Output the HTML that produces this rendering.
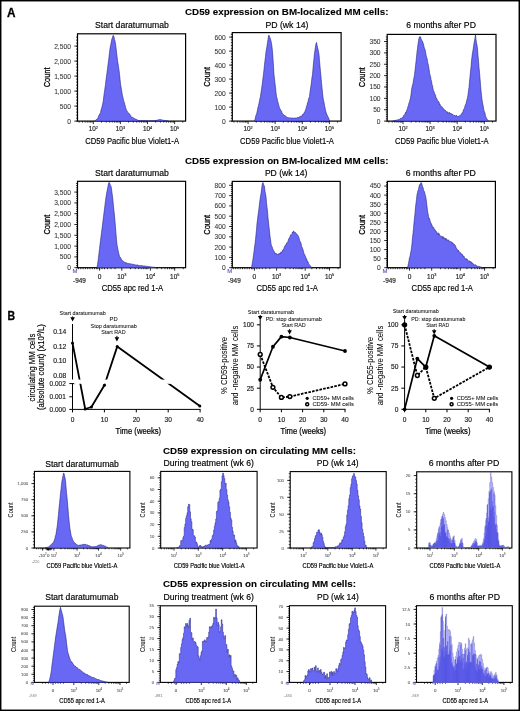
<!DOCTYPE html>
<html><head><meta charset="utf-8"><style>
html,body{margin:0;padding:0;background:#fff;}
svg{display:block;will-change:transform;font-family:"Liberation Sans",sans-serif;}
</style></head><body>
<svg width="520" height="711" viewBox="0 0 520 711">
<rect width="520" height="711" fill="#fff"/>
<rect x="0.7" y="0.7" width="518.6" height="709.6" fill="none" stroke="#000" stroke-width="1.5"/>
<text x="6.90" y="16.60" font-size="12" font-weight="bold" textLength="8.5" lengthAdjust="spacingAndGlyphs" stroke="#000" stroke-width="0.3">A</text>
<text x="7.50" y="320.40" font-size="12" font-weight="bold" textLength="7.6" lengthAdjust="spacingAndGlyphs" stroke="#000" stroke-width="0.3">B</text>
<text x="185.00" y="15.00" font-size="9.8" font-weight="bold" textLength="203.4" lengthAdjust="spacingAndGlyphs" stroke="#000" stroke-width="0.1">CD59 expression on BM-localized MM cells:</text>
<text x="185.00" y="163.70" font-size="9.8" font-weight="bold" textLength="203.4" lengthAdjust="spacingAndGlyphs" stroke="#000" stroke-width="0.1">CD55 expression on BM-localized MM cells:</text>
<rect x="77.50" y="33.80" width="108.10" height="87.30" fill="none" stroke="#000" stroke-width="1.2"/>
<rect x="232.30" y="32.60" width="108.80" height="88.50" fill="none" stroke="#000" stroke-width="1.2"/>
<rect x="387.20" y="34.40" width="108.80" height="86.70" fill="none" stroke="#000" stroke-width="1.2"/>
<text x="95.00" y="27.70" font-size="8.6" textLength="73.8" lengthAdjust="spacingAndGlyphs" stroke="#000" stroke-width="0.16">Start daratumumab</text>
<text x="265.40" y="27.70" font-size="8.6" textLength="43.1" lengthAdjust="spacingAndGlyphs" stroke="#000" stroke-width="0.16">PD (wk 14)</text>
<text x="406.20" y="27.70" font-size="8.6" textLength="69.7" lengthAdjust="spacingAndGlyphs" stroke="#000" stroke-width="0.16">6 months after PD</text>
<line x1="74.30" y1="121.10" x2="77.50" y2="121.10" stroke="#000" stroke-width="0.8"/>
<text x="70.90" y="123.51" font-size="6.7" text-anchor="end" fill="#333" stroke="#333" stroke-width="0.06">0</text>
<line x1="74.30" y1="106.10" x2="77.50" y2="106.10" stroke="#000" stroke-width="0.8"/>
<text x="70.90" y="108.51" font-size="6.7" text-anchor="end" fill="#333" stroke="#333" stroke-width="0.06">500</text>
<line x1="74.30" y1="91.10" x2="77.50" y2="91.10" stroke="#000" stroke-width="0.8"/>
<text x="70.90" y="93.51" font-size="6.7" text-anchor="end" fill="#333" stroke="#333" stroke-width="0.06">1,000</text>
<line x1="74.30" y1="76.10" x2="77.50" y2="76.10" stroke="#000" stroke-width="0.8"/>
<text x="70.90" y="78.51" font-size="6.7" text-anchor="end" fill="#333" stroke="#333" stroke-width="0.06">1,500</text>
<line x1="74.30" y1="61.10" x2="77.50" y2="61.10" stroke="#000" stroke-width="0.8"/>
<text x="70.90" y="63.51" font-size="6.7" text-anchor="end" fill="#333" stroke="#333" stroke-width="0.06">2,000</text>
<line x1="74.30" y1="46.10" x2="77.50" y2="46.10" stroke="#000" stroke-width="0.8"/>
<text x="70.90" y="48.51" font-size="6.7" text-anchor="end" fill="#333" stroke="#333" stroke-width="0.06">2,500</text>
<line x1="76.10" y1="121.10" x2="77.50" y2="121.10" stroke="#000" stroke-width="0.8"/>
<line x1="76.10" y1="118.10" x2="77.50" y2="118.10" stroke="#000" stroke-width="0.8"/>
<line x1="76.10" y1="115.10" x2="77.50" y2="115.10" stroke="#000" stroke-width="0.8"/>
<line x1="76.10" y1="112.10" x2="77.50" y2="112.10" stroke="#000" stroke-width="0.8"/>
<line x1="76.10" y1="109.10" x2="77.50" y2="109.10" stroke="#000" stroke-width="0.8"/>
<line x1="76.10" y1="106.10" x2="77.50" y2="106.10" stroke="#000" stroke-width="0.8"/>
<line x1="76.10" y1="103.10" x2="77.50" y2="103.10" stroke="#000" stroke-width="0.8"/>
<line x1="76.10" y1="100.10" x2="77.50" y2="100.10" stroke="#000" stroke-width="0.8"/>
<line x1="76.10" y1="97.10" x2="77.50" y2="97.10" stroke="#000" stroke-width="0.8"/>
<line x1="76.10" y1="94.10" x2="77.50" y2="94.10" stroke="#000" stroke-width="0.8"/>
<line x1="76.10" y1="91.10" x2="77.50" y2="91.10" stroke="#000" stroke-width="0.8"/>
<line x1="76.10" y1="88.10" x2="77.50" y2="88.10" stroke="#000" stroke-width="0.8"/>
<line x1="76.10" y1="85.10" x2="77.50" y2="85.10" stroke="#000" stroke-width="0.8"/>
<line x1="76.10" y1="82.10" x2="77.50" y2="82.10" stroke="#000" stroke-width="0.8"/>
<line x1="76.10" y1="79.10" x2="77.50" y2="79.10" stroke="#000" stroke-width="0.8"/>
<line x1="76.10" y1="76.10" x2="77.50" y2="76.10" stroke="#000" stroke-width="0.8"/>
<line x1="76.10" y1="73.10" x2="77.50" y2="73.10" stroke="#000" stroke-width="0.8"/>
<line x1="76.10" y1="70.10" x2="77.50" y2="70.10" stroke="#000" stroke-width="0.8"/>
<line x1="76.10" y1="67.10" x2="77.50" y2="67.10" stroke="#000" stroke-width="0.8"/>
<line x1="76.10" y1="64.10" x2="77.50" y2="64.10" stroke="#000" stroke-width="0.8"/>
<line x1="76.10" y1="61.10" x2="77.50" y2="61.10" stroke="#000" stroke-width="0.8"/>
<line x1="76.10" y1="58.10" x2="77.50" y2="58.10" stroke="#000" stroke-width="0.8"/>
<line x1="76.10" y1="55.10" x2="77.50" y2="55.10" stroke="#000" stroke-width="0.8"/>
<line x1="76.10" y1="52.10" x2="77.50" y2="52.10" stroke="#000" stroke-width="0.8"/>
<line x1="76.10" y1="49.10" x2="77.50" y2="49.10" stroke="#000" stroke-width="0.8"/>
<line x1="76.10" y1="46.10" x2="77.50" y2="46.10" stroke="#000" stroke-width="0.8"/>
<line x1="76.10" y1="43.10" x2="77.50" y2="43.10" stroke="#000" stroke-width="0.8"/>
<line x1="76.10" y1="40.10" x2="77.50" y2="40.10" stroke="#000" stroke-width="0.8"/>
<line x1="76.10" y1="37.10" x2="77.50" y2="37.10" stroke="#000" stroke-width="0.8"/>
<line x1="229.10" y1="121.10" x2="232.30" y2="121.10" stroke="#000" stroke-width="0.8"/>
<text x="225.70" y="123.51" font-size="6.7" text-anchor="end" fill="#333" stroke="#333" stroke-width="0.06">0</text>
<line x1="229.10" y1="107.10" x2="232.30" y2="107.10" stroke="#000" stroke-width="0.8"/>
<text x="225.70" y="109.51" font-size="6.7" text-anchor="end" fill="#333" stroke="#333" stroke-width="0.06">100</text>
<line x1="229.10" y1="93.10" x2="232.30" y2="93.10" stroke="#000" stroke-width="0.8"/>
<text x="225.70" y="95.51" font-size="6.7" text-anchor="end" fill="#333" stroke="#333" stroke-width="0.06">200</text>
<line x1="229.10" y1="79.10" x2="232.30" y2="79.10" stroke="#000" stroke-width="0.8"/>
<text x="225.70" y="81.51" font-size="6.7" text-anchor="end" fill="#333" stroke="#333" stroke-width="0.06">300</text>
<line x1="229.10" y1="65.10" x2="232.30" y2="65.10" stroke="#000" stroke-width="0.8"/>
<text x="225.70" y="67.51" font-size="6.7" text-anchor="end" fill="#333" stroke="#333" stroke-width="0.06">400</text>
<line x1="229.10" y1="51.10" x2="232.30" y2="51.10" stroke="#000" stroke-width="0.8"/>
<text x="225.70" y="53.51" font-size="6.7" text-anchor="end" fill="#333" stroke="#333" stroke-width="0.06">500</text>
<line x1="229.10" y1="37.10" x2="232.30" y2="37.10" stroke="#000" stroke-width="0.8"/>
<text x="225.70" y="39.51" font-size="6.7" text-anchor="end" fill="#333" stroke="#333" stroke-width="0.06">600</text>
<line x1="230.90" y1="121.10" x2="232.30" y2="121.10" stroke="#000" stroke-width="0.8"/>
<line x1="230.90" y1="118.30" x2="232.30" y2="118.30" stroke="#000" stroke-width="0.8"/>
<line x1="230.90" y1="115.50" x2="232.30" y2="115.50" stroke="#000" stroke-width="0.8"/>
<line x1="230.90" y1="112.70" x2="232.30" y2="112.70" stroke="#000" stroke-width="0.8"/>
<line x1="230.90" y1="109.90" x2="232.30" y2="109.90" stroke="#000" stroke-width="0.8"/>
<line x1="230.90" y1="107.10" x2="232.30" y2="107.10" stroke="#000" stroke-width="0.8"/>
<line x1="230.90" y1="104.30" x2="232.30" y2="104.30" stroke="#000" stroke-width="0.8"/>
<line x1="230.90" y1="101.50" x2="232.30" y2="101.50" stroke="#000" stroke-width="0.8"/>
<line x1="230.90" y1="98.70" x2="232.30" y2="98.70" stroke="#000" stroke-width="0.8"/>
<line x1="230.90" y1="95.90" x2="232.30" y2="95.90" stroke="#000" stroke-width="0.8"/>
<line x1="230.90" y1="93.10" x2="232.30" y2="93.10" stroke="#000" stroke-width="0.8"/>
<line x1="230.90" y1="90.30" x2="232.30" y2="90.30" stroke="#000" stroke-width="0.8"/>
<line x1="230.90" y1="87.50" x2="232.30" y2="87.50" stroke="#000" stroke-width="0.8"/>
<line x1="230.90" y1="84.70" x2="232.30" y2="84.70" stroke="#000" stroke-width="0.8"/>
<line x1="230.90" y1="81.90" x2="232.30" y2="81.90" stroke="#000" stroke-width="0.8"/>
<line x1="230.90" y1="79.10" x2="232.30" y2="79.10" stroke="#000" stroke-width="0.8"/>
<line x1="230.90" y1="76.30" x2="232.30" y2="76.30" stroke="#000" stroke-width="0.8"/>
<line x1="230.90" y1="73.50" x2="232.30" y2="73.50" stroke="#000" stroke-width="0.8"/>
<line x1="230.90" y1="70.70" x2="232.30" y2="70.70" stroke="#000" stroke-width="0.8"/>
<line x1="230.90" y1="67.90" x2="232.30" y2="67.90" stroke="#000" stroke-width="0.8"/>
<line x1="230.90" y1="65.10" x2="232.30" y2="65.10" stroke="#000" stroke-width="0.8"/>
<line x1="230.90" y1="62.30" x2="232.30" y2="62.30" stroke="#000" stroke-width="0.8"/>
<line x1="230.90" y1="59.50" x2="232.30" y2="59.50" stroke="#000" stroke-width="0.8"/>
<line x1="230.90" y1="56.70" x2="232.30" y2="56.70" stroke="#000" stroke-width="0.8"/>
<line x1="230.90" y1="53.90" x2="232.30" y2="53.90" stroke="#000" stroke-width="0.8"/>
<line x1="230.90" y1="51.10" x2="232.30" y2="51.10" stroke="#000" stroke-width="0.8"/>
<line x1="230.90" y1="48.30" x2="232.30" y2="48.30" stroke="#000" stroke-width="0.8"/>
<line x1="230.90" y1="45.50" x2="232.30" y2="45.50" stroke="#000" stroke-width="0.8"/>
<line x1="230.90" y1="42.70" x2="232.30" y2="42.70" stroke="#000" stroke-width="0.8"/>
<line x1="230.90" y1="39.90" x2="232.30" y2="39.90" stroke="#000" stroke-width="0.8"/>
<line x1="230.90" y1="37.10" x2="232.30" y2="37.10" stroke="#000" stroke-width="0.8"/>
<line x1="230.90" y1="34.30" x2="232.30" y2="34.30" stroke="#000" stroke-width="0.8"/>
<line x1="384.00" y1="121.10" x2="387.20" y2="121.10" stroke="#000" stroke-width="0.8"/>
<text x="380.60" y="123.51" font-size="6.7" text-anchor="end" fill="#333" stroke="#333" stroke-width="0.06">0</text>
<line x1="384.00" y1="109.73" x2="387.20" y2="109.73" stroke="#000" stroke-width="0.8"/>
<text x="380.60" y="112.14" font-size="6.7" text-anchor="end" fill="#333" stroke="#333" stroke-width="0.06">50</text>
<line x1="384.00" y1="98.36" x2="387.20" y2="98.36" stroke="#000" stroke-width="0.8"/>
<text x="380.60" y="100.77" font-size="6.7" text-anchor="end" fill="#333" stroke="#333" stroke-width="0.06">100</text>
<line x1="384.00" y1="86.99" x2="387.20" y2="86.99" stroke="#000" stroke-width="0.8"/>
<text x="380.60" y="89.40" font-size="6.7" text-anchor="end" fill="#333" stroke="#333" stroke-width="0.06">150</text>
<line x1="384.00" y1="75.62" x2="387.20" y2="75.62" stroke="#000" stroke-width="0.8"/>
<text x="380.60" y="78.03" font-size="6.7" text-anchor="end" fill="#333" stroke="#333" stroke-width="0.06">200</text>
<line x1="384.00" y1="64.25" x2="387.20" y2="64.25" stroke="#000" stroke-width="0.8"/>
<text x="380.60" y="66.66" font-size="6.7" text-anchor="end" fill="#333" stroke="#333" stroke-width="0.06">250</text>
<line x1="384.00" y1="52.88" x2="387.20" y2="52.88" stroke="#000" stroke-width="0.8"/>
<text x="380.60" y="55.29" font-size="6.7" text-anchor="end" fill="#333" stroke="#333" stroke-width="0.06">300</text>
<line x1="384.00" y1="41.51" x2="387.20" y2="41.51" stroke="#000" stroke-width="0.8"/>
<text x="380.60" y="43.92" font-size="6.7" text-anchor="end" fill="#333" stroke="#333" stroke-width="0.06">350</text>
<line x1="385.80" y1="121.10" x2="387.20" y2="121.10" stroke="#000" stroke-width="0.8"/>
<line x1="385.80" y1="118.83" x2="387.20" y2="118.83" stroke="#000" stroke-width="0.8"/>
<line x1="385.80" y1="116.55" x2="387.20" y2="116.55" stroke="#000" stroke-width="0.8"/>
<line x1="385.80" y1="114.28" x2="387.20" y2="114.28" stroke="#000" stroke-width="0.8"/>
<line x1="385.80" y1="112.00" x2="387.20" y2="112.00" stroke="#000" stroke-width="0.8"/>
<line x1="385.80" y1="109.73" x2="387.20" y2="109.73" stroke="#000" stroke-width="0.8"/>
<line x1="385.80" y1="107.46" x2="387.20" y2="107.46" stroke="#000" stroke-width="0.8"/>
<line x1="385.80" y1="105.18" x2="387.20" y2="105.18" stroke="#000" stroke-width="0.8"/>
<line x1="385.80" y1="102.91" x2="387.20" y2="102.91" stroke="#000" stroke-width="0.8"/>
<line x1="385.80" y1="100.63" x2="387.20" y2="100.63" stroke="#000" stroke-width="0.8"/>
<line x1="385.80" y1="98.36" x2="387.20" y2="98.36" stroke="#000" stroke-width="0.8"/>
<line x1="385.80" y1="96.09" x2="387.20" y2="96.09" stroke="#000" stroke-width="0.8"/>
<line x1="385.80" y1="93.81" x2="387.20" y2="93.81" stroke="#000" stroke-width="0.8"/>
<line x1="385.80" y1="91.54" x2="387.20" y2="91.54" stroke="#000" stroke-width="0.8"/>
<line x1="385.80" y1="89.26" x2="387.20" y2="89.26" stroke="#000" stroke-width="0.8"/>
<line x1="385.80" y1="86.99" x2="387.20" y2="86.99" stroke="#000" stroke-width="0.8"/>
<line x1="385.80" y1="84.72" x2="387.20" y2="84.72" stroke="#000" stroke-width="0.8"/>
<line x1="385.80" y1="82.44" x2="387.20" y2="82.44" stroke="#000" stroke-width="0.8"/>
<line x1="385.80" y1="80.17" x2="387.20" y2="80.17" stroke="#000" stroke-width="0.8"/>
<line x1="385.80" y1="77.89" x2="387.20" y2="77.89" stroke="#000" stroke-width="0.8"/>
<line x1="385.80" y1="75.62" x2="387.20" y2="75.62" stroke="#000" stroke-width="0.8"/>
<line x1="385.80" y1="73.35" x2="387.20" y2="73.35" stroke="#000" stroke-width="0.8"/>
<line x1="385.80" y1="71.07" x2="387.20" y2="71.07" stroke="#000" stroke-width="0.8"/>
<line x1="385.80" y1="68.80" x2="387.20" y2="68.80" stroke="#000" stroke-width="0.8"/>
<line x1="385.80" y1="66.52" x2="387.20" y2="66.52" stroke="#000" stroke-width="0.8"/>
<line x1="385.80" y1="64.25" x2="387.20" y2="64.25" stroke="#000" stroke-width="0.8"/>
<line x1="385.80" y1="61.98" x2="387.20" y2="61.98" stroke="#000" stroke-width="0.8"/>
<line x1="385.80" y1="59.70" x2="387.20" y2="59.70" stroke="#000" stroke-width="0.8"/>
<line x1="385.80" y1="57.43" x2="387.20" y2="57.43" stroke="#000" stroke-width="0.8"/>
<line x1="385.80" y1="55.15" x2="387.20" y2="55.15" stroke="#000" stroke-width="0.8"/>
<line x1="385.80" y1="52.88" x2="387.20" y2="52.88" stroke="#000" stroke-width="0.8"/>
<line x1="385.80" y1="50.61" x2="387.20" y2="50.61" stroke="#000" stroke-width="0.8"/>
<line x1="385.80" y1="48.33" x2="387.20" y2="48.33" stroke="#000" stroke-width="0.8"/>
<line x1="385.80" y1="46.06" x2="387.20" y2="46.06" stroke="#000" stroke-width="0.8"/>
<line x1="385.80" y1="43.78" x2="387.20" y2="43.78" stroke="#000" stroke-width="0.8"/>
<line x1="385.80" y1="41.51" x2="387.20" y2="41.51" stroke="#000" stroke-width="0.8"/>
<line x1="385.80" y1="39.24" x2="387.20" y2="39.24" stroke="#000" stroke-width="0.8"/>
<line x1="385.80" y1="36.96" x2="387.20" y2="36.96" stroke="#000" stroke-width="0.8"/>
<text x="50.00" y="77.40" font-size="9.8" text-anchor="middle" textLength="19.8" lengthAdjust="spacingAndGlyphs" transform="rotate(-90 50.00 77.40)" stroke="#000" stroke-width="0.3">Count</text>
<text x="209.90" y="76.90" font-size="9.8" text-anchor="middle" textLength="19.8" lengthAdjust="spacingAndGlyphs" transform="rotate(-90 209.90 76.90)" stroke="#000" stroke-width="0.3">Count</text>
<text x="364.90" y="77.30" font-size="9.8" text-anchor="middle" textLength="19.8" lengthAdjust="spacingAndGlyphs" transform="rotate(-90 364.90 77.30)" stroke="#000" stroke-width="0.3">Count</text>
<line x1="93.30" y1="121.10" x2="93.30" y2="124.10" stroke="#000" stroke-width="0.8"/>
<line x1="120.40" y1="121.10" x2="120.40" y2="124.10" stroke="#000" stroke-width="0.8"/>
<line x1="147.50" y1="121.10" x2="147.50" y2="124.10" stroke="#000" stroke-width="0.8"/>
<line x1="174.60" y1="121.10" x2="174.60" y2="124.10" stroke="#000" stroke-width="0.8"/>
<line x1="79.13" y1="121.10" x2="79.13" y2="122.60" stroke="#000" stroke-width="0.8"/>
<line x1="82.52" y1="121.10" x2="82.52" y2="122.60" stroke="#000" stroke-width="0.8"/>
<line x1="85.14" y1="121.10" x2="85.14" y2="122.60" stroke="#000" stroke-width="0.8"/>
<line x1="87.29" y1="121.10" x2="87.29" y2="122.60" stroke="#000" stroke-width="0.8"/>
<line x1="89.10" y1="121.10" x2="89.10" y2="122.60" stroke="#000" stroke-width="0.8"/>
<line x1="90.67" y1="121.10" x2="90.67" y2="122.60" stroke="#000" stroke-width="0.8"/>
<line x1="92.06" y1="121.10" x2="92.06" y2="122.60" stroke="#000" stroke-width="0.8"/>
<line x1="101.46" y1="121.10" x2="101.46" y2="122.60" stroke="#000" stroke-width="0.8"/>
<line x1="106.23" y1="121.10" x2="106.23" y2="122.60" stroke="#000" stroke-width="0.8"/>
<line x1="109.62" y1="121.10" x2="109.62" y2="122.60" stroke="#000" stroke-width="0.8"/>
<line x1="112.24" y1="121.10" x2="112.24" y2="122.60" stroke="#000" stroke-width="0.8"/>
<line x1="114.39" y1="121.10" x2="114.39" y2="122.60" stroke="#000" stroke-width="0.8"/>
<line x1="116.20" y1="121.10" x2="116.20" y2="122.60" stroke="#000" stroke-width="0.8"/>
<line x1="117.77" y1="121.10" x2="117.77" y2="122.60" stroke="#000" stroke-width="0.8"/>
<line x1="119.16" y1="121.10" x2="119.16" y2="122.60" stroke="#000" stroke-width="0.8"/>
<line x1="128.56" y1="121.10" x2="128.56" y2="122.60" stroke="#000" stroke-width="0.8"/>
<line x1="133.33" y1="121.10" x2="133.33" y2="122.60" stroke="#000" stroke-width="0.8"/>
<line x1="136.72" y1="121.10" x2="136.72" y2="122.60" stroke="#000" stroke-width="0.8"/>
<line x1="139.34" y1="121.10" x2="139.34" y2="122.60" stroke="#000" stroke-width="0.8"/>
<line x1="141.49" y1="121.10" x2="141.49" y2="122.60" stroke="#000" stroke-width="0.8"/>
<line x1="143.30" y1="121.10" x2="143.30" y2="122.60" stroke="#000" stroke-width="0.8"/>
<line x1="144.87" y1="121.10" x2="144.87" y2="122.60" stroke="#000" stroke-width="0.8"/>
<line x1="146.26" y1="121.10" x2="146.26" y2="122.60" stroke="#000" stroke-width="0.8"/>
<line x1="155.66" y1="121.10" x2="155.66" y2="122.60" stroke="#000" stroke-width="0.8"/>
<line x1="160.43" y1="121.10" x2="160.43" y2="122.60" stroke="#000" stroke-width="0.8"/>
<line x1="163.82" y1="121.10" x2="163.82" y2="122.60" stroke="#000" stroke-width="0.8"/>
<line x1="166.44" y1="121.10" x2="166.44" y2="122.60" stroke="#000" stroke-width="0.8"/>
<line x1="168.59" y1="121.10" x2="168.59" y2="122.60" stroke="#000" stroke-width="0.8"/>
<line x1="170.40" y1="121.10" x2="170.40" y2="122.60" stroke="#000" stroke-width="0.8"/>
<line x1="171.97" y1="121.10" x2="171.97" y2="122.60" stroke="#000" stroke-width="0.8"/>
<line x1="173.36" y1="121.10" x2="173.36" y2="122.60" stroke="#000" stroke-width="0.8"/>
<line x1="182.76" y1="121.10" x2="182.76" y2="122.60" stroke="#000" stroke-width="0.8"/>
<text x="93.30" y="131.40" font-size="6.4" text-anchor="middle" fill="#222" stroke="#222" stroke-width="0.16">10<tspan font-size="3.8" dy="-2.69">2</tspan></text>
<text x="120.40" y="131.40" font-size="6.4" text-anchor="middle" fill="#222" stroke="#222" stroke-width="0.16">10<tspan font-size="3.8" dy="-2.69">3</tspan></text>
<text x="147.50" y="131.40" font-size="6.4" text-anchor="middle" fill="#222" stroke="#222" stroke-width="0.16">10<tspan font-size="3.8" dy="-2.69">4</tspan></text>
<text x="174.60" y="131.40" font-size="6.4" text-anchor="middle" fill="#222" stroke="#222" stroke-width="0.16">10<tspan font-size="3.8" dy="-2.69">5</tspan></text>
<text x="85.30" y="143.80" font-size="8.8" textLength="93.7" lengthAdjust="spacingAndGlyphs" stroke="#000" stroke-width="0.16">CD59 Pacific blue Violet1-A</text>
<line x1="248.10" y1="121.10" x2="248.10" y2="124.10" stroke="#000" stroke-width="0.8"/>
<line x1="275.20" y1="121.10" x2="275.20" y2="124.10" stroke="#000" stroke-width="0.8"/>
<line x1="302.30" y1="121.10" x2="302.30" y2="124.10" stroke="#000" stroke-width="0.8"/>
<line x1="329.40" y1="121.10" x2="329.40" y2="124.10" stroke="#000" stroke-width="0.8"/>
<line x1="233.93" y1="121.10" x2="233.93" y2="122.60" stroke="#000" stroke-width="0.8"/>
<line x1="237.32" y1="121.10" x2="237.32" y2="122.60" stroke="#000" stroke-width="0.8"/>
<line x1="239.94" y1="121.10" x2="239.94" y2="122.60" stroke="#000" stroke-width="0.8"/>
<line x1="242.09" y1="121.10" x2="242.09" y2="122.60" stroke="#000" stroke-width="0.8"/>
<line x1="243.90" y1="121.10" x2="243.90" y2="122.60" stroke="#000" stroke-width="0.8"/>
<line x1="245.47" y1="121.10" x2="245.47" y2="122.60" stroke="#000" stroke-width="0.8"/>
<line x1="246.86" y1="121.10" x2="246.86" y2="122.60" stroke="#000" stroke-width="0.8"/>
<line x1="256.26" y1="121.10" x2="256.26" y2="122.60" stroke="#000" stroke-width="0.8"/>
<line x1="261.03" y1="121.10" x2="261.03" y2="122.60" stroke="#000" stroke-width="0.8"/>
<line x1="264.42" y1="121.10" x2="264.42" y2="122.60" stroke="#000" stroke-width="0.8"/>
<line x1="267.04" y1="121.10" x2="267.04" y2="122.60" stroke="#000" stroke-width="0.8"/>
<line x1="269.19" y1="121.10" x2="269.19" y2="122.60" stroke="#000" stroke-width="0.8"/>
<line x1="271.00" y1="121.10" x2="271.00" y2="122.60" stroke="#000" stroke-width="0.8"/>
<line x1="272.57" y1="121.10" x2="272.57" y2="122.60" stroke="#000" stroke-width="0.8"/>
<line x1="273.96" y1="121.10" x2="273.96" y2="122.60" stroke="#000" stroke-width="0.8"/>
<line x1="283.36" y1="121.10" x2="283.36" y2="122.60" stroke="#000" stroke-width="0.8"/>
<line x1="288.13" y1="121.10" x2="288.13" y2="122.60" stroke="#000" stroke-width="0.8"/>
<line x1="291.52" y1="121.10" x2="291.52" y2="122.60" stroke="#000" stroke-width="0.8"/>
<line x1="294.14" y1="121.10" x2="294.14" y2="122.60" stroke="#000" stroke-width="0.8"/>
<line x1="296.29" y1="121.10" x2="296.29" y2="122.60" stroke="#000" stroke-width="0.8"/>
<line x1="298.10" y1="121.10" x2="298.10" y2="122.60" stroke="#000" stroke-width="0.8"/>
<line x1="299.67" y1="121.10" x2="299.67" y2="122.60" stroke="#000" stroke-width="0.8"/>
<line x1="301.06" y1="121.10" x2="301.06" y2="122.60" stroke="#000" stroke-width="0.8"/>
<line x1="310.46" y1="121.10" x2="310.46" y2="122.60" stroke="#000" stroke-width="0.8"/>
<line x1="315.23" y1="121.10" x2="315.23" y2="122.60" stroke="#000" stroke-width="0.8"/>
<line x1="318.62" y1="121.10" x2="318.62" y2="122.60" stroke="#000" stroke-width="0.8"/>
<line x1="321.24" y1="121.10" x2="321.24" y2="122.60" stroke="#000" stroke-width="0.8"/>
<line x1="323.39" y1="121.10" x2="323.39" y2="122.60" stroke="#000" stroke-width="0.8"/>
<line x1="325.20" y1="121.10" x2="325.20" y2="122.60" stroke="#000" stroke-width="0.8"/>
<line x1="326.77" y1="121.10" x2="326.77" y2="122.60" stroke="#000" stroke-width="0.8"/>
<line x1="328.16" y1="121.10" x2="328.16" y2="122.60" stroke="#000" stroke-width="0.8"/>
<line x1="337.56" y1="121.10" x2="337.56" y2="122.60" stroke="#000" stroke-width="0.8"/>
<text x="248.10" y="131.40" font-size="6.4" text-anchor="middle" fill="#222" stroke="#222" stroke-width="0.16">10<tspan font-size="3.8" dy="-2.69">2</tspan></text>
<text x="275.20" y="131.40" font-size="6.4" text-anchor="middle" fill="#222" stroke="#222" stroke-width="0.16">10<tspan font-size="3.8" dy="-2.69">3</tspan></text>
<text x="302.30" y="131.40" font-size="6.4" text-anchor="middle" fill="#222" stroke="#222" stroke-width="0.16">10<tspan font-size="3.8" dy="-2.69">4</tspan></text>
<text x="329.40" y="131.40" font-size="6.4" text-anchor="middle" fill="#222" stroke="#222" stroke-width="0.16">10<tspan font-size="3.8" dy="-2.69">5</tspan></text>
<text x="240.10" y="143.80" font-size="8.8" textLength="93.7" lengthAdjust="spacingAndGlyphs" stroke="#000" stroke-width="0.16">CD59 Pacific blue Violet1-A</text>
<line x1="403.00" y1="121.10" x2="403.00" y2="124.10" stroke="#000" stroke-width="0.8"/>
<line x1="430.10" y1="121.10" x2="430.10" y2="124.10" stroke="#000" stroke-width="0.8"/>
<line x1="457.20" y1="121.10" x2="457.20" y2="124.10" stroke="#000" stroke-width="0.8"/>
<line x1="484.30" y1="121.10" x2="484.30" y2="124.10" stroke="#000" stroke-width="0.8"/>
<line x1="388.83" y1="121.10" x2="388.83" y2="122.60" stroke="#000" stroke-width="0.8"/>
<line x1="392.22" y1="121.10" x2="392.22" y2="122.60" stroke="#000" stroke-width="0.8"/>
<line x1="394.84" y1="121.10" x2="394.84" y2="122.60" stroke="#000" stroke-width="0.8"/>
<line x1="396.99" y1="121.10" x2="396.99" y2="122.60" stroke="#000" stroke-width="0.8"/>
<line x1="398.80" y1="121.10" x2="398.80" y2="122.60" stroke="#000" stroke-width="0.8"/>
<line x1="400.37" y1="121.10" x2="400.37" y2="122.60" stroke="#000" stroke-width="0.8"/>
<line x1="401.76" y1="121.10" x2="401.76" y2="122.60" stroke="#000" stroke-width="0.8"/>
<line x1="411.16" y1="121.10" x2="411.16" y2="122.60" stroke="#000" stroke-width="0.8"/>
<line x1="415.93" y1="121.10" x2="415.93" y2="122.60" stroke="#000" stroke-width="0.8"/>
<line x1="419.32" y1="121.10" x2="419.32" y2="122.60" stroke="#000" stroke-width="0.8"/>
<line x1="421.94" y1="121.10" x2="421.94" y2="122.60" stroke="#000" stroke-width="0.8"/>
<line x1="424.09" y1="121.10" x2="424.09" y2="122.60" stroke="#000" stroke-width="0.8"/>
<line x1="425.90" y1="121.10" x2="425.90" y2="122.60" stroke="#000" stroke-width="0.8"/>
<line x1="427.47" y1="121.10" x2="427.47" y2="122.60" stroke="#000" stroke-width="0.8"/>
<line x1="428.86" y1="121.10" x2="428.86" y2="122.60" stroke="#000" stroke-width="0.8"/>
<line x1="438.26" y1="121.10" x2="438.26" y2="122.60" stroke="#000" stroke-width="0.8"/>
<line x1="443.03" y1="121.10" x2="443.03" y2="122.60" stroke="#000" stroke-width="0.8"/>
<line x1="446.42" y1="121.10" x2="446.42" y2="122.60" stroke="#000" stroke-width="0.8"/>
<line x1="449.04" y1="121.10" x2="449.04" y2="122.60" stroke="#000" stroke-width="0.8"/>
<line x1="451.19" y1="121.10" x2="451.19" y2="122.60" stroke="#000" stroke-width="0.8"/>
<line x1="453.00" y1="121.10" x2="453.00" y2="122.60" stroke="#000" stroke-width="0.8"/>
<line x1="454.57" y1="121.10" x2="454.57" y2="122.60" stroke="#000" stroke-width="0.8"/>
<line x1="455.96" y1="121.10" x2="455.96" y2="122.60" stroke="#000" stroke-width="0.8"/>
<line x1="465.36" y1="121.10" x2="465.36" y2="122.60" stroke="#000" stroke-width="0.8"/>
<line x1="470.13" y1="121.10" x2="470.13" y2="122.60" stroke="#000" stroke-width="0.8"/>
<line x1="473.52" y1="121.10" x2="473.52" y2="122.60" stroke="#000" stroke-width="0.8"/>
<line x1="476.14" y1="121.10" x2="476.14" y2="122.60" stroke="#000" stroke-width="0.8"/>
<line x1="478.29" y1="121.10" x2="478.29" y2="122.60" stroke="#000" stroke-width="0.8"/>
<line x1="480.10" y1="121.10" x2="480.10" y2="122.60" stroke="#000" stroke-width="0.8"/>
<line x1="481.67" y1="121.10" x2="481.67" y2="122.60" stroke="#000" stroke-width="0.8"/>
<line x1="483.06" y1="121.10" x2="483.06" y2="122.60" stroke="#000" stroke-width="0.8"/>
<line x1="492.46" y1="121.10" x2="492.46" y2="122.60" stroke="#000" stroke-width="0.8"/>
<text x="403.00" y="131.40" font-size="6.4" text-anchor="middle" fill="#222" stroke="#222" stroke-width="0.16">10<tspan font-size="3.8" dy="-2.69">2</tspan></text>
<text x="430.10" y="131.40" font-size="6.4" text-anchor="middle" fill="#222" stroke="#222" stroke-width="0.16">10<tspan font-size="3.8" dy="-2.69">3</tspan></text>
<text x="457.20" y="131.40" font-size="6.4" text-anchor="middle" fill="#222" stroke="#222" stroke-width="0.16">10<tspan font-size="3.8" dy="-2.69">4</tspan></text>
<text x="484.30" y="131.40" font-size="6.4" text-anchor="middle" fill="#222" stroke="#222" stroke-width="0.16">10<tspan font-size="3.8" dy="-2.69">5</tspan></text>
<text x="395.00" y="143.80" font-size="8.8" textLength="93.7" lengthAdjust="spacingAndGlyphs" stroke="#000" stroke-width="0.16">CD59 Pacific blue Violet1-A</text>
<rect x="77.50" y="181.30" width="108.10" height="86.40" fill="none" stroke="#000" stroke-width="1.2"/>
<rect x="232.30" y="181.40" width="107.90" height="86.30" fill="none" stroke="#000" stroke-width="1.2"/>
<rect x="387.40" y="181.40" width="108.00" height="86.30" fill="none" stroke="#000" stroke-width="1.2"/>
<text x="95.00" y="176.20" font-size="8.6" textLength="73.8" lengthAdjust="spacingAndGlyphs" stroke="#000" stroke-width="0.16">Start daratumumab</text>
<text x="264.90" y="176.20" font-size="8.6" textLength="42.5" lengthAdjust="spacingAndGlyphs" stroke="#000" stroke-width="0.16">PD (wk 14)</text>
<text x="405.70" y="176.20" font-size="8.6" textLength="70.2" lengthAdjust="spacingAndGlyphs" stroke="#000" stroke-width="0.16">6 months after PD</text>
<line x1="74.30" y1="267.70" x2="77.50" y2="267.70" stroke="#000" stroke-width="0.8"/>
<text x="70.90" y="270.11" font-size="6.7" text-anchor="end" fill="#333" stroke="#333" stroke-width="0.06">0</text>
<line x1="74.30" y1="256.90" x2="77.50" y2="256.90" stroke="#000" stroke-width="0.8"/>
<text x="70.90" y="259.31" font-size="6.7" text-anchor="end" fill="#333" stroke="#333" stroke-width="0.06">500</text>
<line x1="74.30" y1="246.10" x2="77.50" y2="246.10" stroke="#000" stroke-width="0.8"/>
<text x="70.90" y="248.51" font-size="6.7" text-anchor="end" fill="#333" stroke="#333" stroke-width="0.06">1,000</text>
<line x1="74.30" y1="235.30" x2="77.50" y2="235.30" stroke="#000" stroke-width="0.8"/>
<text x="70.90" y="237.71" font-size="6.7" text-anchor="end" fill="#333" stroke="#333" stroke-width="0.06">1,500</text>
<line x1="74.30" y1="224.50" x2="77.50" y2="224.50" stroke="#000" stroke-width="0.8"/>
<text x="70.90" y="226.91" font-size="6.7" text-anchor="end" fill="#333" stroke="#333" stroke-width="0.06">2,000</text>
<line x1="74.30" y1="213.70" x2="77.50" y2="213.70" stroke="#000" stroke-width="0.8"/>
<text x="70.90" y="216.11" font-size="6.7" text-anchor="end" fill="#333" stroke="#333" stroke-width="0.06">2,500</text>
<line x1="74.30" y1="202.90" x2="77.50" y2="202.90" stroke="#000" stroke-width="0.8"/>
<text x="70.90" y="205.31" font-size="6.7" text-anchor="end" fill="#333" stroke="#333" stroke-width="0.06">3,000</text>
<line x1="74.30" y1="192.10" x2="77.50" y2="192.10" stroke="#000" stroke-width="0.8"/>
<text x="70.90" y="194.51" font-size="6.7" text-anchor="end" fill="#333" stroke="#333" stroke-width="0.06">3,500</text>
<line x1="76.10" y1="267.70" x2="77.50" y2="267.70" stroke="#000" stroke-width="0.8"/>
<line x1="76.10" y1="265.54" x2="77.50" y2="265.54" stroke="#000" stroke-width="0.8"/>
<line x1="76.10" y1="263.38" x2="77.50" y2="263.38" stroke="#000" stroke-width="0.8"/>
<line x1="76.10" y1="261.22" x2="77.50" y2="261.22" stroke="#000" stroke-width="0.8"/>
<line x1="76.10" y1="259.06" x2="77.50" y2="259.06" stroke="#000" stroke-width="0.8"/>
<line x1="76.10" y1="256.90" x2="77.50" y2="256.90" stroke="#000" stroke-width="0.8"/>
<line x1="76.10" y1="254.74" x2="77.50" y2="254.74" stroke="#000" stroke-width="0.8"/>
<line x1="76.10" y1="252.58" x2="77.50" y2="252.58" stroke="#000" stroke-width="0.8"/>
<line x1="76.10" y1="250.42" x2="77.50" y2="250.42" stroke="#000" stroke-width="0.8"/>
<line x1="76.10" y1="248.26" x2="77.50" y2="248.26" stroke="#000" stroke-width="0.8"/>
<line x1="76.10" y1="246.10" x2="77.50" y2="246.10" stroke="#000" stroke-width="0.8"/>
<line x1="76.10" y1="243.94" x2="77.50" y2="243.94" stroke="#000" stroke-width="0.8"/>
<line x1="76.10" y1="241.78" x2="77.50" y2="241.78" stroke="#000" stroke-width="0.8"/>
<line x1="76.10" y1="239.62" x2="77.50" y2="239.62" stroke="#000" stroke-width="0.8"/>
<line x1="76.10" y1="237.46" x2="77.50" y2="237.46" stroke="#000" stroke-width="0.8"/>
<line x1="76.10" y1="235.30" x2="77.50" y2="235.30" stroke="#000" stroke-width="0.8"/>
<line x1="76.10" y1="233.14" x2="77.50" y2="233.14" stroke="#000" stroke-width="0.8"/>
<line x1="76.10" y1="230.98" x2="77.50" y2="230.98" stroke="#000" stroke-width="0.8"/>
<line x1="76.10" y1="228.82" x2="77.50" y2="228.82" stroke="#000" stroke-width="0.8"/>
<line x1="76.10" y1="226.66" x2="77.50" y2="226.66" stroke="#000" stroke-width="0.8"/>
<line x1="76.10" y1="224.50" x2="77.50" y2="224.50" stroke="#000" stroke-width="0.8"/>
<line x1="76.10" y1="222.34" x2="77.50" y2="222.34" stroke="#000" stroke-width="0.8"/>
<line x1="76.10" y1="220.18" x2="77.50" y2="220.18" stroke="#000" stroke-width="0.8"/>
<line x1="76.10" y1="218.02" x2="77.50" y2="218.02" stroke="#000" stroke-width="0.8"/>
<line x1="76.10" y1="215.86" x2="77.50" y2="215.86" stroke="#000" stroke-width="0.8"/>
<line x1="76.10" y1="213.70" x2="77.50" y2="213.70" stroke="#000" stroke-width="0.8"/>
<line x1="76.10" y1="211.54" x2="77.50" y2="211.54" stroke="#000" stroke-width="0.8"/>
<line x1="76.10" y1="209.38" x2="77.50" y2="209.38" stroke="#000" stroke-width="0.8"/>
<line x1="76.10" y1="207.22" x2="77.50" y2="207.22" stroke="#000" stroke-width="0.8"/>
<line x1="76.10" y1="205.06" x2="77.50" y2="205.06" stroke="#000" stroke-width="0.8"/>
<line x1="76.10" y1="202.90" x2="77.50" y2="202.90" stroke="#000" stroke-width="0.8"/>
<line x1="76.10" y1="200.74" x2="77.50" y2="200.74" stroke="#000" stroke-width="0.8"/>
<line x1="76.10" y1="198.58" x2="77.50" y2="198.58" stroke="#000" stroke-width="0.8"/>
<line x1="76.10" y1="196.42" x2="77.50" y2="196.42" stroke="#000" stroke-width="0.8"/>
<line x1="76.10" y1="194.26" x2="77.50" y2="194.26" stroke="#000" stroke-width="0.8"/>
<line x1="76.10" y1="192.10" x2="77.50" y2="192.10" stroke="#000" stroke-width="0.8"/>
<line x1="76.10" y1="189.94" x2="77.50" y2="189.94" stroke="#000" stroke-width="0.8"/>
<line x1="76.10" y1="187.78" x2="77.50" y2="187.78" stroke="#000" stroke-width="0.8"/>
<line x1="76.10" y1="185.62" x2="77.50" y2="185.62" stroke="#000" stroke-width="0.8"/>
<line x1="76.10" y1="183.46" x2="77.50" y2="183.46" stroke="#000" stroke-width="0.8"/>
<line x1="229.10" y1="267.70" x2="232.30" y2="267.70" stroke="#000" stroke-width="0.8"/>
<text x="225.70" y="270.11" font-size="6.7" text-anchor="end" fill="#333" stroke="#333" stroke-width="0.06">0</text>
<line x1="229.10" y1="257.40" x2="232.30" y2="257.40" stroke="#000" stroke-width="0.8"/>
<text x="225.70" y="259.81" font-size="6.7" text-anchor="end" fill="#333" stroke="#333" stroke-width="0.06">100</text>
<line x1="229.10" y1="247.10" x2="232.30" y2="247.10" stroke="#000" stroke-width="0.8"/>
<text x="225.70" y="249.51" font-size="6.7" text-anchor="end" fill="#333" stroke="#333" stroke-width="0.06">200</text>
<line x1="229.10" y1="236.80" x2="232.30" y2="236.80" stroke="#000" stroke-width="0.8"/>
<text x="225.70" y="239.21" font-size="6.7" text-anchor="end" fill="#333" stroke="#333" stroke-width="0.06">300</text>
<line x1="229.10" y1="226.50" x2="232.30" y2="226.50" stroke="#000" stroke-width="0.8"/>
<text x="225.70" y="228.91" font-size="6.7" text-anchor="end" fill="#333" stroke="#333" stroke-width="0.06">400</text>
<line x1="229.10" y1="216.20" x2="232.30" y2="216.20" stroke="#000" stroke-width="0.8"/>
<text x="225.70" y="218.61" font-size="6.7" text-anchor="end" fill="#333" stroke="#333" stroke-width="0.06">500</text>
<line x1="229.10" y1="205.90" x2="232.30" y2="205.90" stroke="#000" stroke-width="0.8"/>
<text x="225.70" y="208.31" font-size="6.7" text-anchor="end" fill="#333" stroke="#333" stroke-width="0.06">600</text>
<line x1="229.10" y1="195.60" x2="232.30" y2="195.60" stroke="#000" stroke-width="0.8"/>
<text x="225.70" y="198.01" font-size="6.7" text-anchor="end" fill="#333" stroke="#333" stroke-width="0.06">700</text>
<line x1="229.10" y1="185.30" x2="232.30" y2="185.30" stroke="#000" stroke-width="0.8"/>
<text x="225.70" y="187.71" font-size="6.7" text-anchor="end" fill="#333" stroke="#333" stroke-width="0.06">800</text>
<line x1="230.90" y1="267.70" x2="232.30" y2="267.70" stroke="#000" stroke-width="0.8"/>
<line x1="230.90" y1="265.64" x2="232.30" y2="265.64" stroke="#000" stroke-width="0.8"/>
<line x1="230.90" y1="263.58" x2="232.30" y2="263.58" stroke="#000" stroke-width="0.8"/>
<line x1="230.90" y1="261.52" x2="232.30" y2="261.52" stroke="#000" stroke-width="0.8"/>
<line x1="230.90" y1="259.46" x2="232.30" y2="259.46" stroke="#000" stroke-width="0.8"/>
<line x1="230.90" y1="257.40" x2="232.30" y2="257.40" stroke="#000" stroke-width="0.8"/>
<line x1="230.90" y1="255.34" x2="232.30" y2="255.34" stroke="#000" stroke-width="0.8"/>
<line x1="230.90" y1="253.28" x2="232.30" y2="253.28" stroke="#000" stroke-width="0.8"/>
<line x1="230.90" y1="251.22" x2="232.30" y2="251.22" stroke="#000" stroke-width="0.8"/>
<line x1="230.90" y1="249.16" x2="232.30" y2="249.16" stroke="#000" stroke-width="0.8"/>
<line x1="230.90" y1="247.10" x2="232.30" y2="247.10" stroke="#000" stroke-width="0.8"/>
<line x1="230.90" y1="245.04" x2="232.30" y2="245.04" stroke="#000" stroke-width="0.8"/>
<line x1="230.90" y1="242.98" x2="232.30" y2="242.98" stroke="#000" stroke-width="0.8"/>
<line x1="230.90" y1="240.92" x2="232.30" y2="240.92" stroke="#000" stroke-width="0.8"/>
<line x1="230.90" y1="238.86" x2="232.30" y2="238.86" stroke="#000" stroke-width="0.8"/>
<line x1="230.90" y1="236.80" x2="232.30" y2="236.80" stroke="#000" stroke-width="0.8"/>
<line x1="230.90" y1="234.74" x2="232.30" y2="234.74" stroke="#000" stroke-width="0.8"/>
<line x1="230.90" y1="232.68" x2="232.30" y2="232.68" stroke="#000" stroke-width="0.8"/>
<line x1="230.90" y1="230.62" x2="232.30" y2="230.62" stroke="#000" stroke-width="0.8"/>
<line x1="230.90" y1="228.56" x2="232.30" y2="228.56" stroke="#000" stroke-width="0.8"/>
<line x1="230.90" y1="226.50" x2="232.30" y2="226.50" stroke="#000" stroke-width="0.8"/>
<line x1="230.90" y1="224.44" x2="232.30" y2="224.44" stroke="#000" stroke-width="0.8"/>
<line x1="230.90" y1="222.38" x2="232.30" y2="222.38" stroke="#000" stroke-width="0.8"/>
<line x1="230.90" y1="220.32" x2="232.30" y2="220.32" stroke="#000" stroke-width="0.8"/>
<line x1="230.90" y1="218.26" x2="232.30" y2="218.26" stroke="#000" stroke-width="0.8"/>
<line x1="230.90" y1="216.20" x2="232.30" y2="216.20" stroke="#000" stroke-width="0.8"/>
<line x1="230.90" y1="214.14" x2="232.30" y2="214.14" stroke="#000" stroke-width="0.8"/>
<line x1="230.90" y1="212.08" x2="232.30" y2="212.08" stroke="#000" stroke-width="0.8"/>
<line x1="230.90" y1="210.02" x2="232.30" y2="210.02" stroke="#000" stroke-width="0.8"/>
<line x1="230.90" y1="207.96" x2="232.30" y2="207.96" stroke="#000" stroke-width="0.8"/>
<line x1="230.90" y1="205.90" x2="232.30" y2="205.90" stroke="#000" stroke-width="0.8"/>
<line x1="230.90" y1="203.84" x2="232.30" y2="203.84" stroke="#000" stroke-width="0.8"/>
<line x1="230.90" y1="201.78" x2="232.30" y2="201.78" stroke="#000" stroke-width="0.8"/>
<line x1="230.90" y1="199.72" x2="232.30" y2="199.72" stroke="#000" stroke-width="0.8"/>
<line x1="230.90" y1="197.66" x2="232.30" y2="197.66" stroke="#000" stroke-width="0.8"/>
<line x1="230.90" y1="195.60" x2="232.30" y2="195.60" stroke="#000" stroke-width="0.8"/>
<line x1="230.90" y1="193.54" x2="232.30" y2="193.54" stroke="#000" stroke-width="0.8"/>
<line x1="230.90" y1="191.48" x2="232.30" y2="191.48" stroke="#000" stroke-width="0.8"/>
<line x1="230.90" y1="189.42" x2="232.30" y2="189.42" stroke="#000" stroke-width="0.8"/>
<line x1="230.90" y1="187.36" x2="232.30" y2="187.36" stroke="#000" stroke-width="0.8"/>
<line x1="230.90" y1="185.30" x2="232.30" y2="185.30" stroke="#000" stroke-width="0.8"/>
<line x1="230.90" y1="183.24" x2="232.30" y2="183.24" stroke="#000" stroke-width="0.8"/>
<line x1="384.20" y1="267.70" x2="387.40" y2="267.70" stroke="#000" stroke-width="0.8"/>
<text x="380.80" y="270.11" font-size="6.7" text-anchor="end" fill="#333" stroke="#333" stroke-width="0.06">0</text>
<line x1="384.20" y1="258.63" x2="387.40" y2="258.63" stroke="#000" stroke-width="0.8"/>
<text x="380.80" y="261.04" font-size="6.7" text-anchor="end" fill="#333" stroke="#333" stroke-width="0.06">50</text>
<line x1="384.20" y1="249.56" x2="387.40" y2="249.56" stroke="#000" stroke-width="0.8"/>
<text x="380.80" y="251.97" font-size="6.7" text-anchor="end" fill="#333" stroke="#333" stroke-width="0.06">100</text>
<line x1="384.20" y1="240.49" x2="387.40" y2="240.49" stroke="#000" stroke-width="0.8"/>
<text x="380.80" y="242.90" font-size="6.7" text-anchor="end" fill="#333" stroke="#333" stroke-width="0.06">150</text>
<line x1="384.20" y1="231.42" x2="387.40" y2="231.42" stroke="#000" stroke-width="0.8"/>
<text x="380.80" y="233.83" font-size="6.7" text-anchor="end" fill="#333" stroke="#333" stroke-width="0.06">200</text>
<line x1="384.20" y1="222.35" x2="387.40" y2="222.35" stroke="#000" stroke-width="0.8"/>
<text x="380.80" y="224.76" font-size="6.7" text-anchor="end" fill="#333" stroke="#333" stroke-width="0.06">250</text>
<line x1="384.20" y1="213.28" x2="387.40" y2="213.28" stroke="#000" stroke-width="0.8"/>
<text x="380.80" y="215.69" font-size="6.7" text-anchor="end" fill="#333" stroke="#333" stroke-width="0.06">300</text>
<line x1="384.20" y1="204.21" x2="387.40" y2="204.21" stroke="#000" stroke-width="0.8"/>
<text x="380.80" y="206.62" font-size="6.7" text-anchor="end" fill="#333" stroke="#333" stroke-width="0.06">350</text>
<line x1="384.20" y1="195.14" x2="387.40" y2="195.14" stroke="#000" stroke-width="0.8"/>
<text x="380.80" y="197.55" font-size="6.7" text-anchor="end" fill="#333" stroke="#333" stroke-width="0.06">400</text>
<line x1="384.20" y1="186.07" x2="387.40" y2="186.07" stroke="#000" stroke-width="0.8"/>
<text x="380.80" y="188.48" font-size="6.7" text-anchor="end" fill="#333" stroke="#333" stroke-width="0.06">450</text>
<line x1="386.00" y1="267.70" x2="387.40" y2="267.70" stroke="#000" stroke-width="0.8"/>
<line x1="386.00" y1="265.89" x2="387.40" y2="265.89" stroke="#000" stroke-width="0.8"/>
<line x1="386.00" y1="264.07" x2="387.40" y2="264.07" stroke="#000" stroke-width="0.8"/>
<line x1="386.00" y1="262.26" x2="387.40" y2="262.26" stroke="#000" stroke-width="0.8"/>
<line x1="386.00" y1="260.44" x2="387.40" y2="260.44" stroke="#000" stroke-width="0.8"/>
<line x1="386.00" y1="258.63" x2="387.40" y2="258.63" stroke="#000" stroke-width="0.8"/>
<line x1="386.00" y1="256.82" x2="387.40" y2="256.82" stroke="#000" stroke-width="0.8"/>
<line x1="386.00" y1="255.00" x2="387.40" y2="255.00" stroke="#000" stroke-width="0.8"/>
<line x1="386.00" y1="253.19" x2="387.40" y2="253.19" stroke="#000" stroke-width="0.8"/>
<line x1="386.00" y1="251.37" x2="387.40" y2="251.37" stroke="#000" stroke-width="0.8"/>
<line x1="386.00" y1="249.56" x2="387.40" y2="249.56" stroke="#000" stroke-width="0.8"/>
<line x1="386.00" y1="247.75" x2="387.40" y2="247.75" stroke="#000" stroke-width="0.8"/>
<line x1="386.00" y1="245.93" x2="387.40" y2="245.93" stroke="#000" stroke-width="0.8"/>
<line x1="386.00" y1="244.12" x2="387.40" y2="244.12" stroke="#000" stroke-width="0.8"/>
<line x1="386.00" y1="242.30" x2="387.40" y2="242.30" stroke="#000" stroke-width="0.8"/>
<line x1="386.00" y1="240.49" x2="387.40" y2="240.49" stroke="#000" stroke-width="0.8"/>
<line x1="386.00" y1="238.68" x2="387.40" y2="238.68" stroke="#000" stroke-width="0.8"/>
<line x1="386.00" y1="236.86" x2="387.40" y2="236.86" stroke="#000" stroke-width="0.8"/>
<line x1="386.00" y1="235.05" x2="387.40" y2="235.05" stroke="#000" stroke-width="0.8"/>
<line x1="386.00" y1="233.23" x2="387.40" y2="233.23" stroke="#000" stroke-width="0.8"/>
<line x1="386.00" y1="231.42" x2="387.40" y2="231.42" stroke="#000" stroke-width="0.8"/>
<line x1="386.00" y1="229.61" x2="387.40" y2="229.61" stroke="#000" stroke-width="0.8"/>
<line x1="386.00" y1="227.79" x2="387.40" y2="227.79" stroke="#000" stroke-width="0.8"/>
<line x1="386.00" y1="225.98" x2="387.40" y2="225.98" stroke="#000" stroke-width="0.8"/>
<line x1="386.00" y1="224.16" x2="387.40" y2="224.16" stroke="#000" stroke-width="0.8"/>
<line x1="386.00" y1="222.35" x2="387.40" y2="222.35" stroke="#000" stroke-width="0.8"/>
<line x1="386.00" y1="220.54" x2="387.40" y2="220.54" stroke="#000" stroke-width="0.8"/>
<line x1="386.00" y1="218.72" x2="387.40" y2="218.72" stroke="#000" stroke-width="0.8"/>
<line x1="386.00" y1="216.91" x2="387.40" y2="216.91" stroke="#000" stroke-width="0.8"/>
<line x1="386.00" y1="215.09" x2="387.40" y2="215.09" stroke="#000" stroke-width="0.8"/>
<line x1="386.00" y1="213.28" x2="387.40" y2="213.28" stroke="#000" stroke-width="0.8"/>
<line x1="386.00" y1="211.47" x2="387.40" y2="211.47" stroke="#000" stroke-width="0.8"/>
<line x1="386.00" y1="209.65" x2="387.40" y2="209.65" stroke="#000" stroke-width="0.8"/>
<line x1="386.00" y1="207.84" x2="387.40" y2="207.84" stroke="#000" stroke-width="0.8"/>
<line x1="386.00" y1="206.02" x2="387.40" y2="206.02" stroke="#000" stroke-width="0.8"/>
<line x1="386.00" y1="204.21" x2="387.40" y2="204.21" stroke="#000" stroke-width="0.8"/>
<line x1="386.00" y1="202.40" x2="387.40" y2="202.40" stroke="#000" stroke-width="0.8"/>
<line x1="386.00" y1="200.58" x2="387.40" y2="200.58" stroke="#000" stroke-width="0.8"/>
<line x1="386.00" y1="198.77" x2="387.40" y2="198.77" stroke="#000" stroke-width="0.8"/>
<line x1="386.00" y1="196.95" x2="387.40" y2="196.95" stroke="#000" stroke-width="0.8"/>
<line x1="386.00" y1="195.14" x2="387.40" y2="195.14" stroke="#000" stroke-width="0.8"/>
<line x1="386.00" y1="193.33" x2="387.40" y2="193.33" stroke="#000" stroke-width="0.8"/>
<line x1="386.00" y1="191.51" x2="387.40" y2="191.51" stroke="#000" stroke-width="0.8"/>
<line x1="386.00" y1="189.70" x2="387.40" y2="189.70" stroke="#000" stroke-width="0.8"/>
<line x1="386.00" y1="187.88" x2="387.40" y2="187.88" stroke="#000" stroke-width="0.8"/>
<line x1="386.00" y1="186.07" x2="387.40" y2="186.07" stroke="#000" stroke-width="0.8"/>
<line x1="386.00" y1="184.26" x2="387.40" y2="184.26" stroke="#000" stroke-width="0.8"/>
<line x1="386.00" y1="182.44" x2="387.40" y2="182.44" stroke="#000" stroke-width="0.8"/>
<text x="50.00" y="224.60" font-size="9.8" text-anchor="middle" textLength="19.9" lengthAdjust="spacingAndGlyphs" transform="rotate(-90 50.00 224.60)" stroke="#000" stroke-width="0.3">Count</text>
<text x="210.00" y="224.80" font-size="9.8" text-anchor="middle" textLength="19.9" lengthAdjust="spacingAndGlyphs" transform="rotate(-90 210.00 224.80)" stroke="#000" stroke-width="0.3">Count</text>
<text x="364.90" y="224.90" font-size="9.8" text-anchor="middle" textLength="19.9" lengthAdjust="spacingAndGlyphs" transform="rotate(-90 364.90 224.90)" stroke="#000" stroke-width="0.3">Count</text>
<line x1="99.60" y1="267.70" x2="99.60" y2="270.70" stroke="#000" stroke-width="0.8"/>
<line x1="121.80" y1="267.70" x2="121.80" y2="270.70" stroke="#000" stroke-width="0.8"/>
<line x1="150.40" y1="267.70" x2="150.40" y2="270.70" stroke="#000" stroke-width="0.8"/>
<line x1="174.70" y1="267.70" x2="174.70" y2="270.70" stroke="#000" stroke-width="0.8"/>
<line x1="130.54" y1="267.70" x2="130.54" y2="269.20" stroke="#000" stroke-width="0.8"/>
<line x1="135.24" y1="267.70" x2="135.24" y2="269.20" stroke="#000" stroke-width="0.8"/>
<line x1="138.58" y1="267.70" x2="138.58" y2="269.20" stroke="#000" stroke-width="0.8"/>
<line x1="141.16" y1="267.70" x2="141.16" y2="269.20" stroke="#000" stroke-width="0.8"/>
<line x1="143.28" y1="267.70" x2="143.28" y2="269.20" stroke="#000" stroke-width="0.8"/>
<line x1="145.06" y1="267.70" x2="145.06" y2="269.20" stroke="#000" stroke-width="0.8"/>
<line x1="146.61" y1="267.70" x2="146.61" y2="269.20" stroke="#000" stroke-width="0.8"/>
<line x1="147.98" y1="267.70" x2="147.98" y2="269.20" stroke="#000" stroke-width="0.8"/>
<line x1="157.09" y1="267.70" x2="157.09" y2="269.20" stroke="#000" stroke-width="0.8"/>
<line x1="161.70" y1="267.70" x2="161.70" y2="269.20" stroke="#000" stroke-width="0.8"/>
<line x1="164.97" y1="267.70" x2="164.97" y2="269.20" stroke="#000" stroke-width="0.8"/>
<line x1="167.51" y1="267.70" x2="167.51" y2="269.20" stroke="#000" stroke-width="0.8"/>
<line x1="169.59" y1="267.70" x2="169.59" y2="269.20" stroke="#000" stroke-width="0.8"/>
<line x1="171.34" y1="267.70" x2="171.34" y2="269.20" stroke="#000" stroke-width="0.8"/>
<line x1="172.86" y1="267.70" x2="172.86" y2="269.20" stroke="#000" stroke-width="0.8"/>
<line x1="174.20" y1="267.70" x2="174.20" y2="269.20" stroke="#000" stroke-width="0.8"/>
<line x1="183.29" y1="267.70" x2="183.29" y2="269.20" stroke="#000" stroke-width="0.8"/>
<line x1="78.50" y1="267.70" x2="78.50" y2="269.20" stroke="#000" stroke-width="0.8"/>
<line x1="80.80" y1="267.70" x2="80.80" y2="269.20" stroke="#000" stroke-width="0.8"/>
<line x1="83.10" y1="267.70" x2="83.10" y2="269.20" stroke="#000" stroke-width="0.8"/>
<line x1="85.40" y1="267.70" x2="85.40" y2="269.20" stroke="#000" stroke-width="0.8"/>
<line x1="87.70" y1="267.70" x2="87.70" y2="269.20" stroke="#000" stroke-width="0.8"/>
<line x1="90.00" y1="267.70" x2="90.00" y2="269.20" stroke="#000" stroke-width="0.8"/>
<line x1="92.30" y1="267.70" x2="92.30" y2="269.20" stroke="#000" stroke-width="0.8"/>
<line x1="94.60" y1="267.70" x2="94.60" y2="269.20" stroke="#000" stroke-width="0.8"/>
<line x1="96.90" y1="267.70" x2="96.90" y2="269.20" stroke="#000" stroke-width="0.8"/>
<line x1="99.20" y1="267.70" x2="99.20" y2="269.20" stroke="#000" stroke-width="0.8"/>
<line x1="97.20" y1="267.70" x2="97.20" y2="269.20" stroke="#000" stroke-width="0.8"/>
<line x1="102.00" y1="267.70" x2="102.00" y2="269.20" stroke="#000" stroke-width="0.8"/>
<line x1="104.50" y1="267.70" x2="104.50" y2="269.20" stroke="#000" stroke-width="0.8"/>
<line x1="107.50" y1="267.70" x2="107.50" y2="269.20" stroke="#000" stroke-width="0.8"/>
<line x1="111.00" y1="267.70" x2="111.00" y2="269.20" stroke="#000" stroke-width="0.8"/>
<line x1="115.00" y1="267.70" x2="115.00" y2="269.20" stroke="#000" stroke-width="0.8"/>
<text x="99.60" y="278.60" font-size="6.6" text-anchor="middle" fill="#222" stroke="#222" stroke-width="0.16">0</text>
<text x="121.80" y="278.60" font-size="6.4" text-anchor="middle" fill="#222" stroke="#222" stroke-width="0.16">10<tspan font-size="3.8" dy="-2.69">3</tspan></text>
<text x="150.40" y="278.60" font-size="6.4" text-anchor="middle" fill="#222" stroke="#222" stroke-width="0.16">10<tspan font-size="3.8" dy="-2.69">4</tspan></text>
<text x="174.70" y="278.60" font-size="6.4" text-anchor="middle" fill="#222" stroke="#222" stroke-width="0.16">10<tspan font-size="3.8" dy="-2.69">5</tspan></text>
<text x="79.50" y="282.60" font-size="6.4" text-anchor="middle" fill="#222" stroke="#222" stroke-width="0.16">-949</text>
<text x="101.70" y="290.70" font-size="8.8" textLength="61.4" lengthAdjust="spacingAndGlyphs" stroke="#000" stroke-width="0.16">CD55 apc red 1-A</text>
<text x="72.50" y="273.20" font-size="6.0" fill="#5050c0" stroke="#5050c0" stroke-width="0.1">M</text>
<line x1="254.40" y1="267.70" x2="254.40" y2="270.70" stroke="#000" stroke-width="0.8"/>
<line x1="276.60" y1="267.70" x2="276.60" y2="270.70" stroke="#000" stroke-width="0.8"/>
<line x1="305.20" y1="267.70" x2="305.20" y2="270.70" stroke="#000" stroke-width="0.8"/>
<line x1="329.50" y1="267.70" x2="329.50" y2="270.70" stroke="#000" stroke-width="0.8"/>
<line x1="285.34" y1="267.70" x2="285.34" y2="269.20" stroke="#000" stroke-width="0.8"/>
<line x1="290.04" y1="267.70" x2="290.04" y2="269.20" stroke="#000" stroke-width="0.8"/>
<line x1="293.38" y1="267.70" x2="293.38" y2="269.20" stroke="#000" stroke-width="0.8"/>
<line x1="295.96" y1="267.70" x2="295.96" y2="269.20" stroke="#000" stroke-width="0.8"/>
<line x1="298.08" y1="267.70" x2="298.08" y2="269.20" stroke="#000" stroke-width="0.8"/>
<line x1="299.86" y1="267.70" x2="299.86" y2="269.20" stroke="#000" stroke-width="0.8"/>
<line x1="301.41" y1="267.70" x2="301.41" y2="269.20" stroke="#000" stroke-width="0.8"/>
<line x1="302.78" y1="267.70" x2="302.78" y2="269.20" stroke="#000" stroke-width="0.8"/>
<line x1="311.89" y1="267.70" x2="311.89" y2="269.20" stroke="#000" stroke-width="0.8"/>
<line x1="316.50" y1="267.70" x2="316.50" y2="269.20" stroke="#000" stroke-width="0.8"/>
<line x1="319.77" y1="267.70" x2="319.77" y2="269.20" stroke="#000" stroke-width="0.8"/>
<line x1="322.31" y1="267.70" x2="322.31" y2="269.20" stroke="#000" stroke-width="0.8"/>
<line x1="324.39" y1="267.70" x2="324.39" y2="269.20" stroke="#000" stroke-width="0.8"/>
<line x1="326.14" y1="267.70" x2="326.14" y2="269.20" stroke="#000" stroke-width="0.8"/>
<line x1="327.66" y1="267.70" x2="327.66" y2="269.20" stroke="#000" stroke-width="0.8"/>
<line x1="329.00" y1="267.70" x2="329.00" y2="269.20" stroke="#000" stroke-width="0.8"/>
<line x1="338.09" y1="267.70" x2="338.09" y2="269.20" stroke="#000" stroke-width="0.8"/>
<line x1="233.30" y1="267.70" x2="233.30" y2="269.20" stroke="#000" stroke-width="0.8"/>
<line x1="235.60" y1="267.70" x2="235.60" y2="269.20" stroke="#000" stroke-width="0.8"/>
<line x1="237.90" y1="267.70" x2="237.90" y2="269.20" stroke="#000" stroke-width="0.8"/>
<line x1="240.20" y1="267.70" x2="240.20" y2="269.20" stroke="#000" stroke-width="0.8"/>
<line x1="242.50" y1="267.70" x2="242.50" y2="269.20" stroke="#000" stroke-width="0.8"/>
<line x1="244.80" y1="267.70" x2="244.80" y2="269.20" stroke="#000" stroke-width="0.8"/>
<line x1="247.10" y1="267.70" x2="247.10" y2="269.20" stroke="#000" stroke-width="0.8"/>
<line x1="249.40" y1="267.70" x2="249.40" y2="269.20" stroke="#000" stroke-width="0.8"/>
<line x1="251.70" y1="267.70" x2="251.70" y2="269.20" stroke="#000" stroke-width="0.8"/>
<line x1="254.00" y1="267.70" x2="254.00" y2="269.20" stroke="#000" stroke-width="0.8"/>
<line x1="252.00" y1="267.70" x2="252.00" y2="269.20" stroke="#000" stroke-width="0.8"/>
<line x1="256.80" y1="267.70" x2="256.80" y2="269.20" stroke="#000" stroke-width="0.8"/>
<line x1="259.30" y1="267.70" x2="259.30" y2="269.20" stroke="#000" stroke-width="0.8"/>
<line x1="262.30" y1="267.70" x2="262.30" y2="269.20" stroke="#000" stroke-width="0.8"/>
<line x1="265.80" y1="267.70" x2="265.80" y2="269.20" stroke="#000" stroke-width="0.8"/>
<line x1="269.80" y1="267.70" x2="269.80" y2="269.20" stroke="#000" stroke-width="0.8"/>
<text x="254.40" y="278.60" font-size="6.6" text-anchor="middle" fill="#222" stroke="#222" stroke-width="0.16">0</text>
<text x="276.60" y="278.60" font-size="6.4" text-anchor="middle" fill="#222" stroke="#222" stroke-width="0.16">10<tspan font-size="3.8" dy="-2.69">3</tspan></text>
<text x="305.20" y="278.60" font-size="6.4" text-anchor="middle" fill="#222" stroke="#222" stroke-width="0.16">10<tspan font-size="3.8" dy="-2.69">4</tspan></text>
<text x="329.50" y="278.60" font-size="6.4" text-anchor="middle" fill="#222" stroke="#222" stroke-width="0.16">10<tspan font-size="3.8" dy="-2.69">5</tspan></text>
<text x="234.30" y="282.60" font-size="6.4" text-anchor="middle" fill="#222" stroke="#222" stroke-width="0.16">-949</text>
<text x="256.50" y="290.70" font-size="8.8" textLength="61.4" lengthAdjust="spacingAndGlyphs" stroke="#000" stroke-width="0.16">CD55 apc red 1-A</text>
<text x="227.30" y="273.20" font-size="6.0" fill="#5050c0" stroke="#5050c0" stroke-width="0.1">M</text>
<line x1="409.50" y1="267.70" x2="409.50" y2="270.70" stroke="#000" stroke-width="0.8"/>
<line x1="431.70" y1="267.70" x2="431.70" y2="270.70" stroke="#000" stroke-width="0.8"/>
<line x1="460.30" y1="267.70" x2="460.30" y2="270.70" stroke="#000" stroke-width="0.8"/>
<line x1="484.60" y1="267.70" x2="484.60" y2="270.70" stroke="#000" stroke-width="0.8"/>
<line x1="440.44" y1="267.70" x2="440.44" y2="269.20" stroke="#000" stroke-width="0.8"/>
<line x1="445.14" y1="267.70" x2="445.14" y2="269.20" stroke="#000" stroke-width="0.8"/>
<line x1="448.48" y1="267.70" x2="448.48" y2="269.20" stroke="#000" stroke-width="0.8"/>
<line x1="451.06" y1="267.70" x2="451.06" y2="269.20" stroke="#000" stroke-width="0.8"/>
<line x1="453.18" y1="267.70" x2="453.18" y2="269.20" stroke="#000" stroke-width="0.8"/>
<line x1="454.96" y1="267.70" x2="454.96" y2="269.20" stroke="#000" stroke-width="0.8"/>
<line x1="456.51" y1="267.70" x2="456.51" y2="269.20" stroke="#000" stroke-width="0.8"/>
<line x1="457.88" y1="267.70" x2="457.88" y2="269.20" stroke="#000" stroke-width="0.8"/>
<line x1="466.99" y1="267.70" x2="466.99" y2="269.20" stroke="#000" stroke-width="0.8"/>
<line x1="471.60" y1="267.70" x2="471.60" y2="269.20" stroke="#000" stroke-width="0.8"/>
<line x1="474.87" y1="267.70" x2="474.87" y2="269.20" stroke="#000" stroke-width="0.8"/>
<line x1="477.41" y1="267.70" x2="477.41" y2="269.20" stroke="#000" stroke-width="0.8"/>
<line x1="479.49" y1="267.70" x2="479.49" y2="269.20" stroke="#000" stroke-width="0.8"/>
<line x1="481.24" y1="267.70" x2="481.24" y2="269.20" stroke="#000" stroke-width="0.8"/>
<line x1="482.76" y1="267.70" x2="482.76" y2="269.20" stroke="#000" stroke-width="0.8"/>
<line x1="484.10" y1="267.70" x2="484.10" y2="269.20" stroke="#000" stroke-width="0.8"/>
<line x1="493.19" y1="267.70" x2="493.19" y2="269.20" stroke="#000" stroke-width="0.8"/>
<line x1="388.40" y1="267.70" x2="388.40" y2="269.20" stroke="#000" stroke-width="0.8"/>
<line x1="390.70" y1="267.70" x2="390.70" y2="269.20" stroke="#000" stroke-width="0.8"/>
<line x1="393.00" y1="267.70" x2="393.00" y2="269.20" stroke="#000" stroke-width="0.8"/>
<line x1="395.30" y1="267.70" x2="395.30" y2="269.20" stroke="#000" stroke-width="0.8"/>
<line x1="397.60" y1="267.70" x2="397.60" y2="269.20" stroke="#000" stroke-width="0.8"/>
<line x1="399.90" y1="267.70" x2="399.90" y2="269.20" stroke="#000" stroke-width="0.8"/>
<line x1="402.20" y1="267.70" x2="402.20" y2="269.20" stroke="#000" stroke-width="0.8"/>
<line x1="404.50" y1="267.70" x2="404.50" y2="269.20" stroke="#000" stroke-width="0.8"/>
<line x1="406.80" y1="267.70" x2="406.80" y2="269.20" stroke="#000" stroke-width="0.8"/>
<line x1="409.10" y1="267.70" x2="409.10" y2="269.20" stroke="#000" stroke-width="0.8"/>
<line x1="407.10" y1="267.70" x2="407.10" y2="269.20" stroke="#000" stroke-width="0.8"/>
<line x1="411.90" y1="267.70" x2="411.90" y2="269.20" stroke="#000" stroke-width="0.8"/>
<line x1="414.40" y1="267.70" x2="414.40" y2="269.20" stroke="#000" stroke-width="0.8"/>
<line x1="417.40" y1="267.70" x2="417.40" y2="269.20" stroke="#000" stroke-width="0.8"/>
<line x1="420.90" y1="267.70" x2="420.90" y2="269.20" stroke="#000" stroke-width="0.8"/>
<line x1="424.90" y1="267.70" x2="424.90" y2="269.20" stroke="#000" stroke-width="0.8"/>
<text x="409.50" y="278.60" font-size="6.6" text-anchor="middle" fill="#222" stroke="#222" stroke-width="0.16">0</text>
<text x="431.70" y="278.60" font-size="6.4" text-anchor="middle" fill="#222" stroke="#222" stroke-width="0.16">10<tspan font-size="3.8" dy="-2.69">3</tspan></text>
<text x="460.30" y="278.60" font-size="6.4" text-anchor="middle" fill="#222" stroke="#222" stroke-width="0.16">10<tspan font-size="3.8" dy="-2.69">4</tspan></text>
<text x="484.60" y="278.60" font-size="6.4" text-anchor="middle" fill="#222" stroke="#222" stroke-width="0.16">10<tspan font-size="3.8" dy="-2.69">5</tspan></text>
<text x="389.40" y="282.60" font-size="6.4" text-anchor="middle" fill="#222" stroke="#222" stroke-width="0.16">-949</text>
<text x="411.60" y="290.70" font-size="8.8" textLength="61.4" lengthAdjust="spacingAndGlyphs" stroke="#000" stroke-width="0.16">CD55 apc red 1-A</text>
<text x="382.40" y="273.20" font-size="6.0" fill="#5050c0" stroke="#5050c0" stroke-width="0.1">M</text>
<path d="M94.50,121.10 L94.50,121.10 L95.00,120.71 L95.50,120.30 L96.00,119.80 L96.50,119.43 L97.00,119.00 L97.50,118.66 L98.00,117.75 L98.50,116.26 L99.00,115.11 L99.50,114.87 L100.00,113.45 L100.50,112.76 L101.00,110.07 L101.50,108.58 L102.00,106.93 L102.50,104.50 L103.00,102.45 L103.50,99.07 L104.00,94.86 L104.50,91.53 L105.00,88.04 L105.50,84.44 L106.00,79.88 L106.50,76.15 L107.00,72.78 L107.50,68.71 L108.00,64.81 L108.50,60.94 L109.00,56.82 L109.50,52.38 L110.00,48.51 L110.50,45.91 L111.00,43.57 L111.50,40.81 L112.00,38.55 L112.50,37.52 L113.00,35.39 L113.50,35.76 L114.00,37.00 L114.50,39.50 L115.00,41.06 L115.50,43.90 L116.00,47.70 L116.50,52.03 L117.00,56.20 L117.50,60.60 L118.00,63.49 L118.50,67.12 L119.00,70.17 L119.50,74.30 L120.00,79.09 L120.50,83.88 L121.00,87.01 L121.50,89.84 L122.00,93.09 L122.50,95.70 L123.00,97.95 L123.50,100.27 L124.00,101.65 L124.50,103.17 L125.00,105.31 L125.50,107.23 L126.00,108.96 L126.50,110.21 L127.00,110.93 L127.50,111.65 L128.00,112.58 L128.50,112.98 L129.00,113.51 L129.50,114.26 L130.00,114.46 L130.50,115.17 L131.00,116.41 L131.50,117.24 L132.00,117.22 L132.50,117.35 L133.00,117.48 L133.50,117.93 L134.00,118.42 L134.50,118.56 L135.00,118.72 L135.50,119.09 L136.00,119.13 L136.50,119.48 L137.00,119.83 L137.50,120.00 L138.00,120.24 L138.50,120.48 L139.00,120.53 L139.50,120.59 L140.00,120.52 L140.50,120.61 L141.00,120.63 L141.50,120.66 L142.00,120.67 L142.50,120.70 L143.00,120.70 L143.50,120.72 L144.00,120.73 L144.50,120.74 L145.00,120.80 L145.50,120.81 L146.00,120.81 L146.50,120.85 L147.00,120.87 L147.50,120.89 L148.00,120.91 L148.50,120.94 L149.00,120.96 L149.50,120.98 L150.00,121.00 L150.50,120.95 L151.00,120.91 L151.50,120.86 L152.00,120.84 L152.50,120.81 L153.00,120.77 L153.50,120.73 L154.00,120.69 L154.50,120.61 L155.00,120.61 L155.50,120.56 L156.00,120.46 L156.50,120.32 L157.00,120.18 L157.50,120.17 L158.00,119.95 L158.50,119.80 L159.00,119.78 L159.50,119.59 L160.00,119.39 L160.50,119.53 L161.00,119.73 L161.50,119.77 L162.00,119.91 L162.50,120.10 L163.00,120.17 L163.50,120.26 L164.00,120.40 L164.50,120.44 L165.00,120.57 L165.50,120.66 L166.00,120.73 L166.50,120.82 L167.00,120.94 L167.50,121.01 L168.00,121.10 L168.00,121.10 Z" fill="#6868f5" stroke="#222288" stroke-width="0.6" stroke-linejoin="round"/>
<path d="M254.50,121.10 L254.50,121.10 L255.00,119.44 L255.50,117.14 L256.00,115.19 L256.50,114.22 L257.00,112.28 L257.50,109.98 L258.00,107.31 L258.50,105.44 L259.00,103.21 L259.50,100.95 L260.00,98.22 L260.50,96.32 L261.00,92.57 L261.50,89.27 L262.00,85.89 L262.50,82.14 L263.00,77.95 L263.50,74.13 L264.00,69.50 L264.50,64.80 L265.00,60.37 L265.50,56.48 L266.00,51.88 L266.50,48.77 L267.00,46.20 L267.50,42.58 L268.00,39.43 L268.50,35.86 L269.00,35.06 L269.50,36.64 L270.00,37.64 L270.50,39.30 L271.00,41.11 L271.50,43.59 L272.00,46.96 L272.50,51.78 L273.00,58.77 L273.50,66.59 L274.00,74.69 L274.50,78.96 L275.00,83.43 L275.50,87.34 L276.00,92.54 L276.50,96.95 L277.00,97.96 L277.50,100.63 L278.00,102.55 L278.50,104.21 L279.00,106.26 L279.50,107.74 L280.00,109.16 L280.50,109.54 L281.00,110.83 L281.50,111.15 L282.00,112.68 L282.50,113.59 L283.00,113.95 L283.50,114.51 L284.00,115.35 L284.50,115.54 L285.00,115.69 L285.50,115.85 L286.00,116.39 L286.50,117.14 L287.00,117.15 L287.50,117.76 L288.00,117.37 L288.50,117.89 L289.00,117.54 L289.50,118.04 L290.00,117.94 L290.50,117.87 L291.00,117.94 L291.50,118.09 L292.00,118.12 L292.50,118.02 L293.00,118.03 L293.50,118.15 L294.00,118.34 L294.50,118.10 L295.00,117.69 L295.50,118.11 L296.00,117.99 L296.50,118.05 L297.00,117.51 L297.50,117.83 L298.00,117.29 L298.50,117.51 L299.00,117.02 L299.50,116.78 L300.00,117.12 L300.50,116.25 L301.00,116.42 L301.50,116.55 L302.00,115.30 L302.50,114.62 L303.00,114.81 L303.50,113.65 L304.00,113.39 L304.50,111.95 L305.00,111.73 L305.50,109.78 L306.00,108.66 L306.50,106.23 L307.00,105.56 L307.50,102.72 L308.00,101.84 L308.50,99.27 L309.00,97.83 L309.50,96.78 L310.00,92.29 L310.50,88.62 L311.00,85.53 L311.50,81.46 L312.00,77.35 L312.50,74.79 L313.00,68.52 L313.50,63.12 L314.00,58.23 L314.50,53.29 L315.00,50.06 L315.50,46.39 L316.00,43.75 L316.50,42.43 L317.00,44.91 L317.50,47.27 L318.00,49.22 L318.50,51.39 L319.00,54.73 L319.50,60.68 L320.00,66.30 L320.50,71.84 L321.00,77.04 L321.50,82.85 L322.00,87.72 L322.50,92.75 L323.00,97.37 L323.50,100.47 L324.00,102.15 L324.50,105.29 L325.00,107.64 L325.50,110.37 L326.00,111.93 L326.50,114.06 L327.00,114.37 L327.50,115.92 L328.00,116.89 L328.50,117.82 L329.00,119.28 L329.50,120.36 L329.80,121.10 Z" fill="#6868f5" stroke="#222288" stroke-width="0.6" stroke-linejoin="round"/>
<path d="M393.00,121.10 L393.00,121.10 L393.50,120.97 L394.00,120.82 L394.50,120.71 L395.00,120.59 L395.50,120.35 L396.00,120.18 L396.50,120.26 L397.00,119.96 L397.50,119.80 L398.00,119.96 L398.50,119.62 L399.00,119.66 L399.50,119.17 L400.00,118.97 L400.50,118.30 L401.00,118.37 L401.50,118.29 L402.00,117.65 L402.50,117.59 L403.00,117.21 L403.50,115.62 L404.00,115.93 L404.50,114.91 L405.00,113.64 L405.50,112.41 L406.00,113.16 L406.50,110.83 L407.00,109.64 L407.50,108.31 L408.00,106.39 L408.50,105.26 L409.00,102.81 L409.50,102.04 L410.00,99.90 L410.50,97.78 L411.00,94.68 L411.50,90.28 L412.00,87.34 L412.50,84.89 L413.00,83.64 L413.50,80.09 L414.00,77.83 L414.50,74.64 L415.00,70.68 L415.50,66.13 L416.00,61.73 L416.50,57.15 L417.00,52.15 L417.50,48.42 L418.00,44.17 L418.50,40.77 L419.00,38.31 L419.50,36.82 L420.00,36.93 L420.50,36.71 L421.00,38.65 L421.50,39.87 L422.00,40.79 L422.50,41.21 L423.00,42.99 L423.50,43.94 L424.00,46.90 L424.50,48.28 L425.00,49.61 L425.50,51.39 L426.00,54.98 L426.50,57.40 L427.00,57.95 L427.50,61.63 L428.00,63.66 L428.50,65.92 L429.00,68.90 L429.50,72.48 L430.00,75.17 L430.50,76.18 L431.00,79.71 L431.50,81.18 L432.00,84.39 L432.50,85.70 L433.00,88.69 L433.50,90.87 L434.00,91.49 L434.50,93.87 L435.00,94.11 L435.50,95.17 L436.00,97.60 L436.50,98.06 L437.00,99.26 L437.50,100.40 L438.00,101.53 L438.50,101.47 L439.00,102.03 L439.50,104.28 L440.00,104.04 L440.50,105.96 L441.00,106.61 L441.50,106.28 L442.00,106.93 L442.50,107.54 L443.00,108.26 L443.50,108.67 L444.00,109.11 L444.50,109.72 L445.00,110.79 L445.50,110.51 L446.00,110.88 L446.50,111.90 L447.00,111.53 L447.50,111.89 L448.00,113.35 L448.50,112.78 L449.00,113.07 L449.50,112.35 L450.00,113.33 L450.50,113.87 L451.00,113.11 L451.50,114.43 L452.00,114.70 L452.50,113.92 L453.00,115.19 L453.50,115.14 L454.00,115.73 L454.50,115.30 L455.00,116.00 L455.50,116.16 L456.00,115.16 L456.50,115.35 L457.00,116.40 L457.50,116.93 L458.00,116.03 L458.50,116.44 L459.00,116.34 L459.50,115.62 L460.00,115.38 L460.50,114.97 L461.00,114.76 L461.50,114.34 L462.00,112.97 L462.50,112.28 L463.00,112.16 L463.50,109.57 L464.00,109.19 L464.50,108.13 L465.00,106.01 L465.50,104.50 L466.00,103.94 L466.50,101.31 L467.00,99.60 L467.50,97.77 L468.00,94.94 L468.50,90.58 L469.00,87.68 L469.50,81.80 L470.00,76.80 L470.50,71.26 L471.00,67.17 L471.50,61.10 L472.00,56.57 L472.50,52.70 L473.00,50.29 L473.50,46.67 L474.00,43.42 L474.50,40.40 L475.00,38.29 L475.50,34.84 L476.00,39.43 L476.50,42.96 L477.00,45.26 L477.50,48.91 L478.00,55.38 L478.50,61.11 L479.00,67.44 L479.50,72.64 L480.00,78.29 L480.50,84.63 L481.00,90.84 L481.50,95.20 L482.00,99.61 L482.50,102.44 L483.00,105.15 L483.50,107.84 L484.00,110.91 L484.50,111.69 L485.00,113.23 L485.50,116.17 L486.00,117.21 L486.50,118.45 L487.00,118.73 L487.50,119.76 L488.00,120.42 L488.50,121.10 L488.50,121.10 Z" fill="#6868f5" stroke="#222288" stroke-width="0.6" stroke-linejoin="round"/>
<path d="M97.00,267.70 L97.00,267.70 L97.50,264.50 L98.00,261.53 L98.50,257.44 L99.00,252.90 L99.50,248.69 L100.00,244.63 L100.50,240.69 L101.00,236.81 L101.50,232.53 L102.00,228.93 L102.50,224.87 L103.00,220.94 L103.50,216.74 L104.00,212.69 L104.50,209.11 L105.00,204.89 L105.50,200.73 L106.00,197.15 L106.50,193.93 L107.00,191.29 L107.50,188.81 L108.00,186.16 L108.50,183.52 L109.00,182.33 L109.50,182.76 L110.00,184.24 L110.50,185.36 L111.00,186.29 L111.50,189.12 L112.00,192.95 L112.50,196.23 L113.00,201.37 L113.50,206.36 L114.00,211.15 L114.50,216.00 L115.00,221.53 L115.50,227.34 L116.00,233.66 L116.50,239.72 L117.00,244.81 L117.50,247.23 L118.00,249.88 L118.50,252.24 L119.00,254.53 L119.50,256.14 L120.00,257.36 L120.50,257.57 L121.00,258.39 L121.50,259.68 L122.00,260.22 L122.50,260.79 L123.00,261.11 L123.50,261.37 L124.00,262.25 L124.50,262.01 L125.00,262.54 L125.50,262.54 L126.00,262.96 L126.50,262.87 L127.00,263.06 L127.50,263.43 L128.00,263.32 L128.50,263.59 L129.00,263.92 L129.50,263.57 L130.00,263.64 L130.50,263.81 L131.00,264.16 L131.50,264.17 L132.00,264.07 L132.50,264.20 L133.00,264.22 L133.50,264.42 L134.00,264.33 L134.50,264.69 L135.00,264.85 L135.50,264.95 L136.00,264.94 L136.50,265.11 L137.00,264.85 L137.50,265.03 L138.00,265.34 L138.50,265.36 L139.00,265.32 L139.50,265.56 L140.00,265.53 L140.50,265.65 L141.00,265.56 L141.50,265.60 L142.00,265.74 L142.50,265.73 L143.00,265.85 L143.50,266.06 L144.00,265.98 L144.50,265.97 L145.00,266.05 L145.50,266.14 L146.00,266.33 L146.50,266.31 L147.00,266.37 L147.50,266.40 L148.00,266.61 L148.50,266.59 L149.00,266.62 L149.50,266.66 L150.00,266.73 L150.50,266.80 L151.00,266.92 L151.50,266.93 L152.00,266.98 L152.50,267.08 L153.00,267.12 L153.50,267.23 L154.00,267.24 L154.50,267.32 L155.00,267.39 L155.50,267.44 L156.00,267.51 L156.00,267.70 Z" fill="#6868f5" stroke="#222288" stroke-width="0.6" stroke-linejoin="round"/>
<path d="M251.50,267.70 L251.50,267.70 L252.00,264.85 L252.50,262.09 L253.00,259.01 L253.50,255.18 L254.00,251.98 L254.50,247.05 L255.00,244.24 L255.50,239.99 L256.00,234.49 L256.50,229.88 L257.00,223.59 L257.50,219.60 L258.00,215.38 L258.50,211.99 L259.00,208.17 L259.50,203.41 L260.00,199.87 L260.50,196.26 L261.00,193.80 L261.50,190.08 L262.00,185.63 L262.50,183.17 L263.00,182.48 L263.50,184.57 L264.00,185.11 L264.50,186.98 L265.00,191.57 L265.50,193.70 L266.00,196.91 L266.50,202.64 L267.00,207.30 L267.50,211.37 L268.00,217.72 L268.50,222.22 L269.00,227.23 L269.50,231.27 L270.00,236.31 L270.50,239.53 L271.00,243.60 L271.50,245.88 L272.00,246.51 L272.50,248.19 L273.00,249.47 L273.50,250.31 L274.00,251.05 L274.50,252.31 L275.00,253.66 L275.50,252.89 L276.00,254.14 L276.50,253.78 L277.00,253.92 L277.50,254.91 L278.00,254.21 L278.50,253.79 L279.00,253.89 L279.50,254.09 L280.00,252.89 L280.50,253.84 L281.00,251.80 L281.50,252.44 L282.00,252.07 L282.50,250.23 L283.00,250.56 L283.50,248.99 L284.00,248.43 L284.50,246.61 L285.00,245.77 L285.50,244.99 L286.00,245.23 L286.50,243.01 L287.00,242.91 L287.50,242.19 L288.00,241.21 L288.50,239.25 L289.00,238.27 L289.50,237.54 L290.00,236.94 L290.50,234.87 L291.00,234.90 L291.50,234.38 L292.00,233.88 L292.50,231.96 L293.00,232.81 L293.50,230.85 L294.00,231.55 L294.50,232.28 L295.00,233.07 L295.50,232.44 L296.00,233.68 L296.50,233.82 L297.00,234.20 L297.50,234.96 L298.00,235.48 L298.50,236.58 L299.00,237.94 L299.50,240.05 L300.00,241.79 L300.50,241.96 L301.00,243.28 L301.50,246.28 L302.00,247.05 L302.50,248.35 L303.00,249.58 L303.50,251.65 L304.00,253.52 L304.50,254.23 L305.00,255.48 L305.50,256.20 L306.00,258.88 L306.50,258.62 L307.00,260.29 L307.50,261.76 L308.00,261.60 L308.50,263.36 L309.00,264.44 L309.50,264.82 L310.00,265.60 L310.50,265.97 L311.00,266.83 L311.50,267.54 L311.60,267.70 Z" fill="#6868f5" stroke="#222288" stroke-width="0.6" stroke-linejoin="round"/>
<path d="M407.50,267.70 L407.50,267.70 L408.00,265.83 L408.50,263.38 L409.00,260.69 L409.50,257.58 L410.00,256.48 L410.50,253.32 L411.00,251.32 L411.50,247.70 L412.00,243.65 L412.50,237.45 L413.00,233.72 L413.50,228.55 L414.00,222.79 L414.50,218.09 L415.00,213.44 L415.50,207.26 L416.00,203.13 L416.50,199.38 L417.00,194.70 L417.50,192.60 L418.00,190.50 L418.50,189.44 L419.00,186.78 L419.50,184.76 L420.00,185.02 L420.50,183.59 L421.00,182.40 L421.50,182.88 L422.00,184.46 L422.50,186.84 L423.00,187.34 L423.50,190.31 L424.00,191.06 L424.50,191.76 L425.00,194.47 L425.50,195.39 L426.00,198.39 L426.50,202.15 L427.00,206.47 L427.50,210.93 L428.00,213.50 L428.50,216.21 L429.00,219.06 L429.50,218.51 L430.00,220.54 L430.50,222.35 L431.00,222.87 L431.50,224.78 L432.00,224.82 L432.50,227.46 L433.00,227.36 L433.50,227.13 L434.00,229.19 L434.50,229.10 L435.00,229.57 L435.50,231.01 L436.00,230.93 L436.50,231.85 L437.00,233.90 L437.50,233.90 L438.00,232.66 L438.50,234.90 L439.00,233.48 L439.50,234.64 L440.00,236.41 L440.50,236.14 L441.00,235.79 L441.50,236.36 L442.00,236.79 L442.50,236.48 L443.00,238.78 L443.50,236.71 L444.00,237.79 L444.50,238.76 L445.00,238.13 L445.50,239.72 L446.00,238.16 L446.50,240.12 L447.00,240.11 L447.50,239.77 L448.00,240.50 L448.50,239.80 L449.00,241.12 L449.50,241.45 L450.00,241.18 L450.50,241.48 L451.00,242.44 L451.50,242.14 L452.00,241.77 L452.50,243.76 L453.00,243.01 L453.50,243.95 L454.00,245.15 L454.50,244.50 L455.00,244.96 L455.50,246.02 L456.00,247.96 L456.50,248.24 L457.00,248.65 L457.50,249.68 L458.00,251.38 L458.50,250.33 L459.00,251.27 L459.50,252.95 L460.00,252.87 L460.50,252.61 L461.00,253.64 L461.50,254.15 L462.00,253.84 L462.50,254.91 L463.00,255.23 L463.50,256.93 L464.00,256.28 L464.50,257.58 L465.00,258.83 L465.50,259.20 L466.00,258.30 L466.50,259.26 L467.00,259.00 L467.50,259.60 L468.00,260.23 L468.50,261.38 L469.00,262.14 L469.50,261.00 L470.00,260.77 L470.50,262.15 L471.00,261.67 L471.50,261.99 L472.00,263.71 L472.50,262.89 L473.00,264.19 L473.50,263.99 L474.00,265.06 L474.50,265.15 L475.00,264.47 L475.50,264.86 L476.00,265.81 L476.50,265.72 L477.00,265.79 L477.50,266.26 L478.00,266.48 L478.50,266.43 L479.00,266.55 L479.50,266.54 L480.00,266.79 L480.50,266.86 L481.00,267.13 L481.50,267.25 L482.00,267.32 L482.50,267.51 L482.50,267.70 Z" fill="#6868f5" stroke="#222288" stroke-width="0.6" stroke-linejoin="round"/>
<line x1="72.50" y1="324.00" x2="72.50" y2="379.50" stroke="#000" stroke-width="1.0"/>
<line x1="72.50" y1="383.60" x2="72.50" y2="409.40" stroke="#000" stroke-width="1.0"/>
<line x1="69.30" y1="383.60" x2="75.30" y2="383.60" stroke="#000" stroke-width="1.0"/>
<line x1="69.30" y1="396.80" x2="72.50" y2="396.80" stroke="#000" stroke-width="1.0"/>
<line x1="69.30" y1="409.40" x2="72.50" y2="409.40" stroke="#000" stroke-width="1.0"/>
<line x1="72.50" y1="409.40" x2="200.50" y2="409.40" stroke="#000" stroke-width="1.0"/>
<line x1="72.50" y1="409.40" x2="72.50" y2="412.40" stroke="#000" stroke-width="1.0"/>
<text x="72.50" y="421.60" font-size="6.6" text-anchor="middle" fill="#222" stroke="#222" stroke-width="0.16">0</text>
<line x1="104.40" y1="409.40" x2="104.40" y2="412.40" stroke="#000" stroke-width="1.0"/>
<text x="104.40" y="421.60" font-size="6.6" text-anchor="middle" fill="#222" stroke="#222" stroke-width="0.16">10</text>
<line x1="136.30" y1="409.40" x2="136.30" y2="412.40" stroke="#000" stroke-width="1.0"/>
<text x="136.30" y="421.60" font-size="6.6" text-anchor="middle" fill="#222" stroke="#222" stroke-width="0.16">20</text>
<line x1="168.20" y1="409.40" x2="168.20" y2="412.40" stroke="#000" stroke-width="1.0"/>
<text x="168.20" y="421.60" font-size="6.6" text-anchor="middle" fill="#222" stroke="#222" stroke-width="0.16">30</text>
<line x1="200.10" y1="409.40" x2="200.10" y2="412.40" stroke="#000" stroke-width="1.0"/>
<text x="200.10" y="421.60" font-size="6.6" text-anchor="middle" fill="#222" stroke="#222" stroke-width="0.16">40</text>
<text x="66.40" y="334.10" font-size="6.6" text-anchor="end" textLength="13.2" lengthAdjust="spacingAndGlyphs" fill="#222" stroke="#222" stroke-width="0.16">0.14</text>
<text x="66.40" y="348.60" font-size="6.6" text-anchor="end" textLength="13.2" lengthAdjust="spacingAndGlyphs" fill="#222" stroke="#222" stroke-width="0.16">0.12</text>
<text x="66.40" y="363.10" font-size="6.6" text-anchor="end" textLength="13.2" lengthAdjust="spacingAndGlyphs" fill="#222" stroke="#222" stroke-width="0.16">0.10</text>
<text x="66.40" y="377.60" font-size="6.6" text-anchor="end" textLength="13.2" lengthAdjust="spacingAndGlyphs" fill="#222" stroke="#222" stroke-width="0.16">0.08</text>
<text x="65.80" y="386.10" font-size="6.6" text-anchor="end" textLength="16.2" lengthAdjust="spacingAndGlyphs" fill="#222" stroke="#222" stroke-width="0.16">0.002</text>
<text x="65.80" y="398.90" font-size="6.6" text-anchor="end" textLength="16.2" lengthAdjust="spacingAndGlyphs" fill="#222" stroke="#222" stroke-width="0.16">0.001</text>
<text x="65.80" y="411.70" font-size="6.6" text-anchor="end" textLength="16.2" lengthAdjust="spacingAndGlyphs" fill="#222" stroke="#222" stroke-width="0.16">0.000</text>
<text x="138.30" y="433.80" font-size="9.2" text-anchor="middle" textLength="45.6" lengthAdjust="spacingAndGlyphs" stroke="#000" stroke-width="0.22">Time (weeks)</text>
<text x="35.00" y="367.50" font-size="8.6" text-anchor="middle" textLength="68.0" lengthAdjust="spacingAndGlyphs" transform="rotate(-90 35.00 367.50)" stroke="#000" stroke-width="0.16">circulating MM cells</text>
<text x="44.2" y="367" font-size="8.6" text-anchor="middle" transform="rotate(-90 44.2 367)" textLength="86" lengthAdjust="spacingAndGlyphs" stroke="#000" stroke-width="0.16">(absolute count) (x10<tspan font-size="5.6" dy="-3.2">9</tspan><tspan dy="3.2">/L)</tspan></text>
<path d="M72.50,342.90 L85.20,409.00 L91.40,407.00 L104.40,385.30 L117.20,346.60 L199.80,405.90" fill="none" stroke="#000" stroke-width="1.8" stroke-linejoin="round"/>
<rect x="74" y="379.6" width="130" height="4.2" fill="#fff"/>
<circle cx="72.50" cy="342.90" r="1.5" fill="#000"/>
<circle cx="85.20" cy="409.00" r="1.5" fill="#000"/>
<circle cx="91.40" cy="407.00" r="1.5" fill="#000"/>
<circle cx="104.40" cy="385.30" r="1.5" fill="#000"/>
<circle cx="117.20" cy="346.60" r="1.5" fill="#000"/>
<circle cx="199.80" cy="405.90" r="1.5" fill="#000"/>
<text x="82.70" y="314.80" font-size="5.8" text-anchor="middle" textLength="46.2" lengthAdjust="spacingAndGlyphs" fill="#111" stroke="#111" stroke-width="0.06">Start daratumumab</text>
<path d="M70.30,317.30 L74.90,317.30 L72.60,321.60 Z" fill="#000"/>
<line x1="72.60" y1="316.50" x2="72.60" y2="317.80" stroke="#000" stroke-width="1.0"/>
<text x="113.60" y="321.00" font-size="5.8" text-anchor="middle" fill="#111" stroke="#111" stroke-width="0.06">PD</text>
<text x="113.70" y="327.70" font-size="5.8" text-anchor="middle" textLength="46.2" lengthAdjust="spacingAndGlyphs" fill="#111" stroke="#111" stroke-width="0.06">Stop daratumumab</text>
<text x="113.40" y="334.40" font-size="5.8" text-anchor="middle" textLength="24.3" lengthAdjust="spacingAndGlyphs" fill="#111" stroke="#111" stroke-width="0.06">Start RAD</text>
<path d="M114.60,337.30 L119.20,337.30 L116.90,341.60 Z" fill="#000"/>
<line x1="116.90" y1="335.90" x2="116.90" y2="337.80" stroke="#000" stroke-width="1.0"/>
<line x1="260.20" y1="319.80" x2="260.20" y2="409.30" stroke="#000" stroke-width="1.0"/>
<line x1="260.20" y1="409.30" x2="345.60" y2="409.30" stroke="#000" stroke-width="1.0"/>
<line x1="256.90" y1="409.30" x2="260.20" y2="409.30" stroke="#000" stroke-width="1.0"/>
<text x="254.00" y="411.65" font-size="6.6" text-anchor="end" fill="#222" stroke="#222" stroke-width="0.16">0</text>
<line x1="256.90" y1="388.18" x2="260.20" y2="388.18" stroke="#000" stroke-width="1.0"/>
<text x="254.00" y="390.53" font-size="6.6" text-anchor="end" fill="#222" stroke="#222" stroke-width="0.16">25</text>
<line x1="256.90" y1="367.05" x2="260.20" y2="367.05" stroke="#000" stroke-width="1.0"/>
<text x="254.00" y="369.40" font-size="6.6" text-anchor="end" fill="#222" stroke="#222" stroke-width="0.16">50</text>
<line x1="256.90" y1="345.93" x2="260.20" y2="345.93" stroke="#000" stroke-width="1.0"/>
<text x="254.00" y="348.28" font-size="6.6" text-anchor="end" fill="#222" stroke="#222" stroke-width="0.16">75</text>
<line x1="256.90" y1="324.80" x2="260.20" y2="324.80" stroke="#000" stroke-width="1.0"/>
<text x="254.00" y="327.15" font-size="6.6" text-anchor="end" fill="#222" stroke="#222" stroke-width="0.16">100</text>
<line x1="260.20" y1="409.30" x2="260.20" y2="412.30" stroke="#000" stroke-width="1.0"/>
<text x="260.20" y="421.80" font-size="6.6" text-anchor="middle" fill="#222" stroke="#222" stroke-width="0.16">0</text>
<line x1="281.40" y1="409.30" x2="281.40" y2="412.30" stroke="#000" stroke-width="1.0"/>
<text x="281.40" y="421.80" font-size="6.6" text-anchor="middle" fill="#222" stroke="#222" stroke-width="0.16">10</text>
<line x1="302.60" y1="409.30" x2="302.60" y2="412.30" stroke="#000" stroke-width="1.0"/>
<text x="302.60" y="421.80" font-size="6.6" text-anchor="middle" fill="#222" stroke="#222" stroke-width="0.16">20</text>
<line x1="323.80" y1="409.30" x2="323.80" y2="412.30" stroke="#000" stroke-width="1.0"/>
<text x="323.80" y="421.80" font-size="6.6" text-anchor="middle" fill="#222" stroke="#222" stroke-width="0.16">30</text>
<line x1="345.00" y1="409.30" x2="345.00" y2="412.30" stroke="#000" stroke-width="1.0"/>
<text x="345.00" y="421.80" font-size="6.6" text-anchor="middle" fill="#222" stroke="#222" stroke-width="0.16">40</text>
<text x="303.30" y="433.60" font-size="9.2" text-anchor="middle" textLength="45.6" lengthAdjust="spacingAndGlyphs" stroke="#000" stroke-width="0.22">Time (weeks)</text>
<text x="227.30" y="365.40" font-size="9.2" text-anchor="middle" textLength="57.0" lengthAdjust="spacingAndGlyphs" transform="rotate(-90 227.30 365.40)" stroke="#000" stroke-width="0.03">% CD59-positive</text>
<text x="237.70" y="365.40" font-size="9.2" text-anchor="middle" textLength="79.7" lengthAdjust="spacingAndGlyphs" transform="rotate(-90 237.70 365.40)" stroke="#000" stroke-width="0.03">and -negative MM cells</text>
<path d="M260.20,354.38 L272.92,387.33 L281.40,397.47 L289.88,396.62 L345.00,383.95" fill="none" stroke="#000" stroke-width="1.8" stroke-linejoin="round" stroke-dasharray="2.6,1.2"/>
<path d="M260.20,379.73 L272.92,346.77 L281.40,336.63 L289.88,337.48 L345.00,351.00" fill="none" stroke="#000" stroke-width="1.7" stroke-linejoin="round"/>
<circle cx="260.20" cy="354.38" r="1.9" fill="#fff" stroke="#000" stroke-width="1.5"/>
<circle cx="272.92" cy="387.33" r="1.9" fill="#fff" stroke="#000" stroke-width="1.5"/>
<circle cx="281.40" cy="397.47" r="1.9" fill="#fff" stroke="#000" stroke-width="1.5"/>
<circle cx="289.88" cy="396.62" r="1.9" fill="#fff" stroke="#000" stroke-width="1.5"/>
<circle cx="345.00" cy="383.95" r="1.9" fill="#fff" stroke="#000" stroke-width="1.5"/>
<circle cx="260.20" cy="379.73" r="1.9" fill="#000"/>
<circle cx="272.92" cy="346.77" r="1.9" fill="#000"/>
<circle cx="281.40" cy="336.63" r="1.9" fill="#000"/>
<circle cx="289.88" cy="337.48" r="1.9" fill="#000"/>
<circle cx="345.00" cy="351.00" r="1.9" fill="#000"/>
<circle cx="307.20" cy="398.30" r="1.6" fill="#000"/>
<text x="312.40" y="400.40" font-size="5.8" textLength="41.5" lengthAdjust="spacingAndGlyphs" fill="#111" stroke="#111" stroke-width="0.06">CD59+ MM cells</text>
<circle cx="307.20" cy="404.30" r="1.5" fill="#fff" stroke="#000" stroke-width="1.5"/>
<text x="312.40" y="406.40" font-size="5.8" textLength="41.5" lengthAdjust="spacingAndGlyphs" fill="#111" stroke="#111" stroke-width="0.06">CD59- MM cells</text>
<text x="247.80" y="313.50" font-size="5.8" textLength="46.2" lengthAdjust="spacingAndGlyphs" fill="#111" stroke="#111" stroke-width="0.06">Start daratumumab</text>
<path d="M257.90,315.90 L262.50,315.90 L260.20,320.20 Z" fill="#000"/>
<line x1="260.20" y1="315.00" x2="260.20" y2="316.40" stroke="#000" stroke-width="1.0"/>
<text x="265.70" y="321.30" font-size="5.8" textLength="56.1" lengthAdjust="spacingAndGlyphs" fill="#111" stroke="#111" stroke-width="0.06">PD: stop daratumumab</text>
<text x="281.40" y="327.40" font-size="5.8" textLength="24.4" lengthAdjust="spacingAndGlyphs" fill="#111" stroke="#111" stroke-width="0.06">Start RAD</text>
<path d="M287.30,330.20 L291.90,330.20 L289.60,334.50 Z" fill="#000"/>
<line x1="289.60" y1="329.10" x2="289.60" y2="330.70" stroke="#000" stroke-width="1.0"/>
<line x1="404.60" y1="319.80" x2="404.60" y2="409.30" stroke="#000" stroke-width="1.0"/>
<line x1="404.60" y1="409.30" x2="490.00" y2="409.30" stroke="#000" stroke-width="1.0"/>
<line x1="401.30" y1="409.30" x2="404.60" y2="409.30" stroke="#000" stroke-width="1.0"/>
<text x="398.40" y="411.65" font-size="6.6" text-anchor="end" fill="#222" stroke="#222" stroke-width="0.16">0</text>
<line x1="401.30" y1="388.18" x2="404.60" y2="388.18" stroke="#000" stroke-width="1.0"/>
<text x="398.40" y="390.53" font-size="6.6" text-anchor="end" fill="#222" stroke="#222" stroke-width="0.16">25</text>
<line x1="401.30" y1="367.05" x2="404.60" y2="367.05" stroke="#000" stroke-width="1.0"/>
<text x="398.40" y="369.40" font-size="6.6" text-anchor="end" fill="#222" stroke="#222" stroke-width="0.16">50</text>
<line x1="401.30" y1="345.93" x2="404.60" y2="345.93" stroke="#000" stroke-width="1.0"/>
<text x="398.40" y="348.28" font-size="6.6" text-anchor="end" fill="#222" stroke="#222" stroke-width="0.16">75</text>
<line x1="401.30" y1="324.80" x2="404.60" y2="324.80" stroke="#000" stroke-width="1.0"/>
<text x="398.40" y="327.15" font-size="6.6" text-anchor="end" fill="#222" stroke="#222" stroke-width="0.16">100</text>
<line x1="404.60" y1="409.30" x2="404.60" y2="412.30" stroke="#000" stroke-width="1.0"/>
<text x="404.60" y="421.80" font-size="6.6" text-anchor="middle" fill="#222" stroke="#222" stroke-width="0.16">0</text>
<line x1="425.80" y1="409.30" x2="425.80" y2="412.30" stroke="#000" stroke-width="1.0"/>
<text x="425.80" y="421.80" font-size="6.6" text-anchor="middle" fill="#222" stroke="#222" stroke-width="0.16">10</text>
<line x1="447.00" y1="409.30" x2="447.00" y2="412.30" stroke="#000" stroke-width="1.0"/>
<text x="447.00" y="421.80" font-size="6.6" text-anchor="middle" fill="#222" stroke="#222" stroke-width="0.16">20</text>
<line x1="468.20" y1="409.30" x2="468.20" y2="412.30" stroke="#000" stroke-width="1.0"/>
<text x="468.20" y="421.80" font-size="6.6" text-anchor="middle" fill="#222" stroke="#222" stroke-width="0.16">30</text>
<line x1="489.40" y1="409.30" x2="489.40" y2="412.30" stroke="#000" stroke-width="1.0"/>
<text x="489.40" y="421.80" font-size="6.6" text-anchor="middle" fill="#222" stroke="#222" stroke-width="0.16">40</text>
<text x="447.70" y="433.60" font-size="9.2" text-anchor="middle" textLength="45.6" lengthAdjust="spacingAndGlyphs" stroke="#000" stroke-width="0.22">Time (weeks)</text>
<text x="372.60" y="365.40" font-size="9.2" text-anchor="middle" textLength="57.0" lengthAdjust="spacingAndGlyphs" transform="rotate(-90 372.60 365.40)" stroke="#000" stroke-width="0.03">% CD55-positive</text>
<text x="383.00" y="365.40" font-size="9.2" text-anchor="middle" textLength="79.7" lengthAdjust="spacingAndGlyphs" transform="rotate(-90 383.00 365.40)" stroke="#000" stroke-width="0.03">and -negative MM cells</text>
<path d="M404.60,324.80 L417.32,375.50 L425.80,367.05 L434.28,398.31 L489.40,367.05" fill="none" stroke="#000" stroke-width="1.8" stroke-linejoin="round" stroke-dasharray="2.6,1.2"/>
<path d="M404.60,409.30 L417.32,358.60 L425.80,367.05 L434.28,335.79 L489.40,367.05" fill="none" stroke="#000" stroke-width="1.7" stroke-linejoin="round"/>
<circle cx="404.60" cy="324.80" r="1.9" fill="#fff" stroke="#000" stroke-width="1.5"/>
<circle cx="417.32" cy="375.50" r="1.9" fill="#fff" stroke="#000" stroke-width="1.5"/>
<circle cx="425.80" cy="367.05" r="1.9" fill="#fff" stroke="#000" stroke-width="1.5"/>
<circle cx="434.28" cy="398.31" r="1.9" fill="#fff" stroke="#000" stroke-width="1.5"/>
<circle cx="489.40" cy="367.05" r="1.9" fill="#fff" stroke="#000" stroke-width="1.5"/>
<circle cx="404.60" cy="409.30" r="1.9" fill="#000"/>
<circle cx="417.32" cy="358.60" r="1.9" fill="#000"/>
<circle cx="425.80" cy="367.05" r="1.9" fill="#000"/>
<circle cx="434.28" cy="335.79" r="1.9" fill="#000"/>
<circle cx="489.40" cy="367.05" r="1.9" fill="#000"/>
<circle cx="404.60" cy="324.80" r="1.9" fill="#000"/>
<circle cx="451.60" cy="398.30" r="1.6" fill="#000"/>
<text x="456.80" y="400.40" font-size="5.8" textLength="41.5" lengthAdjust="spacingAndGlyphs" fill="#111" stroke="#111" stroke-width="0.06">CD55+ MM cells</text>
<circle cx="451.60" cy="404.30" r="1.5" fill="#fff" stroke="#000" stroke-width="1.5"/>
<text x="456.80" y="406.40" font-size="5.8" textLength="41.5" lengthAdjust="spacingAndGlyphs" fill="#111" stroke="#111" stroke-width="0.06">CD55- MM cells</text>
<text x="392.70" y="313.10" font-size="5.8" textLength="46.1" lengthAdjust="spacingAndGlyphs" fill="#111" stroke="#111" stroke-width="0.06">Start daratumumab</text>
<path d="M402.30,315.90 L406.90,315.90 L404.60,320.20 Z" fill="#000"/>
<line x1="404.60" y1="315.00" x2="404.60" y2="316.40" stroke="#000" stroke-width="1.0"/>
<text x="411.20" y="320.50" font-size="5.8" textLength="54.2" lengthAdjust="spacingAndGlyphs" fill="#111" stroke="#111" stroke-width="0.06">PD: stop daratumumab</text>
<text x="426.20" y="326.90" font-size="5.8" textLength="23.0" lengthAdjust="spacingAndGlyphs" fill="#111" stroke="#111" stroke-width="0.06">Start RAD</text>
<path d="M431.90,330.20 L436.50,330.20 L434.20,334.50 Z" fill="#000"/>
<line x1="434.20" y1="329.10" x2="434.20" y2="330.70" stroke="#000" stroke-width="1.0"/>
<text x="163.00" y="453.80" font-size="9.8" font-weight="bold" textLength="193.0" lengthAdjust="spacingAndGlyphs" stroke="#000" stroke-width="0.1">CD59 expression on circulating MM cells:</text>
<text x="163.00" y="587.30" font-size="9.8" font-weight="bold" textLength="193.0" lengthAdjust="spacingAndGlyphs" stroke="#000" stroke-width="0.1">CD55 expression on circulating MM cells:</text>
<rect x="34.40" y="471.40" width="95.50" height="76.60" fill="none" stroke="#000" stroke-width="1.1"/>
<rect x="160.70" y="471.40" width="96.40" height="76.60" fill="none" stroke="#000" stroke-width="1.1"/>
<rect x="290.20" y="471.60" width="96.00" height="76.40" fill="none" stroke="#000" stroke-width="1.1"/>
<rect x="416.70" y="471.80" width="95.20" height="76.20" fill="none" stroke="#000" stroke-width="1.1"/>
<rect x="34.40" y="606.20" width="94.80" height="76.20" fill="none" stroke="#000" stroke-width="1.1"/>
<rect x="160.30" y="605.80" width="96.20" height="76.60" fill="none" stroke="#000" stroke-width="1.1"/>
<rect x="289.50" y="605.70" width="96.10" height="76.70" fill="none" stroke="#000" stroke-width="1.1"/>
<rect x="416.50" y="605.70" width="95.80" height="76.70" fill="none" stroke="#000" stroke-width="1.1"/>
<text x="45.20" y="466.50" font-size="8.6" textLength="73.7" lengthAdjust="spacingAndGlyphs" stroke="#000" stroke-width="0.16">Start daratumumab</text>
<text x="163.50" y="465.80" font-size="8.6" textLength="90.5" lengthAdjust="spacingAndGlyphs" stroke="#000" stroke-width="0.16">During treatment (wk 6)</text>
<text x="316.80" y="465.80" font-size="8.6" textLength="41.9" lengthAdjust="spacingAndGlyphs" stroke="#000" stroke-width="0.16">PD (wk 14)</text>
<text x="428.80" y="465.80" font-size="8.6" textLength="70.4" lengthAdjust="spacingAndGlyphs" stroke="#000" stroke-width="0.16">6 months after PD</text>
<text x="45.20" y="600.30" font-size="8.6" textLength="73.2" lengthAdjust="spacingAndGlyphs" stroke="#000" stroke-width="0.16">Start daratumumab</text>
<text x="163.50" y="600.00" font-size="8.6" textLength="90.5" lengthAdjust="spacingAndGlyphs" stroke="#000" stroke-width="0.16">During treatment (wk 6)</text>
<text x="317.00" y="600.00" font-size="8.6" textLength="41.8" lengthAdjust="spacingAndGlyphs" stroke="#000" stroke-width="0.16">PD (wk 14)</text>
<text x="429.50" y="600.30" font-size="8.6" textLength="70.5" lengthAdjust="spacingAndGlyphs" stroke="#000" stroke-width="0.16">6 months after PD</text>
<line x1="31.40" y1="548.00" x2="34.40" y2="548.00" stroke="#000" stroke-width="0.8"/>
<text x="28.10" y="549.50" font-size="4.2" text-anchor="end" fill="#666" stroke="#666" stroke-width="0.1">0</text>
<line x1="31.40" y1="531.90" x2="34.40" y2="531.90" stroke="#000" stroke-width="0.8"/>
<text x="28.10" y="533.40" font-size="4.2" text-anchor="end" fill="#666" stroke="#666" stroke-width="0.1">250</text>
<line x1="31.40" y1="515.80" x2="34.40" y2="515.80" stroke="#000" stroke-width="0.8"/>
<text x="28.10" y="517.30" font-size="4.2" text-anchor="end" fill="#666" stroke="#666" stroke-width="0.1">500</text>
<line x1="31.40" y1="499.70" x2="34.40" y2="499.70" stroke="#000" stroke-width="0.8"/>
<text x="28.10" y="501.20" font-size="4.2" text-anchor="end" fill="#666" stroke="#666" stroke-width="0.1">750</text>
<line x1="31.40" y1="483.60" x2="34.40" y2="483.60" stroke="#000" stroke-width="0.8"/>
<text x="28.10" y="485.10" font-size="4.2" text-anchor="end" fill="#666" stroke="#666" stroke-width="0.1">1,000</text>
<line x1="32.90" y1="548.00" x2="34.40" y2="548.00" stroke="#000" stroke-width="0.7"/>
<line x1="32.90" y1="544.78" x2="34.40" y2="544.78" stroke="#000" stroke-width="0.7"/>
<line x1="32.90" y1="541.56" x2="34.40" y2="541.56" stroke="#000" stroke-width="0.7"/>
<line x1="32.90" y1="538.34" x2="34.40" y2="538.34" stroke="#000" stroke-width="0.7"/>
<line x1="32.90" y1="535.12" x2="34.40" y2="535.12" stroke="#000" stroke-width="0.7"/>
<line x1="32.90" y1="531.90" x2="34.40" y2="531.90" stroke="#000" stroke-width="0.7"/>
<line x1="32.90" y1="528.68" x2="34.40" y2="528.68" stroke="#000" stroke-width="0.7"/>
<line x1="32.90" y1="525.46" x2="34.40" y2="525.46" stroke="#000" stroke-width="0.7"/>
<line x1="32.90" y1="522.24" x2="34.40" y2="522.24" stroke="#000" stroke-width="0.7"/>
<line x1="32.90" y1="519.02" x2="34.40" y2="519.02" stroke="#000" stroke-width="0.7"/>
<line x1="32.90" y1="515.80" x2="34.40" y2="515.80" stroke="#000" stroke-width="0.7"/>
<line x1="32.90" y1="512.58" x2="34.40" y2="512.58" stroke="#000" stroke-width="0.7"/>
<line x1="32.90" y1="509.36" x2="34.40" y2="509.36" stroke="#000" stroke-width="0.7"/>
<line x1="32.90" y1="506.14" x2="34.40" y2="506.14" stroke="#000" stroke-width="0.7"/>
<line x1="32.90" y1="502.92" x2="34.40" y2="502.92" stroke="#000" stroke-width="0.7"/>
<line x1="32.90" y1="499.70" x2="34.40" y2="499.70" stroke="#000" stroke-width="0.7"/>
<line x1="32.90" y1="496.48" x2="34.40" y2="496.48" stroke="#000" stroke-width="0.7"/>
<line x1="32.90" y1="493.26" x2="34.40" y2="493.26" stroke="#000" stroke-width="0.7"/>
<line x1="32.90" y1="490.04" x2="34.40" y2="490.04" stroke="#000" stroke-width="0.7"/>
<line x1="32.90" y1="486.82" x2="34.40" y2="486.82" stroke="#000" stroke-width="0.7"/>
<line x1="32.90" y1="483.60" x2="34.40" y2="483.60" stroke="#000" stroke-width="0.7"/>
<line x1="32.90" y1="480.38" x2="34.40" y2="480.38" stroke="#000" stroke-width="0.7"/>
<line x1="32.90" y1="477.16" x2="34.40" y2="477.16" stroke="#000" stroke-width="0.7"/>
<line x1="32.90" y1="473.94" x2="34.40" y2="473.94" stroke="#000" stroke-width="0.7"/>
<line x1="157.70" y1="548.00" x2="160.70" y2="548.00" stroke="#000" stroke-width="0.8"/>
<text x="154.40" y="549.50" font-size="4.2" text-anchor="end" fill="#666" stroke="#666" stroke-width="0.1">0</text>
<line x1="157.70" y1="536.30" x2="160.70" y2="536.30" stroke="#000" stroke-width="0.8"/>
<text x="154.40" y="537.80" font-size="4.2" text-anchor="end" fill="#666" stroke="#666" stroke-width="0.1">10</text>
<line x1="157.70" y1="524.60" x2="160.70" y2="524.60" stroke="#000" stroke-width="0.8"/>
<text x="154.40" y="526.10" font-size="4.2" text-anchor="end" fill="#666" stroke="#666" stroke-width="0.1">20</text>
<line x1="157.70" y1="512.90" x2="160.70" y2="512.90" stroke="#000" stroke-width="0.8"/>
<text x="154.40" y="514.40" font-size="4.2" text-anchor="end" fill="#666" stroke="#666" stroke-width="0.1">30</text>
<line x1="157.70" y1="501.20" x2="160.70" y2="501.20" stroke="#000" stroke-width="0.8"/>
<text x="154.40" y="502.70" font-size="4.2" text-anchor="end" fill="#666" stroke="#666" stroke-width="0.1">40</text>
<line x1="157.70" y1="489.50" x2="160.70" y2="489.50" stroke="#000" stroke-width="0.8"/>
<text x="154.40" y="491.00" font-size="4.2" text-anchor="end" fill="#666" stroke="#666" stroke-width="0.1">50</text>
<line x1="157.70" y1="477.80" x2="160.70" y2="477.80" stroke="#000" stroke-width="0.8"/>
<text x="154.40" y="479.30" font-size="4.2" text-anchor="end" fill="#666" stroke="#666" stroke-width="0.1">60</text>
<line x1="159.20" y1="548.00" x2="160.70" y2="548.00" stroke="#000" stroke-width="0.7"/>
<line x1="159.20" y1="545.66" x2="160.70" y2="545.66" stroke="#000" stroke-width="0.7"/>
<line x1="159.20" y1="543.32" x2="160.70" y2="543.32" stroke="#000" stroke-width="0.7"/>
<line x1="159.20" y1="540.98" x2="160.70" y2="540.98" stroke="#000" stroke-width="0.7"/>
<line x1="159.20" y1="538.64" x2="160.70" y2="538.64" stroke="#000" stroke-width="0.7"/>
<line x1="159.20" y1="536.30" x2="160.70" y2="536.30" stroke="#000" stroke-width="0.7"/>
<line x1="159.20" y1="533.96" x2="160.70" y2="533.96" stroke="#000" stroke-width="0.7"/>
<line x1="159.20" y1="531.62" x2="160.70" y2="531.62" stroke="#000" stroke-width="0.7"/>
<line x1="159.20" y1="529.28" x2="160.70" y2="529.28" stroke="#000" stroke-width="0.7"/>
<line x1="159.20" y1="526.94" x2="160.70" y2="526.94" stroke="#000" stroke-width="0.7"/>
<line x1="159.20" y1="524.60" x2="160.70" y2="524.60" stroke="#000" stroke-width="0.7"/>
<line x1="159.20" y1="522.26" x2="160.70" y2="522.26" stroke="#000" stroke-width="0.7"/>
<line x1="159.20" y1="519.92" x2="160.70" y2="519.92" stroke="#000" stroke-width="0.7"/>
<line x1="159.20" y1="517.58" x2="160.70" y2="517.58" stroke="#000" stroke-width="0.7"/>
<line x1="159.20" y1="515.24" x2="160.70" y2="515.24" stroke="#000" stroke-width="0.7"/>
<line x1="159.20" y1="512.90" x2="160.70" y2="512.90" stroke="#000" stroke-width="0.7"/>
<line x1="159.20" y1="510.56" x2="160.70" y2="510.56" stroke="#000" stroke-width="0.7"/>
<line x1="159.20" y1="508.22" x2="160.70" y2="508.22" stroke="#000" stroke-width="0.7"/>
<line x1="159.20" y1="505.88" x2="160.70" y2="505.88" stroke="#000" stroke-width="0.7"/>
<line x1="159.20" y1="503.54" x2="160.70" y2="503.54" stroke="#000" stroke-width="0.7"/>
<line x1="159.20" y1="501.20" x2="160.70" y2="501.20" stroke="#000" stroke-width="0.7"/>
<line x1="159.20" y1="498.86" x2="160.70" y2="498.86" stroke="#000" stroke-width="0.7"/>
<line x1="159.20" y1="496.52" x2="160.70" y2="496.52" stroke="#000" stroke-width="0.7"/>
<line x1="159.20" y1="494.18" x2="160.70" y2="494.18" stroke="#000" stroke-width="0.7"/>
<line x1="159.20" y1="491.84" x2="160.70" y2="491.84" stroke="#000" stroke-width="0.7"/>
<line x1="159.20" y1="489.50" x2="160.70" y2="489.50" stroke="#000" stroke-width="0.7"/>
<line x1="159.20" y1="487.16" x2="160.70" y2="487.16" stroke="#000" stroke-width="0.7"/>
<line x1="159.20" y1="484.82" x2="160.70" y2="484.82" stroke="#000" stroke-width="0.7"/>
<line x1="159.20" y1="482.48" x2="160.70" y2="482.48" stroke="#000" stroke-width="0.7"/>
<line x1="159.20" y1="480.14" x2="160.70" y2="480.14" stroke="#000" stroke-width="0.7"/>
<line x1="159.20" y1="477.80" x2="160.70" y2="477.80" stroke="#000" stroke-width="0.7"/>
<line x1="159.20" y1="475.46" x2="160.70" y2="475.46" stroke="#000" stroke-width="0.7"/>
<line x1="159.20" y1="473.12" x2="160.70" y2="473.12" stroke="#000" stroke-width="0.7"/>
<line x1="287.20" y1="548.00" x2="290.20" y2="548.00" stroke="#000" stroke-width="0.8"/>
<text x="283.90" y="549.50" font-size="4.2" text-anchor="end" fill="#666" stroke="#666" stroke-width="0.1">0</text>
<line x1="287.20" y1="531.10" x2="290.20" y2="531.10" stroke="#000" stroke-width="0.8"/>
<text x="283.90" y="532.60" font-size="4.2" text-anchor="end" fill="#666" stroke="#666" stroke-width="0.1">25</text>
<line x1="287.20" y1="514.20" x2="290.20" y2="514.20" stroke="#000" stroke-width="0.8"/>
<text x="283.90" y="515.70" font-size="4.2" text-anchor="end" fill="#666" stroke="#666" stroke-width="0.1">50</text>
<line x1="287.20" y1="497.30" x2="290.20" y2="497.30" stroke="#000" stroke-width="0.8"/>
<text x="283.90" y="498.80" font-size="4.2" text-anchor="end" fill="#666" stroke="#666" stroke-width="0.1">75</text>
<line x1="287.20" y1="480.40" x2="290.20" y2="480.40" stroke="#000" stroke-width="0.8"/>
<text x="283.90" y="481.90" font-size="4.2" text-anchor="end" fill="#666" stroke="#666" stroke-width="0.1">100</text>
<line x1="288.70" y1="548.00" x2="290.20" y2="548.00" stroke="#000" stroke-width="0.7"/>
<line x1="288.70" y1="544.62" x2="290.20" y2="544.62" stroke="#000" stroke-width="0.7"/>
<line x1="288.70" y1="541.24" x2="290.20" y2="541.24" stroke="#000" stroke-width="0.7"/>
<line x1="288.70" y1="537.86" x2="290.20" y2="537.86" stroke="#000" stroke-width="0.7"/>
<line x1="288.70" y1="534.48" x2="290.20" y2="534.48" stroke="#000" stroke-width="0.7"/>
<line x1="288.70" y1="531.10" x2="290.20" y2="531.10" stroke="#000" stroke-width="0.7"/>
<line x1="288.70" y1="527.72" x2="290.20" y2="527.72" stroke="#000" stroke-width="0.7"/>
<line x1="288.70" y1="524.34" x2="290.20" y2="524.34" stroke="#000" stroke-width="0.7"/>
<line x1="288.70" y1="520.96" x2="290.20" y2="520.96" stroke="#000" stroke-width="0.7"/>
<line x1="288.70" y1="517.58" x2="290.20" y2="517.58" stroke="#000" stroke-width="0.7"/>
<line x1="288.70" y1="514.20" x2="290.20" y2="514.20" stroke="#000" stroke-width="0.7"/>
<line x1="288.70" y1="510.82" x2="290.20" y2="510.82" stroke="#000" stroke-width="0.7"/>
<line x1="288.70" y1="507.44" x2="290.20" y2="507.44" stroke="#000" stroke-width="0.7"/>
<line x1="288.70" y1="504.06" x2="290.20" y2="504.06" stroke="#000" stroke-width="0.7"/>
<line x1="288.70" y1="500.68" x2="290.20" y2="500.68" stroke="#000" stroke-width="0.7"/>
<line x1="288.70" y1="497.30" x2="290.20" y2="497.30" stroke="#000" stroke-width="0.7"/>
<line x1="288.70" y1="493.92" x2="290.20" y2="493.92" stroke="#000" stroke-width="0.7"/>
<line x1="288.70" y1="490.54" x2="290.20" y2="490.54" stroke="#000" stroke-width="0.7"/>
<line x1="288.70" y1="487.16" x2="290.20" y2="487.16" stroke="#000" stroke-width="0.7"/>
<line x1="288.70" y1="483.78" x2="290.20" y2="483.78" stroke="#000" stroke-width="0.7"/>
<line x1="288.70" y1="480.40" x2="290.20" y2="480.40" stroke="#000" stroke-width="0.7"/>
<line x1="288.70" y1="477.02" x2="290.20" y2="477.02" stroke="#000" stroke-width="0.7"/>
<line x1="288.70" y1="473.64" x2="290.20" y2="473.64" stroke="#000" stroke-width="0.7"/>
<line x1="413.70" y1="548.00" x2="416.70" y2="548.00" stroke="#000" stroke-width="0.8"/>
<text x="410.40" y="549.50" font-size="4.2" text-anchor="end" fill="#666" stroke="#666" stroke-width="0.1">0</text>
<line x1="413.70" y1="529.90" x2="416.70" y2="529.90" stroke="#000" stroke-width="0.8"/>
<text x="410.40" y="531.40" font-size="4.2" text-anchor="end" fill="#666" stroke="#666" stroke-width="0.1">5</text>
<line x1="413.70" y1="511.80" x2="416.70" y2="511.80" stroke="#000" stroke-width="0.8"/>
<text x="410.40" y="513.30" font-size="4.2" text-anchor="end" fill="#666" stroke="#666" stroke-width="0.1">10</text>
<line x1="413.70" y1="493.70" x2="416.70" y2="493.70" stroke="#000" stroke-width="0.8"/>
<text x="410.40" y="495.20" font-size="4.2" text-anchor="end" fill="#666" stroke="#666" stroke-width="0.1">15</text>
<line x1="413.70" y1="475.60" x2="416.70" y2="475.60" stroke="#000" stroke-width="0.8"/>
<text x="410.40" y="477.10" font-size="4.2" text-anchor="end" fill="#666" stroke="#666" stroke-width="0.1">20</text>
<line x1="415.20" y1="548.00" x2="416.70" y2="548.00" stroke="#000" stroke-width="0.7"/>
<line x1="415.20" y1="544.38" x2="416.70" y2="544.38" stroke="#000" stroke-width="0.7"/>
<line x1="415.20" y1="540.76" x2="416.70" y2="540.76" stroke="#000" stroke-width="0.7"/>
<line x1="415.20" y1="537.14" x2="416.70" y2="537.14" stroke="#000" stroke-width="0.7"/>
<line x1="415.20" y1="533.52" x2="416.70" y2="533.52" stroke="#000" stroke-width="0.7"/>
<line x1="415.20" y1="529.90" x2="416.70" y2="529.90" stroke="#000" stroke-width="0.7"/>
<line x1="415.20" y1="526.28" x2="416.70" y2="526.28" stroke="#000" stroke-width="0.7"/>
<line x1="415.20" y1="522.66" x2="416.70" y2="522.66" stroke="#000" stroke-width="0.7"/>
<line x1="415.20" y1="519.04" x2="416.70" y2="519.04" stroke="#000" stroke-width="0.7"/>
<line x1="415.20" y1="515.42" x2="416.70" y2="515.42" stroke="#000" stroke-width="0.7"/>
<line x1="415.20" y1="511.80" x2="416.70" y2="511.80" stroke="#000" stroke-width="0.7"/>
<line x1="415.20" y1="508.18" x2="416.70" y2="508.18" stroke="#000" stroke-width="0.7"/>
<line x1="415.20" y1="504.56" x2="416.70" y2="504.56" stroke="#000" stroke-width="0.7"/>
<line x1="415.20" y1="500.94" x2="416.70" y2="500.94" stroke="#000" stroke-width="0.7"/>
<line x1="415.20" y1="497.32" x2="416.70" y2="497.32" stroke="#000" stroke-width="0.7"/>
<line x1="415.20" y1="493.70" x2="416.70" y2="493.70" stroke="#000" stroke-width="0.7"/>
<line x1="415.20" y1="490.08" x2="416.70" y2="490.08" stroke="#000" stroke-width="0.7"/>
<line x1="415.20" y1="486.46" x2="416.70" y2="486.46" stroke="#000" stroke-width="0.7"/>
<line x1="415.20" y1="482.84" x2="416.70" y2="482.84" stroke="#000" stroke-width="0.7"/>
<line x1="415.20" y1="479.22" x2="416.70" y2="479.22" stroke="#000" stroke-width="0.7"/>
<line x1="415.20" y1="475.60" x2="416.70" y2="475.60" stroke="#000" stroke-width="0.7"/>
<line x1="31.40" y1="682.40" x2="34.40" y2="682.40" stroke="#000" stroke-width="0.8"/>
<text x="28.10" y="683.90" font-size="4.2" text-anchor="end" fill="#666" stroke="#666" stroke-width="0.1">0</text>
<line x1="31.40" y1="674.30" x2="34.40" y2="674.30" stroke="#000" stroke-width="0.8"/>
<text x="28.10" y="675.80" font-size="4.2" text-anchor="end" fill="#666" stroke="#666" stroke-width="0.1">100</text>
<line x1="31.40" y1="666.20" x2="34.40" y2="666.20" stroke="#000" stroke-width="0.8"/>
<text x="28.10" y="667.70" font-size="4.2" text-anchor="end" fill="#666" stroke="#666" stroke-width="0.1">200</text>
<line x1="31.40" y1="658.10" x2="34.40" y2="658.10" stroke="#000" stroke-width="0.8"/>
<text x="28.10" y="659.60" font-size="4.2" text-anchor="end" fill="#666" stroke="#666" stroke-width="0.1">300</text>
<line x1="31.40" y1="650.00" x2="34.40" y2="650.00" stroke="#000" stroke-width="0.8"/>
<text x="28.10" y="651.50" font-size="4.2" text-anchor="end" fill="#666" stroke="#666" stroke-width="0.1">400</text>
<line x1="31.40" y1="641.90" x2="34.40" y2="641.90" stroke="#000" stroke-width="0.8"/>
<text x="28.10" y="643.40" font-size="4.2" text-anchor="end" fill="#666" stroke="#666" stroke-width="0.1">500</text>
<line x1="31.40" y1="633.80" x2="34.40" y2="633.80" stroke="#000" stroke-width="0.8"/>
<text x="28.10" y="635.30" font-size="4.2" text-anchor="end" fill="#666" stroke="#666" stroke-width="0.1">600</text>
<line x1="31.40" y1="625.70" x2="34.40" y2="625.70" stroke="#000" stroke-width="0.8"/>
<text x="28.10" y="627.20" font-size="4.2" text-anchor="end" fill="#666" stroke="#666" stroke-width="0.1">700</text>
<line x1="31.40" y1="617.60" x2="34.40" y2="617.60" stroke="#000" stroke-width="0.8"/>
<text x="28.10" y="619.10" font-size="4.2" text-anchor="end" fill="#666" stroke="#666" stroke-width="0.1">800</text>
<line x1="31.40" y1="609.50" x2="34.40" y2="609.50" stroke="#000" stroke-width="0.8"/>
<text x="28.10" y="611.00" font-size="4.2" text-anchor="end" fill="#666" stroke="#666" stroke-width="0.1">900</text>
<line x1="32.90" y1="682.40" x2="34.40" y2="682.40" stroke="#000" stroke-width="0.7"/>
<line x1="32.90" y1="680.38" x2="34.40" y2="680.38" stroke="#000" stroke-width="0.7"/>
<line x1="32.90" y1="678.35" x2="34.40" y2="678.35" stroke="#000" stroke-width="0.7"/>
<line x1="32.90" y1="676.32" x2="34.40" y2="676.32" stroke="#000" stroke-width="0.7"/>
<line x1="32.90" y1="674.30" x2="34.40" y2="674.30" stroke="#000" stroke-width="0.7"/>
<line x1="32.90" y1="672.27" x2="34.40" y2="672.27" stroke="#000" stroke-width="0.7"/>
<line x1="32.90" y1="670.25" x2="34.40" y2="670.25" stroke="#000" stroke-width="0.7"/>
<line x1="32.90" y1="668.23" x2="34.40" y2="668.23" stroke="#000" stroke-width="0.7"/>
<line x1="32.90" y1="666.20" x2="34.40" y2="666.20" stroke="#000" stroke-width="0.7"/>
<line x1="32.90" y1="664.17" x2="34.40" y2="664.17" stroke="#000" stroke-width="0.7"/>
<line x1="32.90" y1="662.15" x2="34.40" y2="662.15" stroke="#000" stroke-width="0.7"/>
<line x1="32.90" y1="660.12" x2="34.40" y2="660.12" stroke="#000" stroke-width="0.7"/>
<line x1="32.90" y1="658.10" x2="34.40" y2="658.10" stroke="#000" stroke-width="0.7"/>
<line x1="32.90" y1="656.07" x2="34.40" y2="656.07" stroke="#000" stroke-width="0.7"/>
<line x1="32.90" y1="654.05" x2="34.40" y2="654.05" stroke="#000" stroke-width="0.7"/>
<line x1="32.90" y1="652.02" x2="34.40" y2="652.02" stroke="#000" stroke-width="0.7"/>
<line x1="32.90" y1="650.00" x2="34.40" y2="650.00" stroke="#000" stroke-width="0.7"/>
<line x1="32.90" y1="647.98" x2="34.40" y2="647.98" stroke="#000" stroke-width="0.7"/>
<line x1="32.90" y1="645.95" x2="34.40" y2="645.95" stroke="#000" stroke-width="0.7"/>
<line x1="32.90" y1="643.92" x2="34.40" y2="643.92" stroke="#000" stroke-width="0.7"/>
<line x1="32.90" y1="641.90" x2="34.40" y2="641.90" stroke="#000" stroke-width="0.7"/>
<line x1="32.90" y1="639.88" x2="34.40" y2="639.88" stroke="#000" stroke-width="0.7"/>
<line x1="32.90" y1="637.85" x2="34.40" y2="637.85" stroke="#000" stroke-width="0.7"/>
<line x1="32.90" y1="635.82" x2="34.40" y2="635.82" stroke="#000" stroke-width="0.7"/>
<line x1="32.90" y1="633.80" x2="34.40" y2="633.80" stroke="#000" stroke-width="0.7"/>
<line x1="32.90" y1="631.77" x2="34.40" y2="631.77" stroke="#000" stroke-width="0.7"/>
<line x1="32.90" y1="629.75" x2="34.40" y2="629.75" stroke="#000" stroke-width="0.7"/>
<line x1="32.90" y1="627.73" x2="34.40" y2="627.73" stroke="#000" stroke-width="0.7"/>
<line x1="32.90" y1="625.70" x2="34.40" y2="625.70" stroke="#000" stroke-width="0.7"/>
<line x1="32.90" y1="623.67" x2="34.40" y2="623.67" stroke="#000" stroke-width="0.7"/>
<line x1="32.90" y1="621.65" x2="34.40" y2="621.65" stroke="#000" stroke-width="0.7"/>
<line x1="32.90" y1="619.62" x2="34.40" y2="619.62" stroke="#000" stroke-width="0.7"/>
<line x1="32.90" y1="617.60" x2="34.40" y2="617.60" stroke="#000" stroke-width="0.7"/>
<line x1="32.90" y1="615.57" x2="34.40" y2="615.57" stroke="#000" stroke-width="0.7"/>
<line x1="32.90" y1="613.55" x2="34.40" y2="613.55" stroke="#000" stroke-width="0.7"/>
<line x1="32.90" y1="611.52" x2="34.40" y2="611.52" stroke="#000" stroke-width="0.7"/>
<line x1="32.90" y1="609.50" x2="34.40" y2="609.50" stroke="#000" stroke-width="0.7"/>
<line x1="32.90" y1="607.48" x2="34.40" y2="607.48" stroke="#000" stroke-width="0.7"/>
<line x1="157.30" y1="682.40" x2="160.30" y2="682.40" stroke="#000" stroke-width="0.8"/>
<text x="154.00" y="683.90" font-size="4.2" text-anchor="end" fill="#666" stroke="#666" stroke-width="0.1">0</text>
<line x1="157.30" y1="671.44" x2="160.30" y2="671.44" stroke="#000" stroke-width="0.8"/>
<text x="154.00" y="672.94" font-size="4.2" text-anchor="end" fill="#666" stroke="#666" stroke-width="0.1">5</text>
<line x1="157.30" y1="660.48" x2="160.30" y2="660.48" stroke="#000" stroke-width="0.8"/>
<text x="154.00" y="661.98" font-size="4.2" text-anchor="end" fill="#666" stroke="#666" stroke-width="0.1">10</text>
<line x1="157.30" y1="649.52" x2="160.30" y2="649.52" stroke="#000" stroke-width="0.8"/>
<text x="154.00" y="651.02" font-size="4.2" text-anchor="end" fill="#666" stroke="#666" stroke-width="0.1">15</text>
<line x1="157.30" y1="638.56" x2="160.30" y2="638.56" stroke="#000" stroke-width="0.8"/>
<text x="154.00" y="640.06" font-size="4.2" text-anchor="end" fill="#666" stroke="#666" stroke-width="0.1">20</text>
<line x1="157.30" y1="627.60" x2="160.30" y2="627.60" stroke="#000" stroke-width="0.8"/>
<text x="154.00" y="629.10" font-size="4.2" text-anchor="end" fill="#666" stroke="#666" stroke-width="0.1">25</text>
<line x1="157.30" y1="616.64" x2="160.30" y2="616.64" stroke="#000" stroke-width="0.8"/>
<text x="154.00" y="618.14" font-size="4.2" text-anchor="end" fill="#666" stroke="#666" stroke-width="0.1">30</text>
<line x1="157.30" y1="605.68" x2="160.30" y2="605.68" stroke="#000" stroke-width="0.8"/>
<text x="154.00" y="607.18" font-size="4.2" text-anchor="end" fill="#666" stroke="#666" stroke-width="0.1">35</text>
<line x1="158.80" y1="682.40" x2="160.30" y2="682.40" stroke="#000" stroke-width="0.7"/>
<line x1="158.80" y1="680.21" x2="160.30" y2="680.21" stroke="#000" stroke-width="0.7"/>
<line x1="158.80" y1="678.02" x2="160.30" y2="678.02" stroke="#000" stroke-width="0.7"/>
<line x1="158.80" y1="675.82" x2="160.30" y2="675.82" stroke="#000" stroke-width="0.7"/>
<line x1="158.80" y1="673.63" x2="160.30" y2="673.63" stroke="#000" stroke-width="0.7"/>
<line x1="158.80" y1="671.44" x2="160.30" y2="671.44" stroke="#000" stroke-width="0.7"/>
<line x1="158.80" y1="669.25" x2="160.30" y2="669.25" stroke="#000" stroke-width="0.7"/>
<line x1="158.80" y1="667.06" x2="160.30" y2="667.06" stroke="#000" stroke-width="0.7"/>
<line x1="158.80" y1="664.86" x2="160.30" y2="664.86" stroke="#000" stroke-width="0.7"/>
<line x1="158.80" y1="662.67" x2="160.30" y2="662.67" stroke="#000" stroke-width="0.7"/>
<line x1="158.80" y1="660.48" x2="160.30" y2="660.48" stroke="#000" stroke-width="0.7"/>
<line x1="158.80" y1="658.29" x2="160.30" y2="658.29" stroke="#000" stroke-width="0.7"/>
<line x1="158.80" y1="656.10" x2="160.30" y2="656.10" stroke="#000" stroke-width="0.7"/>
<line x1="158.80" y1="653.90" x2="160.30" y2="653.90" stroke="#000" stroke-width="0.7"/>
<line x1="158.80" y1="651.71" x2="160.30" y2="651.71" stroke="#000" stroke-width="0.7"/>
<line x1="158.80" y1="649.52" x2="160.30" y2="649.52" stroke="#000" stroke-width="0.7"/>
<line x1="158.80" y1="647.33" x2="160.30" y2="647.33" stroke="#000" stroke-width="0.7"/>
<line x1="158.80" y1="645.14" x2="160.30" y2="645.14" stroke="#000" stroke-width="0.7"/>
<line x1="158.80" y1="642.94" x2="160.30" y2="642.94" stroke="#000" stroke-width="0.7"/>
<line x1="158.80" y1="640.75" x2="160.30" y2="640.75" stroke="#000" stroke-width="0.7"/>
<line x1="158.80" y1="638.56" x2="160.30" y2="638.56" stroke="#000" stroke-width="0.7"/>
<line x1="158.80" y1="636.37" x2="160.30" y2="636.37" stroke="#000" stroke-width="0.7"/>
<line x1="158.80" y1="634.18" x2="160.30" y2="634.18" stroke="#000" stroke-width="0.7"/>
<line x1="158.80" y1="631.98" x2="160.30" y2="631.98" stroke="#000" stroke-width="0.7"/>
<line x1="158.80" y1="629.79" x2="160.30" y2="629.79" stroke="#000" stroke-width="0.7"/>
<line x1="158.80" y1="627.60" x2="160.30" y2="627.60" stroke="#000" stroke-width="0.7"/>
<line x1="158.80" y1="625.41" x2="160.30" y2="625.41" stroke="#000" stroke-width="0.7"/>
<line x1="158.80" y1="623.22" x2="160.30" y2="623.22" stroke="#000" stroke-width="0.7"/>
<line x1="158.80" y1="621.02" x2="160.30" y2="621.02" stroke="#000" stroke-width="0.7"/>
<line x1="158.80" y1="618.83" x2="160.30" y2="618.83" stroke="#000" stroke-width="0.7"/>
<line x1="158.80" y1="616.64" x2="160.30" y2="616.64" stroke="#000" stroke-width="0.7"/>
<line x1="158.80" y1="614.45" x2="160.30" y2="614.45" stroke="#000" stroke-width="0.7"/>
<line x1="158.80" y1="612.26" x2="160.30" y2="612.26" stroke="#000" stroke-width="0.7"/>
<line x1="158.80" y1="610.06" x2="160.30" y2="610.06" stroke="#000" stroke-width="0.7"/>
<line x1="158.80" y1="607.87" x2="160.30" y2="607.87" stroke="#000" stroke-width="0.7"/>
<line x1="286.50" y1="682.40" x2="289.50" y2="682.40" stroke="#000" stroke-width="0.8"/>
<text x="283.20" y="683.90" font-size="4.2" text-anchor="end" fill="#666" stroke="#666" stroke-width="0.1">0</text>
<line x1="286.50" y1="671.56" x2="289.50" y2="671.56" stroke="#000" stroke-width="0.8"/>
<text x="283.20" y="673.06" font-size="4.2" text-anchor="end" fill="#666" stroke="#666" stroke-width="0.1">10</text>
<line x1="286.50" y1="660.72" x2="289.50" y2="660.72" stroke="#000" stroke-width="0.8"/>
<text x="283.20" y="662.22" font-size="4.2" text-anchor="end" fill="#666" stroke="#666" stroke-width="0.1">20</text>
<line x1="286.50" y1="649.88" x2="289.50" y2="649.88" stroke="#000" stroke-width="0.8"/>
<text x="283.20" y="651.38" font-size="4.2" text-anchor="end" fill="#666" stroke="#666" stroke-width="0.1">30</text>
<line x1="286.50" y1="639.04" x2="289.50" y2="639.04" stroke="#000" stroke-width="0.8"/>
<text x="283.20" y="640.54" font-size="4.2" text-anchor="end" fill="#666" stroke="#666" stroke-width="0.1">40</text>
<line x1="286.50" y1="628.20" x2="289.50" y2="628.20" stroke="#000" stroke-width="0.8"/>
<text x="283.20" y="629.70" font-size="4.2" text-anchor="end" fill="#666" stroke="#666" stroke-width="0.1">50</text>
<line x1="286.50" y1="617.36" x2="289.50" y2="617.36" stroke="#000" stroke-width="0.8"/>
<text x="283.20" y="618.86" font-size="4.2" text-anchor="end" fill="#666" stroke="#666" stroke-width="0.1">60</text>
<line x1="286.50" y1="606.52" x2="289.50" y2="606.52" stroke="#000" stroke-width="0.8"/>
<text x="283.20" y="608.02" font-size="4.2" text-anchor="end" fill="#666" stroke="#666" stroke-width="0.1">70</text>
<line x1="288.00" y1="682.40" x2="289.50" y2="682.40" stroke="#000" stroke-width="0.7"/>
<line x1="288.00" y1="680.23" x2="289.50" y2="680.23" stroke="#000" stroke-width="0.7"/>
<line x1="288.00" y1="678.06" x2="289.50" y2="678.06" stroke="#000" stroke-width="0.7"/>
<line x1="288.00" y1="675.90" x2="289.50" y2="675.90" stroke="#000" stroke-width="0.7"/>
<line x1="288.00" y1="673.73" x2="289.50" y2="673.73" stroke="#000" stroke-width="0.7"/>
<line x1="288.00" y1="671.56" x2="289.50" y2="671.56" stroke="#000" stroke-width="0.7"/>
<line x1="288.00" y1="669.39" x2="289.50" y2="669.39" stroke="#000" stroke-width="0.7"/>
<line x1="288.00" y1="667.22" x2="289.50" y2="667.22" stroke="#000" stroke-width="0.7"/>
<line x1="288.00" y1="665.06" x2="289.50" y2="665.06" stroke="#000" stroke-width="0.7"/>
<line x1="288.00" y1="662.89" x2="289.50" y2="662.89" stroke="#000" stroke-width="0.7"/>
<line x1="288.00" y1="660.72" x2="289.50" y2="660.72" stroke="#000" stroke-width="0.7"/>
<line x1="288.00" y1="658.55" x2="289.50" y2="658.55" stroke="#000" stroke-width="0.7"/>
<line x1="288.00" y1="656.38" x2="289.50" y2="656.38" stroke="#000" stroke-width="0.7"/>
<line x1="288.00" y1="654.22" x2="289.50" y2="654.22" stroke="#000" stroke-width="0.7"/>
<line x1="288.00" y1="652.05" x2="289.50" y2="652.05" stroke="#000" stroke-width="0.7"/>
<line x1="288.00" y1="649.88" x2="289.50" y2="649.88" stroke="#000" stroke-width="0.7"/>
<line x1="288.00" y1="647.71" x2="289.50" y2="647.71" stroke="#000" stroke-width="0.7"/>
<line x1="288.00" y1="645.54" x2="289.50" y2="645.54" stroke="#000" stroke-width="0.7"/>
<line x1="288.00" y1="643.38" x2="289.50" y2="643.38" stroke="#000" stroke-width="0.7"/>
<line x1="288.00" y1="641.21" x2="289.50" y2="641.21" stroke="#000" stroke-width="0.7"/>
<line x1="288.00" y1="639.04" x2="289.50" y2="639.04" stroke="#000" stroke-width="0.7"/>
<line x1="288.00" y1="636.87" x2="289.50" y2="636.87" stroke="#000" stroke-width="0.7"/>
<line x1="288.00" y1="634.70" x2="289.50" y2="634.70" stroke="#000" stroke-width="0.7"/>
<line x1="288.00" y1="632.54" x2="289.50" y2="632.54" stroke="#000" stroke-width="0.7"/>
<line x1="288.00" y1="630.37" x2="289.50" y2="630.37" stroke="#000" stroke-width="0.7"/>
<line x1="288.00" y1="628.20" x2="289.50" y2="628.20" stroke="#000" stroke-width="0.7"/>
<line x1="288.00" y1="626.03" x2="289.50" y2="626.03" stroke="#000" stroke-width="0.7"/>
<line x1="288.00" y1="623.86" x2="289.50" y2="623.86" stroke="#000" stroke-width="0.7"/>
<line x1="288.00" y1="621.70" x2="289.50" y2="621.70" stroke="#000" stroke-width="0.7"/>
<line x1="288.00" y1="619.53" x2="289.50" y2="619.53" stroke="#000" stroke-width="0.7"/>
<line x1="288.00" y1="617.36" x2="289.50" y2="617.36" stroke="#000" stroke-width="0.7"/>
<line x1="288.00" y1="615.19" x2="289.50" y2="615.19" stroke="#000" stroke-width="0.7"/>
<line x1="288.00" y1="613.02" x2="289.50" y2="613.02" stroke="#000" stroke-width="0.7"/>
<line x1="288.00" y1="610.86" x2="289.50" y2="610.86" stroke="#000" stroke-width="0.7"/>
<line x1="288.00" y1="608.69" x2="289.50" y2="608.69" stroke="#000" stroke-width="0.7"/>
<line x1="288.00" y1="606.52" x2="289.50" y2="606.52" stroke="#000" stroke-width="0.7"/>
<line x1="413.50" y1="682.40" x2="416.50" y2="682.40" stroke="#000" stroke-width="0.8"/>
<text x="410.20" y="683.90" font-size="4.2" text-anchor="end" fill="#666" stroke="#666" stroke-width="0.1">0</text>
<line x1="413.50" y1="667.80" x2="416.50" y2="667.80" stroke="#000" stroke-width="0.8"/>
<text x="410.20" y="669.30" font-size="4.2" text-anchor="end" fill="#666" stroke="#666" stroke-width="0.1">2.5</text>
<line x1="413.50" y1="653.20" x2="416.50" y2="653.20" stroke="#000" stroke-width="0.8"/>
<text x="410.20" y="654.70" font-size="4.2" text-anchor="end" fill="#666" stroke="#666" stroke-width="0.1">5</text>
<line x1="413.50" y1="638.60" x2="416.50" y2="638.60" stroke="#000" stroke-width="0.8"/>
<text x="410.20" y="640.10" font-size="4.2" text-anchor="end" fill="#666" stroke="#666" stroke-width="0.1">7.5</text>
<line x1="413.50" y1="624.00" x2="416.50" y2="624.00" stroke="#000" stroke-width="0.8"/>
<text x="410.20" y="625.50" font-size="4.2" text-anchor="end" fill="#666" stroke="#666" stroke-width="0.1">10</text>
<line x1="413.50" y1="609.40" x2="416.50" y2="609.40" stroke="#000" stroke-width="0.8"/>
<text x="410.20" y="610.90" font-size="4.2" text-anchor="end" fill="#666" stroke="#666" stroke-width="0.1">12.5</text>
<line x1="415.00" y1="682.40" x2="416.50" y2="682.40" stroke="#000" stroke-width="0.7"/>
<line x1="415.00" y1="679.48" x2="416.50" y2="679.48" stroke="#000" stroke-width="0.7"/>
<line x1="415.00" y1="676.56" x2="416.50" y2="676.56" stroke="#000" stroke-width="0.7"/>
<line x1="415.00" y1="673.64" x2="416.50" y2="673.64" stroke="#000" stroke-width="0.7"/>
<line x1="415.00" y1="670.72" x2="416.50" y2="670.72" stroke="#000" stroke-width="0.7"/>
<line x1="415.00" y1="667.80" x2="416.50" y2="667.80" stroke="#000" stroke-width="0.7"/>
<line x1="415.00" y1="664.88" x2="416.50" y2="664.88" stroke="#000" stroke-width="0.7"/>
<line x1="415.00" y1="661.96" x2="416.50" y2="661.96" stroke="#000" stroke-width="0.7"/>
<line x1="415.00" y1="659.04" x2="416.50" y2="659.04" stroke="#000" stroke-width="0.7"/>
<line x1="415.00" y1="656.12" x2="416.50" y2="656.12" stroke="#000" stroke-width="0.7"/>
<line x1="415.00" y1="653.20" x2="416.50" y2="653.20" stroke="#000" stroke-width="0.7"/>
<line x1="415.00" y1="650.28" x2="416.50" y2="650.28" stroke="#000" stroke-width="0.7"/>
<line x1="415.00" y1="647.36" x2="416.50" y2="647.36" stroke="#000" stroke-width="0.7"/>
<line x1="415.00" y1="644.44" x2="416.50" y2="644.44" stroke="#000" stroke-width="0.7"/>
<line x1="415.00" y1="641.52" x2="416.50" y2="641.52" stroke="#000" stroke-width="0.7"/>
<line x1="415.00" y1="638.60" x2="416.50" y2="638.60" stroke="#000" stroke-width="0.7"/>
<line x1="415.00" y1="635.68" x2="416.50" y2="635.68" stroke="#000" stroke-width="0.7"/>
<line x1="415.00" y1="632.76" x2="416.50" y2="632.76" stroke="#000" stroke-width="0.7"/>
<line x1="415.00" y1="629.84" x2="416.50" y2="629.84" stroke="#000" stroke-width="0.7"/>
<line x1="415.00" y1="626.92" x2="416.50" y2="626.92" stroke="#000" stroke-width="0.7"/>
<line x1="415.00" y1="624.00" x2="416.50" y2="624.00" stroke="#000" stroke-width="0.7"/>
<line x1="415.00" y1="621.08" x2="416.50" y2="621.08" stroke="#000" stroke-width="0.7"/>
<line x1="415.00" y1="618.16" x2="416.50" y2="618.16" stroke="#000" stroke-width="0.7"/>
<line x1="415.00" y1="615.24" x2="416.50" y2="615.24" stroke="#000" stroke-width="0.7"/>
<line x1="415.00" y1="612.32" x2="416.50" y2="612.32" stroke="#000" stroke-width="0.7"/>
<line x1="415.00" y1="609.40" x2="416.50" y2="609.40" stroke="#000" stroke-width="0.7"/>
<line x1="415.00" y1="606.48" x2="416.50" y2="606.48" stroke="#000" stroke-width="0.7"/>
<text x="12.70" y="509.90" font-size="6.4" text-anchor="middle" textLength="15.0" lengthAdjust="spacingAndGlyphs" transform="rotate(-90 12.70 509.90)" fill="#111" stroke="#111" stroke-width="0.05">Count</text>
<text x="145.10" y="509.90" font-size="6.4" text-anchor="middle" textLength="15.0" lengthAdjust="spacingAndGlyphs" transform="rotate(-90 145.10 509.90)" fill="#111" stroke="#111" stroke-width="0.05">Count</text>
<text x="274.70" y="509.90" font-size="6.4" text-anchor="middle" textLength="15.0" lengthAdjust="spacingAndGlyphs" transform="rotate(-90 274.70 509.90)" fill="#111" stroke="#111" stroke-width="0.05">Count</text>
<text x="401.20" y="509.90" font-size="6.4" text-anchor="middle" textLength="15.0" lengthAdjust="spacingAndGlyphs" transform="rotate(-90 401.20 509.90)" fill="#111" stroke="#111" stroke-width="0.05">Count</text>
<text x="16.20" y="644.40" font-size="6.4" text-anchor="middle" textLength="15.3" lengthAdjust="spacingAndGlyphs" transform="rotate(-90 16.20 644.40)" fill="#111" stroke="#111" stroke-width="0.05">Count</text>
<text x="145.20" y="644.40" font-size="6.4" text-anchor="middle" textLength="15.3" lengthAdjust="spacingAndGlyphs" transform="rotate(-90 145.20 644.40)" fill="#111" stroke="#111" stroke-width="0.05">Count</text>
<text x="274.70" y="644.40" font-size="6.4" text-anchor="middle" textLength="15.3" lengthAdjust="spacingAndGlyphs" transform="rotate(-90 274.70 644.40)" fill="#111" stroke="#111" stroke-width="0.05">Count</text>
<text x="398.80" y="644.40" font-size="6.4" text-anchor="middle" textLength="15.3" lengthAdjust="spacingAndGlyphs" transform="rotate(-90 398.80 644.40)" fill="#111" stroke="#111" stroke-width="0.05">Count</text>
<line x1="42.60" y1="548.00" x2="42.60" y2="550.60" stroke="#000" stroke-width="0.8"/>
<line x1="48.30" y1="548.00" x2="48.30" y2="550.60" stroke="#000" stroke-width="0.8"/>
<line x1="53.90" y1="548.00" x2="53.90" y2="550.60" stroke="#000" stroke-width="0.8"/>
<line x1="77.10" y1="548.00" x2="77.10" y2="550.60" stroke="#000" stroke-width="0.8"/>
<line x1="98.50" y1="548.00" x2="98.50" y2="550.60" stroke="#000" stroke-width="0.8"/>
<line x1="120.70" y1="548.00" x2="120.70" y2="550.60" stroke="#000" stroke-width="0.8"/>
<line x1="60.88" y1="548.00" x2="60.88" y2="549.30" stroke="#000" stroke-width="0.8"/>
<line x1="64.97" y1="548.00" x2="64.97" y2="549.30" stroke="#000" stroke-width="0.8"/>
<line x1="67.87" y1="548.00" x2="67.87" y2="549.30" stroke="#000" stroke-width="0.8"/>
<line x1="70.12" y1="548.00" x2="70.12" y2="549.30" stroke="#000" stroke-width="0.8"/>
<line x1="71.95" y1="548.00" x2="71.95" y2="549.30" stroke="#000" stroke-width="0.8"/>
<line x1="73.51" y1="548.00" x2="73.51" y2="549.30" stroke="#000" stroke-width="0.8"/>
<line x1="74.85" y1="548.00" x2="74.85" y2="549.30" stroke="#000" stroke-width="0.8"/>
<line x1="76.04" y1="548.00" x2="76.04" y2="549.30" stroke="#000" stroke-width="0.8"/>
<line x1="83.54" y1="548.00" x2="83.54" y2="549.30" stroke="#000" stroke-width="0.8"/>
<line x1="87.31" y1="548.00" x2="87.31" y2="549.30" stroke="#000" stroke-width="0.8"/>
<line x1="89.98" y1="548.00" x2="89.98" y2="549.30" stroke="#000" stroke-width="0.8"/>
<line x1="92.06" y1="548.00" x2="92.06" y2="549.30" stroke="#000" stroke-width="0.8"/>
<line x1="93.75" y1="548.00" x2="93.75" y2="549.30" stroke="#000" stroke-width="0.8"/>
<line x1="95.19" y1="548.00" x2="95.19" y2="549.30" stroke="#000" stroke-width="0.8"/>
<line x1="96.43" y1="548.00" x2="96.43" y2="549.30" stroke="#000" stroke-width="0.8"/>
<line x1="97.52" y1="548.00" x2="97.52" y2="549.30" stroke="#000" stroke-width="0.8"/>
<line x1="105.18" y1="548.00" x2="105.18" y2="549.30" stroke="#000" stroke-width="0.8"/>
<line x1="109.09" y1="548.00" x2="109.09" y2="549.30" stroke="#000" stroke-width="0.8"/>
<line x1="111.87" y1="548.00" x2="111.87" y2="549.30" stroke="#000" stroke-width="0.8"/>
<line x1="114.02" y1="548.00" x2="114.02" y2="549.30" stroke="#000" stroke-width="0.8"/>
<line x1="115.77" y1="548.00" x2="115.77" y2="549.30" stroke="#000" stroke-width="0.8"/>
<line x1="117.26" y1="548.00" x2="117.26" y2="549.30" stroke="#000" stroke-width="0.8"/>
<line x1="118.55" y1="548.00" x2="118.55" y2="549.30" stroke="#000" stroke-width="0.8"/>
<line x1="119.68" y1="548.00" x2="119.68" y2="549.30" stroke="#000" stroke-width="0.8"/>
<line x1="127.38" y1="548.00" x2="127.38" y2="549.30" stroke="#000" stroke-width="0.8"/>
<line x1="36.50" y1="548.00" x2="36.50" y2="549.30" stroke="#000" stroke-width="0.8"/>
<line x1="38.70" y1="548.00" x2="38.70" y2="549.30" stroke="#000" stroke-width="0.8"/>
<line x1="40.90" y1="548.00" x2="40.90" y2="549.30" stroke="#000" stroke-width="0.8"/>
<line x1="43.10" y1="548.00" x2="43.10" y2="549.30" stroke="#000" stroke-width="0.8"/>
<line x1="45.30" y1="548.00" x2="45.30" y2="549.30" stroke="#000" stroke-width="0.8"/>
<line x1="47.50" y1="548.00" x2="47.50" y2="549.30" stroke="#000" stroke-width="0.8"/>
<line x1="49.70" y1="548.00" x2="49.70" y2="549.30" stroke="#000" stroke-width="0.8"/>
<line x1="51.90" y1="548.00" x2="51.90" y2="549.30" stroke="#000" stroke-width="0.8"/>
<text x="42.6" y="557.2" font-size="4.4" text-anchor="middle" fill="#555" stroke="#555" stroke-width="0.1">-10<tspan font-size="2.7" dy="-1.8">2</tspan></text>
<text x="48.30" y="557.20" font-size="4.4" text-anchor="middle" fill="#555" stroke="#555" stroke-width="0.1">0</text>
<text x="53.90" y="557.20" font-size="4.4" text-anchor="middle" fill="#555" stroke="#555" stroke-width="0.1">10<tspan font-size="2.6" dy="-1.85">2</tspan></text>
<line x1="46.80" y1="548.00" x2="46.80" y2="550.20" stroke="#000" stroke-width="0.9"/>
<line x1="47.60" y1="548.00" x2="47.60" y2="550.20" stroke="#000" stroke-width="0.9"/>
<line x1="48.30" y1="548.00" x2="48.30" y2="550.20" stroke="#000" stroke-width="0.9"/>
<line x1="49.10" y1="548.00" x2="49.10" y2="550.20" stroke="#000" stroke-width="0.9"/>
<line x1="50.00" y1="548.00" x2="50.00" y2="550.20" stroke="#000" stroke-width="0.9"/>
<line x1="51.00" y1="548.00" x2="51.00" y2="550.20" stroke="#000" stroke-width="0.9"/>
<text x="77.10" y="557.20" font-size="4.4" text-anchor="middle" fill="#555" stroke="#555" stroke-width="0.1">10<tspan font-size="2.6" dy="-1.85">3</tspan></text>
<text x="98.50" y="557.20" font-size="4.4" text-anchor="middle" fill="#555" stroke="#555" stroke-width="0.1">10<tspan font-size="2.6" dy="-1.85">4</tspan></text>
<text x="120.70" y="557.20" font-size="4.4" text-anchor="middle" fill="#555" stroke="#555" stroke-width="0.1">10<tspan font-size="2.6" dy="-1.85">5</tspan></text>
<line x1="174.00" y1="548.00" x2="174.00" y2="550.60" stroke="#000" stroke-width="0.8"/>
<line x1="198.30" y1="548.00" x2="198.30" y2="550.60" stroke="#000" stroke-width="0.8"/>
<line x1="222.70" y1="548.00" x2="222.70" y2="550.60" stroke="#000" stroke-width="0.8"/>
<line x1="246.40" y1="548.00" x2="246.40" y2="550.60" stroke="#000" stroke-width="0.8"/>
<line x1="161.35" y1="548.00" x2="161.35" y2="549.30" stroke="#000" stroke-width="0.8"/>
<line x1="164.37" y1="548.00" x2="164.37" y2="549.30" stroke="#000" stroke-width="0.8"/>
<line x1="166.72" y1="548.00" x2="166.72" y2="549.30" stroke="#000" stroke-width="0.8"/>
<line x1="168.63" y1="548.00" x2="168.63" y2="549.30" stroke="#000" stroke-width="0.8"/>
<line x1="170.25" y1="548.00" x2="170.25" y2="549.30" stroke="#000" stroke-width="0.8"/>
<line x1="171.65" y1="548.00" x2="171.65" y2="549.30" stroke="#000" stroke-width="0.8"/>
<line x1="172.89" y1="548.00" x2="172.89" y2="549.30" stroke="#000" stroke-width="0.8"/>
<line x1="181.32" y1="548.00" x2="181.32" y2="549.30" stroke="#000" stroke-width="0.8"/>
<line x1="185.59" y1="548.00" x2="185.59" y2="549.30" stroke="#000" stroke-width="0.8"/>
<line x1="188.63" y1="548.00" x2="188.63" y2="549.30" stroke="#000" stroke-width="0.8"/>
<line x1="190.98" y1="548.00" x2="190.98" y2="549.30" stroke="#000" stroke-width="0.8"/>
<line x1="192.91" y1="548.00" x2="192.91" y2="549.30" stroke="#000" stroke-width="0.8"/>
<line x1="194.54" y1="548.00" x2="194.54" y2="549.30" stroke="#000" stroke-width="0.8"/>
<line x1="195.95" y1="548.00" x2="195.95" y2="549.30" stroke="#000" stroke-width="0.8"/>
<line x1="197.19" y1="548.00" x2="197.19" y2="549.30" stroke="#000" stroke-width="0.8"/>
<line x1="205.65" y1="548.00" x2="205.65" y2="549.30" stroke="#000" stroke-width="0.8"/>
<line x1="209.94" y1="548.00" x2="209.94" y2="549.30" stroke="#000" stroke-width="0.8"/>
<line x1="212.99" y1="548.00" x2="212.99" y2="549.30" stroke="#000" stroke-width="0.8"/>
<line x1="215.35" y1="548.00" x2="215.35" y2="549.30" stroke="#000" stroke-width="0.8"/>
<line x1="217.29" y1="548.00" x2="217.29" y2="549.30" stroke="#000" stroke-width="0.8"/>
<line x1="218.92" y1="548.00" x2="218.92" y2="549.30" stroke="#000" stroke-width="0.8"/>
<line x1="220.34" y1="548.00" x2="220.34" y2="549.30" stroke="#000" stroke-width="0.8"/>
<line x1="221.58" y1="548.00" x2="221.58" y2="549.30" stroke="#000" stroke-width="0.8"/>
<line x1="229.83" y1="548.00" x2="229.83" y2="549.30" stroke="#000" stroke-width="0.8"/>
<line x1="234.01" y1="548.00" x2="234.01" y2="549.30" stroke="#000" stroke-width="0.8"/>
<line x1="236.97" y1="548.00" x2="236.97" y2="549.30" stroke="#000" stroke-width="0.8"/>
<line x1="239.27" y1="548.00" x2="239.27" y2="549.30" stroke="#000" stroke-width="0.8"/>
<line x1="241.14" y1="548.00" x2="241.14" y2="549.30" stroke="#000" stroke-width="0.8"/>
<line x1="242.73" y1="548.00" x2="242.73" y2="549.30" stroke="#000" stroke-width="0.8"/>
<line x1="244.10" y1="548.00" x2="244.10" y2="549.30" stroke="#000" stroke-width="0.8"/>
<line x1="245.32" y1="548.00" x2="245.32" y2="549.30" stroke="#000" stroke-width="0.8"/>
<line x1="253.68" y1="548.00" x2="253.68" y2="549.30" stroke="#000" stroke-width="0.8"/>
<text x="174.00" y="557.20" font-size="4.4" text-anchor="middle" fill="#555" stroke="#555" stroke-width="0.1">10<tspan font-size="2.6" dy="-1.85">2</tspan></text>
<text x="198.30" y="557.20" font-size="4.4" text-anchor="middle" fill="#555" stroke="#555" stroke-width="0.1">10<tspan font-size="2.6" dy="-1.85">3</tspan></text>
<text x="222.70" y="557.20" font-size="4.4" text-anchor="middle" fill="#555" stroke="#555" stroke-width="0.1">10<tspan font-size="2.6" dy="-1.85">4</tspan></text>
<text x="246.40" y="557.20" font-size="4.4" text-anchor="middle" fill="#555" stroke="#555" stroke-width="0.1">10<tspan font-size="2.6" dy="-1.85">5</tspan></text>
<line x1="303.50" y1="548.00" x2="303.50" y2="550.60" stroke="#000" stroke-width="0.8"/>
<line x1="327.80" y1="548.00" x2="327.80" y2="550.60" stroke="#000" stroke-width="0.8"/>
<line x1="352.20" y1="548.00" x2="352.20" y2="550.60" stroke="#000" stroke-width="0.8"/>
<line x1="375.90" y1="548.00" x2="375.90" y2="550.60" stroke="#000" stroke-width="0.8"/>
<line x1="290.85" y1="548.00" x2="290.85" y2="549.30" stroke="#000" stroke-width="0.8"/>
<line x1="293.87" y1="548.00" x2="293.87" y2="549.30" stroke="#000" stroke-width="0.8"/>
<line x1="296.22" y1="548.00" x2="296.22" y2="549.30" stroke="#000" stroke-width="0.8"/>
<line x1="298.13" y1="548.00" x2="298.13" y2="549.30" stroke="#000" stroke-width="0.8"/>
<line x1="299.75" y1="548.00" x2="299.75" y2="549.30" stroke="#000" stroke-width="0.8"/>
<line x1="301.15" y1="548.00" x2="301.15" y2="549.30" stroke="#000" stroke-width="0.8"/>
<line x1="302.39" y1="548.00" x2="302.39" y2="549.30" stroke="#000" stroke-width="0.8"/>
<line x1="310.82" y1="548.00" x2="310.82" y2="549.30" stroke="#000" stroke-width="0.8"/>
<line x1="315.09" y1="548.00" x2="315.09" y2="549.30" stroke="#000" stroke-width="0.8"/>
<line x1="318.13" y1="548.00" x2="318.13" y2="549.30" stroke="#000" stroke-width="0.8"/>
<line x1="320.48" y1="548.00" x2="320.48" y2="549.30" stroke="#000" stroke-width="0.8"/>
<line x1="322.41" y1="548.00" x2="322.41" y2="549.30" stroke="#000" stroke-width="0.8"/>
<line x1="324.04" y1="548.00" x2="324.04" y2="549.30" stroke="#000" stroke-width="0.8"/>
<line x1="325.45" y1="548.00" x2="325.45" y2="549.30" stroke="#000" stroke-width="0.8"/>
<line x1="326.69" y1="548.00" x2="326.69" y2="549.30" stroke="#000" stroke-width="0.8"/>
<line x1="335.15" y1="548.00" x2="335.15" y2="549.30" stroke="#000" stroke-width="0.8"/>
<line x1="339.44" y1="548.00" x2="339.44" y2="549.30" stroke="#000" stroke-width="0.8"/>
<line x1="342.49" y1="548.00" x2="342.49" y2="549.30" stroke="#000" stroke-width="0.8"/>
<line x1="344.85" y1="548.00" x2="344.85" y2="549.30" stroke="#000" stroke-width="0.8"/>
<line x1="346.79" y1="548.00" x2="346.79" y2="549.30" stroke="#000" stroke-width="0.8"/>
<line x1="348.42" y1="548.00" x2="348.42" y2="549.30" stroke="#000" stroke-width="0.8"/>
<line x1="349.84" y1="548.00" x2="349.84" y2="549.30" stroke="#000" stroke-width="0.8"/>
<line x1="351.08" y1="548.00" x2="351.08" y2="549.30" stroke="#000" stroke-width="0.8"/>
<line x1="359.33" y1="548.00" x2="359.33" y2="549.30" stroke="#000" stroke-width="0.8"/>
<line x1="363.51" y1="548.00" x2="363.51" y2="549.30" stroke="#000" stroke-width="0.8"/>
<line x1="366.47" y1="548.00" x2="366.47" y2="549.30" stroke="#000" stroke-width="0.8"/>
<line x1="368.77" y1="548.00" x2="368.77" y2="549.30" stroke="#000" stroke-width="0.8"/>
<line x1="370.64" y1="548.00" x2="370.64" y2="549.30" stroke="#000" stroke-width="0.8"/>
<line x1="372.23" y1="548.00" x2="372.23" y2="549.30" stroke="#000" stroke-width="0.8"/>
<line x1="373.60" y1="548.00" x2="373.60" y2="549.30" stroke="#000" stroke-width="0.8"/>
<line x1="374.82" y1="548.00" x2="374.82" y2="549.30" stroke="#000" stroke-width="0.8"/>
<line x1="383.18" y1="548.00" x2="383.18" y2="549.30" stroke="#000" stroke-width="0.8"/>
<text x="303.50" y="557.20" font-size="4.4" text-anchor="middle" fill="#555" stroke="#555" stroke-width="0.1">10<tspan font-size="2.6" dy="-1.85">2</tspan></text>
<text x="327.80" y="557.20" font-size="4.4" text-anchor="middle" fill="#555" stroke="#555" stroke-width="0.1">10<tspan font-size="2.6" dy="-1.85">3</tspan></text>
<text x="352.20" y="557.20" font-size="4.4" text-anchor="middle" fill="#555" stroke="#555" stroke-width="0.1">10<tspan font-size="2.6" dy="-1.85">4</tspan></text>
<text x="375.90" y="557.20" font-size="4.4" text-anchor="middle" fill="#555" stroke="#555" stroke-width="0.1">10<tspan font-size="2.6" dy="-1.85">5</tspan></text>
<line x1="430.00" y1="548.00" x2="430.00" y2="550.60" stroke="#000" stroke-width="0.8"/>
<line x1="454.30" y1="548.00" x2="454.30" y2="550.60" stroke="#000" stroke-width="0.8"/>
<line x1="478.70" y1="548.00" x2="478.70" y2="550.60" stroke="#000" stroke-width="0.8"/>
<line x1="502.40" y1="548.00" x2="502.40" y2="550.60" stroke="#000" stroke-width="0.8"/>
<line x1="417.35" y1="548.00" x2="417.35" y2="549.30" stroke="#000" stroke-width="0.8"/>
<line x1="420.37" y1="548.00" x2="420.37" y2="549.30" stroke="#000" stroke-width="0.8"/>
<line x1="422.72" y1="548.00" x2="422.72" y2="549.30" stroke="#000" stroke-width="0.8"/>
<line x1="424.63" y1="548.00" x2="424.63" y2="549.30" stroke="#000" stroke-width="0.8"/>
<line x1="426.25" y1="548.00" x2="426.25" y2="549.30" stroke="#000" stroke-width="0.8"/>
<line x1="427.65" y1="548.00" x2="427.65" y2="549.30" stroke="#000" stroke-width="0.8"/>
<line x1="428.89" y1="548.00" x2="428.89" y2="549.30" stroke="#000" stroke-width="0.8"/>
<line x1="437.32" y1="548.00" x2="437.32" y2="549.30" stroke="#000" stroke-width="0.8"/>
<line x1="441.59" y1="548.00" x2="441.59" y2="549.30" stroke="#000" stroke-width="0.8"/>
<line x1="444.63" y1="548.00" x2="444.63" y2="549.30" stroke="#000" stroke-width="0.8"/>
<line x1="446.98" y1="548.00" x2="446.98" y2="549.30" stroke="#000" stroke-width="0.8"/>
<line x1="448.91" y1="548.00" x2="448.91" y2="549.30" stroke="#000" stroke-width="0.8"/>
<line x1="450.54" y1="548.00" x2="450.54" y2="549.30" stroke="#000" stroke-width="0.8"/>
<line x1="451.95" y1="548.00" x2="451.95" y2="549.30" stroke="#000" stroke-width="0.8"/>
<line x1="453.19" y1="548.00" x2="453.19" y2="549.30" stroke="#000" stroke-width="0.8"/>
<line x1="461.65" y1="548.00" x2="461.65" y2="549.30" stroke="#000" stroke-width="0.8"/>
<line x1="465.94" y1="548.00" x2="465.94" y2="549.30" stroke="#000" stroke-width="0.8"/>
<line x1="468.99" y1="548.00" x2="468.99" y2="549.30" stroke="#000" stroke-width="0.8"/>
<line x1="471.35" y1="548.00" x2="471.35" y2="549.30" stroke="#000" stroke-width="0.8"/>
<line x1="473.29" y1="548.00" x2="473.29" y2="549.30" stroke="#000" stroke-width="0.8"/>
<line x1="474.92" y1="548.00" x2="474.92" y2="549.30" stroke="#000" stroke-width="0.8"/>
<line x1="476.34" y1="548.00" x2="476.34" y2="549.30" stroke="#000" stroke-width="0.8"/>
<line x1="477.58" y1="548.00" x2="477.58" y2="549.30" stroke="#000" stroke-width="0.8"/>
<line x1="485.83" y1="548.00" x2="485.83" y2="549.30" stroke="#000" stroke-width="0.8"/>
<line x1="490.01" y1="548.00" x2="490.01" y2="549.30" stroke="#000" stroke-width="0.8"/>
<line x1="492.97" y1="548.00" x2="492.97" y2="549.30" stroke="#000" stroke-width="0.8"/>
<line x1="495.27" y1="548.00" x2="495.27" y2="549.30" stroke="#000" stroke-width="0.8"/>
<line x1="497.14" y1="548.00" x2="497.14" y2="549.30" stroke="#000" stroke-width="0.8"/>
<line x1="498.73" y1="548.00" x2="498.73" y2="549.30" stroke="#000" stroke-width="0.8"/>
<line x1="500.10" y1="548.00" x2="500.10" y2="549.30" stroke="#000" stroke-width="0.8"/>
<line x1="501.32" y1="548.00" x2="501.32" y2="549.30" stroke="#000" stroke-width="0.8"/>
<line x1="509.68" y1="548.00" x2="509.68" y2="549.30" stroke="#000" stroke-width="0.8"/>
<text x="430.00" y="557.20" font-size="4.4" text-anchor="middle" fill="#555" stroke="#555" stroke-width="0.1">10<tspan font-size="2.6" dy="-1.85">2</tspan></text>
<text x="454.30" y="557.20" font-size="4.4" text-anchor="middle" fill="#555" stroke="#555" stroke-width="0.1">10<tspan font-size="2.6" dy="-1.85">3</tspan></text>
<text x="478.70" y="557.20" font-size="4.4" text-anchor="middle" fill="#555" stroke="#555" stroke-width="0.1">10<tspan font-size="2.6" dy="-1.85">4</tspan></text>
<text x="502.40" y="557.20" font-size="4.4" text-anchor="middle" fill="#555" stroke="#555" stroke-width="0.1">10<tspan font-size="2.6" dy="-1.85">5</tspan></text>
<text x="46.50" y="568.20" font-size="6.3" textLength="70.8" lengthAdjust="spacingAndGlyphs" stroke="#000" stroke-width="0.16">CD59 Pacific blue Violet1-A</text>
<text x="173.80" y="568.20" font-size="6.3" textLength="70.8" lengthAdjust="spacingAndGlyphs" stroke="#000" stroke-width="0.16">CD59 Pacific blue Violet1-A</text>
<text x="302.50" y="568.20" font-size="6.3" textLength="70.8" lengthAdjust="spacingAndGlyphs" stroke="#000" stroke-width="0.16">CD59 Pacific blue Violet1-A</text>
<text x="429.50" y="568.20" font-size="6.3" textLength="70.8" lengthAdjust="spacingAndGlyphs" stroke="#000" stroke-width="0.16">CD59 Pacific blue Violet1-A</text>
<text x="35.50" y="562.50" font-size="3.8" text-anchor="middle" fill="#777">-220</text>
<text x="59.30" y="702.50" font-size="6.3" textLength="45.5" lengthAdjust="spacingAndGlyphs" stroke="#000" stroke-width="0.16">CD55 apc red 1-A</text>
<text x="185.50" y="702.50" font-size="6.3" textLength="45.5" lengthAdjust="spacingAndGlyphs" stroke="#000" stroke-width="0.16">CD55 apc red 1-A</text>
<text x="315.50" y="702.50" font-size="6.3" textLength="45.5" lengthAdjust="spacingAndGlyphs" stroke="#000" stroke-width="0.16">CD55 apc red 1-A</text>
<text x="442.50" y="702.50" font-size="6.3" textLength="45.5" lengthAdjust="spacingAndGlyphs" stroke="#000" stroke-width="0.16">CD55 apc red 1-A</text>
<line x1="53.00" y1="682.40" x2="53.00" y2="685.00" stroke="#000" stroke-width="0.8"/>
<line x1="73.80" y1="682.40" x2="73.80" y2="685.00" stroke="#000" stroke-width="0.8"/>
<line x1="98.80" y1="682.40" x2="98.80" y2="685.00" stroke="#000" stroke-width="0.8"/>
<line x1="120.00" y1="682.40" x2="120.00" y2="685.00" stroke="#000" stroke-width="0.8"/>
<line x1="81.33" y1="682.40" x2="81.33" y2="683.70" stroke="#000" stroke-width="0.8"/>
<line x1="85.73" y1="682.40" x2="85.73" y2="683.70" stroke="#000" stroke-width="0.8"/>
<line x1="88.85" y1="682.40" x2="88.85" y2="683.70" stroke="#000" stroke-width="0.8"/>
<line x1="91.27" y1="682.40" x2="91.27" y2="683.70" stroke="#000" stroke-width="0.8"/>
<line x1="93.25" y1="682.40" x2="93.25" y2="683.70" stroke="#000" stroke-width="0.8"/>
<line x1="94.93" y1="682.40" x2="94.93" y2="683.70" stroke="#000" stroke-width="0.8"/>
<line x1="96.38" y1="682.40" x2="96.38" y2="683.70" stroke="#000" stroke-width="0.8"/>
<line x1="97.66" y1="682.40" x2="97.66" y2="683.70" stroke="#000" stroke-width="0.8"/>
<line x1="105.18" y1="682.40" x2="105.18" y2="683.70" stroke="#000" stroke-width="0.8"/>
<line x1="108.91" y1="682.40" x2="108.91" y2="683.70" stroke="#000" stroke-width="0.8"/>
<line x1="111.56" y1="682.40" x2="111.56" y2="683.70" stroke="#000" stroke-width="0.8"/>
<line x1="113.62" y1="682.40" x2="113.62" y2="683.70" stroke="#000" stroke-width="0.8"/>
<line x1="115.30" y1="682.40" x2="115.30" y2="683.70" stroke="#000" stroke-width="0.8"/>
<line x1="116.72" y1="682.40" x2="116.72" y2="683.70" stroke="#000" stroke-width="0.8"/>
<line x1="117.95" y1="682.40" x2="117.95" y2="683.70" stroke="#000" stroke-width="0.8"/>
<line x1="119.03" y1="682.40" x2="119.03" y2="683.70" stroke="#000" stroke-width="0.8"/>
<line x1="126.47" y1="682.40" x2="126.47" y2="683.70" stroke="#000" stroke-width="0.8"/>
<line x1="42.40" y1="682.40" x2="42.40" y2="683.70" stroke="#000" stroke-width="0.8"/>
<line x1="45.40" y1="682.40" x2="45.40" y2="683.70" stroke="#000" stroke-width="0.8"/>
<line x1="48.40" y1="682.40" x2="48.40" y2="683.70" stroke="#000" stroke-width="0.8"/>
<line x1="50.90" y1="682.40" x2="50.90" y2="683.70" stroke="#000" stroke-width="0.8"/>
<line x1="55.40" y1="682.40" x2="55.40" y2="683.70" stroke="#000" stroke-width="0.8"/>
<line x1="57.90" y1="682.40" x2="57.90" y2="683.70" stroke="#000" stroke-width="0.8"/>
<line x1="60.40" y1="682.40" x2="60.40" y2="683.70" stroke="#000" stroke-width="0.8"/>
<line x1="63.40" y1="682.40" x2="63.40" y2="683.70" stroke="#000" stroke-width="0.8"/>
<text x="53.00" y="691.60" font-size="4.4" text-anchor="middle" fill="#555" stroke="#555" stroke-width="0.1">0</text>
<text x="73.80" y="691.60" font-size="4.4" text-anchor="middle" fill="#555" stroke="#555" stroke-width="0.1">10<tspan font-size="2.6" dy="-1.85">3</tspan></text>
<text x="98.80" y="691.60" font-size="4.4" text-anchor="middle" fill="#555" stroke="#555" stroke-width="0.1">10<tspan font-size="2.6" dy="-1.85">4</tspan></text>
<text x="120.00" y="691.60" font-size="4.4" text-anchor="middle" fill="#555" stroke="#555" stroke-width="0.1">10<tspan font-size="2.6" dy="-1.85">5</tspan></text>
<text x="32.90" y="697.00" font-size="3.8" text-anchor="middle" fill="#777">-949</text>
<text x="30.40" y="684.60" font-size="4.4" fill="#5050c0">M</text>
<line x1="176.00" y1="682.40" x2="176.00" y2="685.00" stroke="#000" stroke-width="0.8"/>
<line x1="201.30" y1="682.40" x2="201.30" y2="685.00" stroke="#000" stroke-width="0.8"/>
<line x1="226.30" y1="682.40" x2="226.30" y2="685.00" stroke="#000" stroke-width="0.8"/>
<line x1="246.30" y1="682.40" x2="246.30" y2="685.00" stroke="#000" stroke-width="0.8"/>
<line x1="208.83" y1="682.40" x2="208.83" y2="683.70" stroke="#000" stroke-width="0.8"/>
<line x1="213.23" y1="682.40" x2="213.23" y2="683.70" stroke="#000" stroke-width="0.8"/>
<line x1="216.35" y1="682.40" x2="216.35" y2="683.70" stroke="#000" stroke-width="0.8"/>
<line x1="218.77" y1="682.40" x2="218.77" y2="683.70" stroke="#000" stroke-width="0.8"/>
<line x1="220.75" y1="682.40" x2="220.75" y2="683.70" stroke="#000" stroke-width="0.8"/>
<line x1="222.43" y1="682.40" x2="222.43" y2="683.70" stroke="#000" stroke-width="0.8"/>
<line x1="223.88" y1="682.40" x2="223.88" y2="683.70" stroke="#000" stroke-width="0.8"/>
<line x1="225.16" y1="682.40" x2="225.16" y2="683.70" stroke="#000" stroke-width="0.8"/>
<line x1="232.32" y1="682.40" x2="232.32" y2="683.70" stroke="#000" stroke-width="0.8"/>
<line x1="235.84" y1="682.40" x2="235.84" y2="683.70" stroke="#000" stroke-width="0.8"/>
<line x1="238.34" y1="682.40" x2="238.34" y2="683.70" stroke="#000" stroke-width="0.8"/>
<line x1="240.28" y1="682.40" x2="240.28" y2="683.70" stroke="#000" stroke-width="0.8"/>
<line x1="241.86" y1="682.40" x2="241.86" y2="683.70" stroke="#000" stroke-width="0.8"/>
<line x1="243.20" y1="682.40" x2="243.20" y2="683.70" stroke="#000" stroke-width="0.8"/>
<line x1="244.36" y1="682.40" x2="244.36" y2="683.70" stroke="#000" stroke-width="0.8"/>
<line x1="245.38" y1="682.40" x2="245.38" y2="683.70" stroke="#000" stroke-width="0.8"/>
<line x1="252.77" y1="682.40" x2="252.77" y2="683.70" stroke="#000" stroke-width="0.8"/>
<line x1="168.30" y1="682.40" x2="168.30" y2="683.70" stroke="#000" stroke-width="0.8"/>
<line x1="171.30" y1="682.40" x2="171.30" y2="683.70" stroke="#000" stroke-width="0.8"/>
<line x1="174.30" y1="682.40" x2="174.30" y2="683.70" stroke="#000" stroke-width="0.8"/>
<line x1="176.80" y1="682.40" x2="176.80" y2="683.70" stroke="#000" stroke-width="0.8"/>
<line x1="181.30" y1="682.40" x2="181.30" y2="683.70" stroke="#000" stroke-width="0.8"/>
<line x1="183.80" y1="682.40" x2="183.80" y2="683.70" stroke="#000" stroke-width="0.8"/>
<line x1="186.30" y1="682.40" x2="186.30" y2="683.70" stroke="#000" stroke-width="0.8"/>
<line x1="189.30" y1="682.40" x2="189.30" y2="683.70" stroke="#000" stroke-width="0.8"/>
<text x="176.00" y="691.60" font-size="4.4" text-anchor="middle" fill="#555" stroke="#555" stroke-width="0.1">0</text>
<text x="201.30" y="691.60" font-size="4.4" text-anchor="middle" fill="#555" stroke="#555" stroke-width="0.1">10<tspan font-size="2.6" dy="-1.85">3</tspan></text>
<text x="226.30" y="691.60" font-size="4.4" text-anchor="middle" fill="#555" stroke="#555" stroke-width="0.1">10<tspan font-size="2.6" dy="-1.85">4</tspan></text>
<text x="246.30" y="691.60" font-size="4.4" text-anchor="middle" fill="#555" stroke="#555" stroke-width="0.1">10<tspan font-size="2.6" dy="-1.85">5</tspan></text>
<text x="158.80" y="697.00" font-size="3.8" text-anchor="middle" fill="#777">-881</text>
<text x="156.30" y="684.60" font-size="4.4" fill="#5050c0">M</text>
<line x1="309.50" y1="682.40" x2="309.50" y2="685.00" stroke="#000" stroke-width="0.8"/>
<line x1="330.00" y1="682.40" x2="330.00" y2="685.00" stroke="#000" stroke-width="0.8"/>
<line x1="355.00" y1="682.40" x2="355.00" y2="685.00" stroke="#000" stroke-width="0.8"/>
<line x1="376.30" y1="682.40" x2="376.30" y2="685.00" stroke="#000" stroke-width="0.8"/>
<line x1="337.53" y1="682.40" x2="337.53" y2="683.70" stroke="#000" stroke-width="0.8"/>
<line x1="341.93" y1="682.40" x2="341.93" y2="683.70" stroke="#000" stroke-width="0.8"/>
<line x1="345.05" y1="682.40" x2="345.05" y2="683.70" stroke="#000" stroke-width="0.8"/>
<line x1="347.47" y1="682.40" x2="347.47" y2="683.70" stroke="#000" stroke-width="0.8"/>
<line x1="349.45" y1="682.40" x2="349.45" y2="683.70" stroke="#000" stroke-width="0.8"/>
<line x1="351.13" y1="682.40" x2="351.13" y2="683.70" stroke="#000" stroke-width="0.8"/>
<line x1="352.58" y1="682.40" x2="352.58" y2="683.70" stroke="#000" stroke-width="0.8"/>
<line x1="353.86" y1="682.40" x2="353.86" y2="683.70" stroke="#000" stroke-width="0.8"/>
<line x1="361.41" y1="682.40" x2="361.41" y2="683.70" stroke="#000" stroke-width="0.8"/>
<line x1="365.16" y1="682.40" x2="365.16" y2="683.70" stroke="#000" stroke-width="0.8"/>
<line x1="367.82" y1="682.40" x2="367.82" y2="683.70" stroke="#000" stroke-width="0.8"/>
<line x1="369.89" y1="682.40" x2="369.89" y2="683.70" stroke="#000" stroke-width="0.8"/>
<line x1="371.57" y1="682.40" x2="371.57" y2="683.70" stroke="#000" stroke-width="0.8"/>
<line x1="373.00" y1="682.40" x2="373.00" y2="683.70" stroke="#000" stroke-width="0.8"/>
<line x1="374.24" y1="682.40" x2="374.24" y2="683.70" stroke="#000" stroke-width="0.8"/>
<line x1="375.33" y1="682.40" x2="375.33" y2="683.70" stroke="#000" stroke-width="0.8"/>
<line x1="382.77" y1="682.40" x2="382.77" y2="683.70" stroke="#000" stroke-width="0.8"/>
<line x1="297.50" y1="682.40" x2="297.50" y2="683.70" stroke="#000" stroke-width="0.8"/>
<line x1="300.50" y1="682.40" x2="300.50" y2="683.70" stroke="#000" stroke-width="0.8"/>
<line x1="303.50" y1="682.40" x2="303.50" y2="683.70" stroke="#000" stroke-width="0.8"/>
<line x1="306.00" y1="682.40" x2="306.00" y2="683.70" stroke="#000" stroke-width="0.8"/>
<line x1="310.50" y1="682.40" x2="310.50" y2="683.70" stroke="#000" stroke-width="0.8"/>
<line x1="313.00" y1="682.40" x2="313.00" y2="683.70" stroke="#000" stroke-width="0.8"/>
<line x1="315.50" y1="682.40" x2="315.50" y2="683.70" stroke="#000" stroke-width="0.8"/>
<line x1="318.50" y1="682.40" x2="318.50" y2="683.70" stroke="#000" stroke-width="0.8"/>
<text x="309.50" y="691.60" font-size="4.4" text-anchor="middle" fill="#555" stroke="#555" stroke-width="0.1">0</text>
<text x="330.00" y="691.60" font-size="4.4" text-anchor="middle" fill="#555" stroke="#555" stroke-width="0.1">10<tspan font-size="2.6" dy="-1.85">3</tspan></text>
<text x="355.00" y="691.60" font-size="4.4" text-anchor="middle" fill="#555" stroke="#555" stroke-width="0.1">10<tspan font-size="2.6" dy="-1.85">4</tspan></text>
<text x="376.30" y="691.60" font-size="4.4" text-anchor="middle" fill="#555" stroke="#555" stroke-width="0.1">10<tspan font-size="2.6" dy="-1.85">5</tspan></text>
<text x="288.00" y="697.00" font-size="3.8" text-anchor="middle" fill="#777">-430</text>
<text x="285.50" y="684.60" font-size="4.4" fill="#5050c0">M</text>
<line x1="435.20" y1="682.40" x2="435.20" y2="685.00" stroke="#000" stroke-width="0.8"/>
<line x1="458.00" y1="682.40" x2="458.00" y2="685.00" stroke="#000" stroke-width="0.8"/>
<line x1="482.30" y1="682.40" x2="482.30" y2="685.00" stroke="#000" stroke-width="0.8"/>
<line x1="503.90" y1="682.40" x2="503.90" y2="685.00" stroke="#000" stroke-width="0.8"/>
<line x1="465.32" y1="682.40" x2="465.32" y2="683.70" stroke="#000" stroke-width="0.8"/>
<line x1="469.59" y1="682.40" x2="469.59" y2="683.70" stroke="#000" stroke-width="0.8"/>
<line x1="472.63" y1="682.40" x2="472.63" y2="683.70" stroke="#000" stroke-width="0.8"/>
<line x1="474.98" y1="682.40" x2="474.98" y2="683.70" stroke="#000" stroke-width="0.8"/>
<line x1="476.91" y1="682.40" x2="476.91" y2="683.70" stroke="#000" stroke-width="0.8"/>
<line x1="478.54" y1="682.40" x2="478.54" y2="683.70" stroke="#000" stroke-width="0.8"/>
<line x1="479.95" y1="682.40" x2="479.95" y2="683.70" stroke="#000" stroke-width="0.8"/>
<line x1="481.19" y1="682.40" x2="481.19" y2="683.70" stroke="#000" stroke-width="0.8"/>
<line x1="488.80" y1="682.40" x2="488.80" y2="683.70" stroke="#000" stroke-width="0.8"/>
<line x1="492.61" y1="682.40" x2="492.61" y2="683.70" stroke="#000" stroke-width="0.8"/>
<line x1="495.30" y1="682.40" x2="495.30" y2="683.70" stroke="#000" stroke-width="0.8"/>
<line x1="497.40" y1="682.40" x2="497.40" y2="683.70" stroke="#000" stroke-width="0.8"/>
<line x1="499.11" y1="682.40" x2="499.11" y2="683.70" stroke="#000" stroke-width="0.8"/>
<line x1="500.55" y1="682.40" x2="500.55" y2="683.70" stroke="#000" stroke-width="0.8"/>
<line x1="501.81" y1="682.40" x2="501.81" y2="683.70" stroke="#000" stroke-width="0.8"/>
<line x1="502.91" y1="682.40" x2="502.91" y2="683.70" stroke="#000" stroke-width="0.8"/>
<line x1="510.37" y1="682.40" x2="510.37" y2="683.70" stroke="#000" stroke-width="0.8"/>
<line x1="424.50" y1="682.40" x2="424.50" y2="683.70" stroke="#000" stroke-width="0.8"/>
<line x1="427.50" y1="682.40" x2="427.50" y2="683.70" stroke="#000" stroke-width="0.8"/>
<line x1="430.50" y1="682.40" x2="430.50" y2="683.70" stroke="#000" stroke-width="0.8"/>
<line x1="433.00" y1="682.40" x2="433.00" y2="683.70" stroke="#000" stroke-width="0.8"/>
<line x1="437.50" y1="682.40" x2="437.50" y2="683.70" stroke="#000" stroke-width="0.8"/>
<line x1="440.00" y1="682.40" x2="440.00" y2="683.70" stroke="#000" stroke-width="0.8"/>
<line x1="442.50" y1="682.40" x2="442.50" y2="683.70" stroke="#000" stroke-width="0.8"/>
<line x1="445.50" y1="682.40" x2="445.50" y2="683.70" stroke="#000" stroke-width="0.8"/>
<text x="435.20" y="691.60" font-size="4.4" text-anchor="middle" fill="#555" stroke="#555" stroke-width="0.1">0</text>
<text x="458.00" y="691.60" font-size="4.4" text-anchor="middle" fill="#555" stroke="#555" stroke-width="0.1">10<tspan font-size="2.6" dy="-1.85">3</tspan></text>
<text x="482.30" y="691.60" font-size="4.4" text-anchor="middle" fill="#555" stroke="#555" stroke-width="0.1">10<tspan font-size="2.6" dy="-1.85">4</tspan></text>
<text x="503.90" y="691.60" font-size="4.4" text-anchor="middle" fill="#555" stroke="#555" stroke-width="0.1">10<tspan font-size="2.6" dy="-1.85">5</tspan></text>
<text x="415.00" y="697.00" font-size="3.8" text-anchor="middle" fill="#777">-949</text>
<text x="412.50" y="684.60" font-size="4.4" fill="#5050c0">M</text>
<path d="M45.00,548.00 L45.00,548.00 L45.50,547.85 L46.00,547.72 L46.50,547.54 L47.00,547.43 L47.50,547.27 L48.00,547.08 L48.50,547.00 L49.00,546.48 L49.50,546.16 L50.00,545.60 L50.50,545.17 L51.00,544.90 L51.50,544.72 L52.00,543.80 L52.50,543.08 L53.00,542.67 L53.50,542.25 L54.00,541.13 L54.50,539.46 L55.00,538.36 L55.50,535.75 L56.00,534.36 L56.50,530.79 L57.00,527.64 L57.50,523.78 L58.00,518.88 L58.50,514.29 L59.00,508.52 L59.50,503.78 L60.00,498.75 L60.50,493.39 L61.00,489.32 L61.50,484.80 L62.00,480.76 L62.50,478.26 L63.00,476.09 L63.50,473.19 L64.00,473.24 L64.50,475.56 L65.00,477.78 L65.50,480.44 L66.00,486.52 L66.50,492.70 L67.00,497.34 L67.50,502.76 L68.00,508.75 L68.50,515.38 L69.00,520.32 L69.50,524.97 L70.00,529.25 L70.50,531.60 L71.00,535.12 L71.50,536.88 L72.00,537.70 L72.50,539.46 L73.00,540.44 L73.50,541.60 L74.00,542.23 L74.50,542.56 L75.00,543.34 L75.50,543.42 L76.00,544.22 L76.50,544.49 L77.00,544.76 L77.50,544.99 L78.00,545.45 L78.50,545.43 L79.00,545.14 L79.50,545.16 L80.00,544.78 L80.50,545.02 L81.00,544.90 L81.50,545.01 L82.00,544.83 L82.50,544.44 L83.00,544.41 L83.50,544.49 L84.00,544.01 L84.50,544.39 L85.00,544.33 L85.50,544.42 L86.00,544.51 L86.50,545.00 L87.00,544.79 L87.50,544.96 L88.00,545.15 L88.50,545.56 L89.00,545.43 L89.50,545.78 L90.00,546.02 L90.50,546.32 L91.00,546.49 L91.50,546.68 L92.00,546.76 L92.50,546.76 L93.00,546.72 L93.50,546.81 L94.00,546.80 L94.50,546.60 L95.00,546.58 L95.50,546.56 L96.00,546.54 L96.50,546.35 L97.00,546.14 L97.50,545.78 L98.00,545.43 L98.50,545.34 L99.00,545.07 L99.50,544.93 L100.00,544.90 L100.50,544.67 L101.00,544.72 L101.50,544.92 L102.00,545.09 L102.50,544.94 L103.00,545.48 L103.50,545.57 L104.00,545.75 L104.50,545.96 L105.00,546.07 L105.50,546.32 L106.00,546.51 L106.50,546.88 L107.00,547.03 L107.50,547.30 L108.00,547.58 L108.00,548.00 Z" fill="#6868f5" stroke="#222288" stroke-width="0.6" stroke-linejoin="round"/>
<path d="M176.50,548.00 L176.50,548.00 L177.20,548.00 L177.20,547.76 L177.90,547.76 L177.90,547.38 L178.60,547.38 L178.60,547.13 L179.30,547.13 L179.30,545.81 L180.00,545.81 L180.00,545.39 L180.70,545.39 L180.70,540.65 L181.40,540.65 L181.40,540.51 L182.10,540.51 L182.10,540.79 L182.80,540.79 L182.80,537.66 L183.50,537.66 L183.50,536.02 L184.20,536.02 L184.20,527.51 L184.90,527.51 L184.90,524.11 L185.60,524.11 L185.60,518.41 L186.30,518.41 L186.30,515.82 L187.00,515.82 L187.00,512.67 L187.70,512.67 L187.70,506.86 L188.40,506.86 L188.40,504.25 L189.10,504.25 L189.10,504.48 L189.80,504.48 L189.80,511.83 L190.50,511.83 L190.50,518.67 L191.20,518.67 L191.20,521.67 L191.90,521.67 L191.90,529.03 L192.60,529.03 L192.60,529.86 L193.30,529.86 L193.30,535.69 L194.00,535.69 L194.00,535.68 L194.70,535.68 L194.70,537.02 L195.40,537.02 L195.40,542.73 L196.10,542.73 L196.10,541.93 L196.80,541.93 L196.80,543.82 L197.50,543.82 L197.50,546.96 L198.20,546.96 L198.20,547.37 L198.90,547.37 L198.90,545.69 L199.60,545.69 L199.60,546.47 L200.30,546.47 L200.30,545.47 L201.00,545.47 L201.00,546.58 L201.70,546.58 L201.70,546.72 L202.40,546.72 L202.40,547.63 L203.10,547.63 L203.10,546.49 L203.80,546.49 L203.80,546.37 L204.50,546.37 L204.50,546.19 L205.20,546.19 L205.20,545.16 L205.90,545.16 L205.90,545.67 L206.60,545.67 L206.60,545.20 L207.30,545.20 L207.30,544.99 L208.00,544.99 L208.00,544.64 L208.70,544.64 L208.70,544.62 L209.40,544.62 L209.40,544.09 L210.10,544.09 L210.10,540.44 L210.80,540.44 L210.80,541.84 L211.50,541.84 L211.50,538.99 L212.20,538.99 L212.20,535.68 L212.90,535.68 L212.90,534.73 L213.60,534.73 L213.60,530.06 L214.30,530.06 L214.30,526.15 L215.00,526.15 L215.00,522.82 L215.70,522.82 L215.70,519.09 L216.40,519.09 L216.40,511.53 L217.10,511.53 L217.10,510.86 L217.80,510.86 L217.80,502.21 L218.50,502.21 L218.50,501.57 L219.20,501.57 L219.20,498.16 L219.90,498.16 L219.90,490.27 L220.60,490.27 L220.60,489.08 L221.30,489.08 L221.30,481.69 L222.00,481.69 L222.00,475.80 L222.70,475.80 L222.70,473.01 L223.40,473.01 L223.40,475.52 L224.10,475.52 L224.10,478.45 L224.80,478.45 L224.80,484.19 L225.50,484.19 L225.50,483.20 L226.20,483.20 L226.20,489.59 L226.90,489.59 L226.90,494.93 L227.60,494.93 L227.60,499.72 L228.30,499.72 L228.30,501.94 L229.00,501.94 L229.00,506.78 L229.70,506.78 L229.70,512.24 L230.40,512.24 L230.40,518.06 L231.10,518.06 L231.10,519.84 L231.80,519.84 L231.80,527.22 L232.50,527.22 L232.50,531.09 L233.20,531.09 L233.20,535.02 L233.90,535.02 L233.90,535.05 L234.60,535.05 L234.60,542.10 L235.30,542.10 L235.30,539.91 L236.00,539.91 L236.00,542.68 L236.70,542.68 L236.70,545.07 L237.40,545.07 L237.40,546.60 L238.10,546.60 L238.10,546.27 L238.80,546.27 L238.80,547.89 L239.50,547.89 L239.50,548.00 Z" fill="#6868f5" stroke="#222288" stroke-width="0.5"/>
<path d="M311.00,548.00 L311.00,547.87 L311.70,547.87 L311.70,546.67 L312.40,546.67 L312.40,546.37 L313.10,546.37 L313.10,542.80 L313.80,542.80 L313.80,541.58 L314.50,541.58 L314.50,538.52 L315.20,538.52 L315.20,535.66 L315.90,535.66 L315.90,535.53 L316.60,535.53 L316.60,532.17 L317.30,532.17 L317.30,532.41 L318.00,532.41 L318.00,529.93 L318.70,529.93 L318.70,529.78 L319.40,529.78 L319.40,532.05 L320.10,532.05 L320.10,534.57 L320.80,534.57 L320.80,533.12 L321.50,533.12 L321.50,534.58 L322.20,534.58 L322.20,537.14 L322.90,537.14 L322.90,541.34 L323.60,541.34 L323.60,543.62 L324.30,543.62 L324.30,546.04 L325.00,546.04 L325.00,547.82 L325.70,547.82 L325.70,547.43 L326.40,547.43 L326.40,548.00 L327.10,548.00 L327.10,547.82 L327.80,547.82 L327.80,547.69 L328.50,547.69 L328.50,547.65 L329.20,547.65 L329.20,547.78 L329.90,547.78 L329.90,548.00 L330.60,548.00 L330.60,547.64 L331.30,547.64 L331.30,547.93 L332.00,547.93 L332.00,547.96 L332.70,547.96 L332.70,547.73 L333.40,547.73 L333.40,547.85 L334.10,547.85 L334.10,547.39 L334.80,547.39 L334.80,546.96 L335.50,546.96 L335.50,546.71 L336.20,546.71 L336.20,546.95 L336.90,546.95 L336.90,546.34 L337.60,546.34 L337.60,545.87 L338.30,545.87 L338.30,545.71 L339.00,545.71 L339.00,544.39 L339.70,544.39 L339.70,542.90 L340.40,542.90 L340.40,543.43 L341.10,543.43 L341.10,542.32 L341.80,542.32 L341.80,539.79 L342.50,539.79 L342.50,540.09 L343.20,540.09 L343.20,537.28 L343.90,537.28 L343.90,535.61 L344.60,535.61 L344.60,531.71 L345.30,531.71 L345.30,526.42 L346.00,526.42 L346.00,524.01 L346.70,524.01 L346.70,515.11 L347.40,515.11 L347.40,510.27 L348.10,510.27 L348.10,505.63 L348.80,505.63 L348.80,498.60 L349.50,498.60 L349.50,494.96 L350.20,494.96 L350.20,487.62 L350.90,487.62 L350.90,484.17 L351.60,484.17 L351.60,478.77 L352.30,478.77 L352.30,476.03 L353.00,476.03 L353.00,475.68 L353.70,475.68 L353.70,473.41 L354.40,473.41 L354.40,476.15 L355.10,476.15 L355.10,477.15 L355.80,477.15 L355.80,480.57 L356.50,480.57 L356.50,483.95 L357.20,483.95 L357.20,490.19 L357.90,490.19 L357.90,495.85 L358.60,495.85 L358.60,499.71 L359.30,499.71 L359.30,505.99 L360.00,505.99 L360.00,508.99 L360.70,508.99 L360.70,516.61 L361.40,516.61 L361.40,522.60 L362.10,522.60 L362.10,529.23 L362.80,529.23 L362.80,532.93 L363.50,532.93 L363.50,536.41 L364.20,536.41 L364.20,541.06 L364.90,541.06 L364.90,544.94 L365.60,544.94 L365.60,545.47 L366.30,545.47 L366.30,547.57 L367.00,547.57 L367.00,548.00 Z" fill="#6868f5" stroke="#222288" stroke-width="0.5"/>
<path d="M428.00,548.00 L428.00,548.00 L428.80,548.00 L428.80,543.33 L429.60,543.33 L429.60,542.54 L430.40,542.54 L430.40,545.62 L431.20,545.62 L431.20,545.59 L432.00,545.59 L432.00,545.12 L432.80,545.12 L432.80,544.36 L433.60,544.36 L433.60,543.51 L434.40,543.51 L434.40,542.65 L435.20,542.65 L435.20,541.80 L436.00,541.80 L436.00,538.81 L436.80,538.81 L436.80,535.81 L437.60,535.81 L437.60,532.82 L438.40,532.82 L438.40,529.52 L439.20,529.52 L439.20,526.04 L440.00,526.04 L440.00,522.88 L440.80,522.88 L440.80,519.77 L441.60,519.77 L441.60,516.67 L442.40,516.67 L442.40,514.21 L443.20,514.21 L443.20,512.16 L444.00,512.16 L444.00,514.56 L444.80,514.56 L444.80,517.60 L445.60,517.60 L445.60,520.81 L446.40,520.81 L446.40,524.29 L447.20,524.29 L447.20,527.39 L448.00,527.39 L448.00,530.26 L448.80,530.26 L448.80,533.05 L449.60,533.05 L449.60,535.74 L450.40,535.74 L450.40,538.43 L451.20,538.43 L451.20,541.13 L452.00,541.13 L452.00,539.67 L452.80,539.67 L452.80,536.83 L453.60,536.83 L453.60,535.83 L454.40,535.83 L454.40,540.35 L455.20,540.35 L455.20,544.87 L456.00,544.87 L456.00,546.35 L456.80,546.35 L456.80,546.81 L457.60,546.81 L457.60,547.27 L458.40,547.27 L458.40,546.38 L459.20,546.38 L459.20,544.14 L460.00,544.14 L460.00,541.90 L460.80,541.90 L460.80,539.66 L461.60,539.66 L461.60,538.35 L462.40,538.35 L462.40,543.58 L463.20,543.58 L463.20,547.51 L464.00,547.51 L464.00,547.54 L464.80,547.54 L464.80,547.58 L465.60,547.58 L465.60,547.61 L466.40,547.61 L466.40,547.65 L467.20,547.65 L467.20,547.68 L468.00,547.68 L468.00,547.71 L468.80,547.71 L468.80,547.75 L469.60,547.75 L469.60,547.78 L470.40,547.78 L470.40,547.08 L471.20,547.08 L471.20,545.64 L472.00,545.64 L472.00,544.19 L472.80,544.19 L472.80,542.75 L473.60,542.75 L473.60,541.31 L474.40,541.31 L474.40,539.86 L475.20,539.86 L475.20,538.42 L476.00,538.42 L476.00,539.45 L476.80,539.45 L476.80,542.94 L477.60,542.94 L477.60,545.98 L478.40,545.98 L478.40,545.79 L479.20,545.79 L479.20,545.60 L480.00,545.60 L480.00,545.40 L480.80,545.40 L480.80,545.21 L481.60,545.21 L481.60,545.02 L482.40,545.02 L482.40,542.76 L483.20,542.76 L483.20,538.42 L484.00,538.42 L484.00,533.02 L484.80,533.02 L484.80,527.62 L485.60,527.62 L485.60,520.79 L486.40,520.79 L486.40,513.10 L487.20,513.10 L487.20,505.40 L488.00,505.40 L488.00,498.67 L488.80,498.67 L488.80,491.26 L489.60,491.26 L489.60,482.58 L490.40,482.58 L490.40,472.10 L491.20,472.10 L491.20,477.34 L492.00,477.34 L492.00,482.58 L492.80,482.58 L492.80,487.22 L493.60,487.22 L493.60,491.26 L494.40,491.26 L494.40,495.30 L495.20,495.30 L495.20,505.40 L496.00,505.40 L496.00,515.50 L496.80,515.50 L496.80,525.60 L497.60,525.60 L497.60,533.22 L498.40,533.22 L498.40,540.85 L499.20,540.85 L499.20,544.74 L500.00,544.74 L500.00,545.86 L500.80,545.86 L500.80,545.63 L501.60,545.63 L501.60,545.40 L502.40,545.40 L502.40,545.17 L503.20,545.17 L503.20,545.25 L504.00,545.25 L504.00,546.25 L504.80,546.25 L504.80,547.25 L505.60,547.25 L505.60,547.30 L506.40,547.30 L506.40,547.03 L507.20,547.03 L507.20,546.77 L508.00,546.77 L508.00,546.50 L508.80,546.50 L508.80,547.10 L509.60,547.10 L509.60,547.70 L510.40,547.70 L510.40,548.00 Z" fill="#acacf6" stroke="none"/>
<path d="M428.00,548.00 L428.00,548.00 L428.80,548.00 L428.80,545.13 L429.60,545.13 L429.60,544.17 L430.40,544.17 L430.40,546.59 L431.20,546.59 L431.20,546.55 L432.00,546.55 L432.00,546.21 L432.80,546.21 L432.80,546.09 L433.60,546.09 L433.60,545.29 L434.40,545.29 L434.40,544.63 L435.20,544.63 L435.20,543.84 L436.00,543.84 L436.00,543.38 L436.80,543.38 L436.80,541.26 L437.60,541.26 L437.60,540.38 L438.40,540.38 L438.40,535.54 L439.20,535.54 L439.20,533.80 L440.00,533.80 L440.00,535.69 L440.80,535.69 L440.80,527.80 L441.60,527.80 L441.60,525.70 L442.40,525.70 L442.40,526.48 L443.20,526.48 L443.20,525.50 L444.00,525.50 L444.00,530.68 L444.80,530.68 L444.80,533.30 L445.60,533.30 L445.60,531.50 L446.40,531.50 L446.40,536.28 L447.20,536.28 L447.20,537.17 L448.00,537.17 L448.00,538.46 L448.80,538.46 L448.80,540.71 L449.60,540.71 L449.60,540.75 L450.40,540.75 L450.40,542.40 L451.20,542.40 L451.20,543.31 L452.00,543.31 L452.00,542.96 L452.80,542.96 L452.80,540.92 L453.60,540.92 L453.60,540.70 L454.40,540.70 L454.40,543.11 L455.20,543.11 L455.20,546.15 L456.00,546.15 L456.00,547.10 L456.80,547.10 L456.80,547.14 L457.60,547.14 L457.60,547.47 L458.40,547.47 L458.40,546.90 L459.20,546.90 L459.20,545.49 L460.00,545.49 L460.00,544.61 L460.80,544.61 L460.80,543.54 L461.60,543.54 L461.60,542.70 L462.40,542.70 L462.40,545.80 L463.20,545.80 L463.20,547.67 L464.00,547.67 L464.00,547.74 L464.80,547.74 L464.80,547.71 L465.60,547.71 L465.60,547.78 L466.40,547.78 L466.40,547.75 L467.20,547.75 L467.20,547.78 L468.00,547.78 L468.00,547.86 L468.80,547.86 L468.80,547.87 L469.60,547.87 L469.60,547.85 L470.40,547.85 L470.40,547.45 L471.20,547.45 L471.20,546.31 L472.00,546.31 L472.00,545.81 L472.80,545.81 L472.80,545.39 L473.60,545.39 L473.60,543.78 L474.40,543.78 L474.40,542.57 L475.20,542.57 L475.20,542.78 L476.00,542.78 L476.00,543.72 L476.80,543.72 L476.80,545.17 L477.60,545.17 L477.60,546.56 L478.40,546.56 L478.40,546.53 L479.20,546.53 L479.20,546.78 L480.00,546.78 L480.00,546.60 L480.80,546.60 L480.80,546.60 L481.60,546.60 L481.60,546.53 L482.40,546.53 L482.40,544.48 L483.20,544.48 L483.20,543.00 L484.00,543.00 L484.00,538.80 L484.80,538.80 L484.80,536.03 L485.60,536.03 L485.60,533.69 L486.40,533.69 L486.40,525.11 L487.20,525.11 L487.20,526.21 L488.00,526.21 L488.00,516.70 L488.80,516.70 L488.80,519.18 L489.60,519.18 L489.60,509.99 L490.40,509.99 L490.40,507.69 L491.20,507.69 L491.20,509.51 L492.00,509.51 L492.00,501.35 L492.80,501.35 L492.80,507.11 L493.60,507.11 L493.60,516.62 L494.40,516.62 L494.40,511.51 L495.20,511.51 L495.20,525.40 L496.00,525.40 L496.00,529.32 L496.80,529.32 L496.80,532.65 L497.60,532.65 L497.60,538.63 L498.40,538.63 L498.40,544.39 L499.20,544.39 L499.20,545.66 L500.00,545.66 L500.00,546.86 L500.80,546.86 L500.80,546.71 L501.60,546.71 L501.60,546.27 L502.40,546.27 L502.40,546.42 L503.20,546.42 L503.20,546.48 L504.00,546.48 L504.00,547.13 L504.80,547.13 L504.80,547.62 L505.60,547.62 L505.60,547.57 L506.40,547.57 L506.40,547.48 L507.20,547.48 L507.20,547.23 L508.00,547.23 L508.00,547.15 L508.80,547.15 L508.80,547.47 L509.60,547.47 L509.60,547.79 L510.40,547.79 L510.40,548.00 Z" fill="#7a7af6" stroke="none"/>
<path d="M428.00,548.00V548.00M429.10,548.00V542.72M430.20,548.00V545.01M431.30,548.00V546.47M432.40,548.00V546.08M433.50,548.00V543.77M434.60,548.00V542.84M435.70,548.00V542.69M436.80,548.00V540.42M437.90,548.00V533.41M439.00,548.00V527.40M440.10,548.00V532.03M441.20,548.00V518.80M442.30,548.00V516.02M443.40,548.00V518.13M444.50,548.00V524.33M445.60,548.00V532.70M446.70,548.00V536.66M447.80,548.00V529.81M448.90,548.00V538.48M450.00,548.00V538.39M451.10,548.00V543.22M452.20,548.00V539.59M453.30,548.00V537.22M454.40,548.00V542.77M455.50,548.00V546.81M456.60,548.00V546.84M457.70,548.00V547.64M458.80,548.00V546.23M459.90,548.00V543.25M461.00,548.00V539.62M462.10,548.00V542.63M463.20,548.00V547.67M464.30,548.00V547.57M465.40,548.00V547.75M466.50,548.00V547.83M467.60,548.00V547.80M468.70,548.00V547.81M469.80,548.00V547.89M470.90,548.00V546.88M472.00,548.00V545.25M473.10,548.00V543.24M474.20,548.00V543.47M475.30,548.00V540.97M476.40,548.00V541.49M477.50,548.00V546.02M478.60,548.00V546.06M479.70,548.00V545.79M480.80,548.00V545.69M481.90,548.00V545.86M483.00,548.00V543.87M484.10,548.00V540.44M485.20,548.00V525.46M486.30,548.00V518.17M487.40,548.00V504.35M488.50,548.00V521.84M489.60,548.00V492.34M490.70,548.00V490.32M491.80,548.00V488.51M492.90,548.00V505.98M494.00,548.00V493.29M495.10,548.00V524.32M496.20,548.00V523.72M497.30,548.00V532.23M498.40,548.00V541.13M499.50,548.00V546.21M500.60,548.00V545.96M501.70,548.00V545.59M502.80,548.00V545.15M503.90,548.00V546.66M505.00,548.00V547.56M506.10,548.00V547.17M507.20,548.00V546.83M508.30,548.00V547.05M509.40,548.00V547.59" stroke="#4242dc" stroke-width="0.7" fill="none"/>
<path d="M428.00,548.00 L428.80,548.00 L428.80,543.33 L429.60,543.33 L429.60,542.54 L430.40,542.54 L430.40,545.62 L431.20,545.62 L431.20,545.59 L432.00,545.59 L432.00,545.12 L432.80,545.12 L432.80,544.36 L433.60,544.36 L433.60,543.51 L434.40,543.51 L434.40,542.65 L435.20,542.65 L435.20,541.80 L436.00,541.80 L436.00,538.81 L436.80,538.81 L436.80,535.81 L437.60,535.81 L437.60,532.82 L438.40,532.82 L438.40,529.52 L439.20,529.52 L439.20,526.04 L440.00,526.04 L440.00,522.88 L440.80,522.88 L440.80,519.77 L441.60,519.77 L441.60,516.67 L442.40,516.67 L442.40,514.21 L443.20,514.21 L443.20,512.16 L444.00,512.16 L444.00,514.56 L444.80,514.56 L444.80,517.60 L445.60,517.60 L445.60,520.81 L446.40,520.81 L446.40,524.29 L447.20,524.29 L447.20,527.39 L448.00,527.39 L448.00,530.26 L448.80,530.26 L448.80,533.05 L449.60,533.05 L449.60,535.74 L450.40,535.74 L450.40,538.43 L451.20,538.43 L451.20,541.13 L452.00,541.13 L452.00,539.67 L452.80,539.67 L452.80,536.83 L453.60,536.83 L453.60,535.83 L454.40,535.83 L454.40,540.35 L455.20,540.35 L455.20,544.87 L456.00,544.87 L456.00,546.35 L456.80,546.35 L456.80,546.81 L457.60,546.81 L457.60,547.27 L458.40,547.27 L458.40,546.38 L459.20,546.38 L459.20,544.14 L460.00,544.14 L460.00,541.90 L460.80,541.90 L460.80,539.66 L461.60,539.66 L461.60,538.35 L462.40,538.35 L462.40,543.58 L463.20,543.58 L463.20,547.51 L464.00,547.51 L464.00,547.54 L464.80,547.54 L464.80,547.58 L465.60,547.58 L465.60,547.61 L466.40,547.61 L466.40,547.65 L467.20,547.65 L467.20,547.68 L468.00,547.68 L468.00,547.71 L468.80,547.71 L468.80,547.75 L469.60,547.75 L469.60,547.78 L470.40,547.78 L470.40,547.08 L471.20,547.08 L471.20,545.64 L472.00,545.64 L472.00,544.19 L472.80,544.19 L472.80,542.75 L473.60,542.75 L473.60,541.31 L474.40,541.31 L474.40,539.86 L475.20,539.86 L475.20,538.42 L476.00,538.42 L476.00,539.45 L476.80,539.45 L476.80,542.94 L477.60,542.94 L477.60,545.98 L478.40,545.98 L478.40,545.79 L479.20,545.79 L479.20,545.60 L480.00,545.60 L480.00,545.40 L480.80,545.40 L480.80,545.21 L481.60,545.21 L481.60,545.02 L482.40,545.02 L482.40,542.76 L483.20,542.76 L483.20,538.42 L484.00,538.42 L484.00,533.02 L484.80,533.02 L484.80,527.62 L485.60,527.62 L485.60,520.79 L486.40,520.79 L486.40,513.10 L487.20,513.10 L487.20,505.40 L488.00,505.40 L488.00,498.67 L488.80,498.67 L488.80,491.26 L489.60,491.26 L489.60,482.58 L490.40,482.58 L490.40,472.10 L491.20,472.10 L491.20,477.34 L492.00,477.34 L492.00,482.58 L492.80,482.58 L492.80,487.22 L493.60,487.22 L493.60,491.26 L494.40,491.26 L494.40,495.30 L495.20,495.30 L495.20,505.40 L496.00,505.40 L496.00,515.50 L496.80,515.50 L496.80,525.60 L497.60,525.60 L497.60,533.22 L498.40,533.22 L498.40,540.85 L499.20,540.85 L499.20,544.74 L500.00,544.74 L500.00,545.86 L500.80,545.86 L500.80,545.63 L501.60,545.63 L501.60,545.40 L502.40,545.40 L502.40,545.17 L503.20,545.17 L503.20,545.25 L504.00,545.25 L504.00,546.25 L504.80,546.25 L504.80,547.25 L505.60,547.25 L505.60,547.30 L506.40,547.30 L506.40,547.03 L507.20,547.03 L507.20,546.77 L508.00,546.77 L508.00,546.50 L508.80,546.50 L508.80,547.10 L509.60,547.10 L509.60,547.70 L510.40,547.70" stroke="#222288" stroke-width="0.3" fill="none" opacity="0.6"/>
<path d="M48.50,682.40 L48.50,682.40 L49.00,681.48 L49.50,679.66 L50.00,678.01 L50.50,675.47 L51.00,672.88 L51.50,669.72 L52.00,665.01 L52.50,661.53 L53.00,657.45 L53.50,653.56 L54.00,649.72 L54.50,645.53 L55.00,642.28 L55.50,638.03 L56.00,634.92 L56.50,631.45 L57.00,628.44 L57.50,625.32 L58.00,622.56 L58.50,618.76 L59.00,615.19 L59.50,612.04 L60.00,609.47 L60.50,607.27 L61.00,609.60 L61.50,611.12 L62.00,613.18 L62.50,614.62 L63.00,617.17 L63.50,620.90 L64.00,624.97 L64.50,629.13 L65.00,632.28 L65.50,634.99 L66.00,638.07 L66.50,642.68 L67.00,646.82 L67.50,650.53 L68.00,652.97 L68.50,654.28 L69.00,656.12 L69.50,657.95 L70.00,659.04 L70.50,660.58 L71.00,661.70 L71.50,661.55 L72.00,662.78 L72.50,662.72 L73.00,663.91 L73.50,664.52 L74.00,665.37 L74.50,665.86 L75.00,666.12 L75.50,666.37 L76.00,666.70 L76.50,667.46 L77.00,667.81 L77.50,667.75 L78.00,668.96 L78.50,668.94 L79.00,669.51 L79.50,669.41 L80.00,669.81 L80.50,669.95 L81.00,670.66 L81.50,670.96 L82.00,671.49 L82.50,671.82 L83.00,672.66 L83.50,673.09 L84.00,672.66 L84.50,673.16 L85.00,673.21 L85.50,673.99 L86.00,674.58 L86.50,674.09 L87.00,674.94 L87.50,674.75 L88.00,674.75 L88.50,675.78 L89.00,675.64 L89.50,675.75 L90.00,676.30 L90.50,676.39 L91.00,676.77 L91.50,677.00 L92.00,677.17 L92.50,677.50 L93.00,677.45 L93.50,677.50 L94.00,677.70 L94.50,677.92 L95.00,678.40 L95.50,678.49 L96.00,678.95 L96.50,678.96 L97.00,679.26 L97.50,679.59 L98.00,679.32 L98.50,679.51 L99.00,679.74 L99.50,680.00 L100.00,680.22 L100.50,680.42 L101.00,680.44 L101.50,680.78 L102.00,680.66 L102.50,681.02 L103.00,681.03 L103.50,681.31 L104.00,681.31 L104.50,681.61 L105.00,681.70 L105.50,681.84 L106.00,681.92 L106.50,682.02 L107.00,682.18 L107.50,682.28 L108.00,682.40 L108.00,682.40 Z" fill="#6868f5" stroke="#222288" stroke-width="0.6" stroke-linejoin="round"/>
<path d="M173.00,682.40 L173.00,681.97 L173.70,681.97 L173.70,680.74 L174.40,680.74 L174.40,678.74 L175.10,678.74 L175.10,677.99 L175.80,677.99 L175.80,669.50 L176.50,669.50 L176.50,667.39 L177.20,667.39 L177.20,664.12 L177.90,664.12 L177.90,661.38 L178.60,661.38 L178.60,662.51 L179.30,662.51 L179.30,653.63 L180.00,653.63 L180.00,653.80 L180.70,653.80 L180.70,647.49 L181.40,647.49 L181.40,643.87 L182.10,643.87 L182.10,639.54 L182.80,639.54 L182.80,637.63 L183.50,637.63 L183.50,633.23 L184.20,633.23 L184.20,626.83 L184.90,626.83 L184.90,628.13 L185.60,628.13 L185.60,623.49 L186.30,623.49 L186.30,626.12 L187.00,626.12 L187.00,623.41 L187.70,623.41 L187.70,625.57 L188.40,625.57 L188.40,627.94 L189.10,627.94 L189.10,620.20 L189.80,620.20 L189.80,618.24 L190.50,618.24 L190.50,632.24 L191.20,632.24 L191.20,632.86 L191.90,632.86 L191.90,639.68 L192.60,639.68 L192.60,637.88 L193.30,637.88 L193.30,641.79 L194.00,641.79 L194.00,641.57 L194.70,641.57 L194.70,641.86 L195.40,641.86 L195.40,642.76 L196.10,642.76 L196.10,645.40 L196.80,645.40 L196.80,646.49 L197.50,646.49 L197.50,646.92 L198.20,646.92 L198.20,655.82 L198.90,655.82 L198.90,658.21 L199.60,658.21 L199.60,660.47 L200.30,660.47 L200.30,655.72 L201.00,655.72 L201.00,652.39 L201.70,652.39 L201.70,650.92 L202.40,650.92 L202.40,641.35 L203.10,641.35 L203.10,642.17 L203.80,642.17 L203.80,640.75 L204.50,640.75 L204.50,639.83 L205.20,639.83 L205.20,641.05 L205.90,641.05 L205.90,642.00 L206.60,642.00 L206.60,637.64 L207.30,637.64 L207.30,637.57 L208.00,637.57 L208.00,636.95 L208.70,636.95 L208.70,632.11 L209.40,632.11 L209.40,626.78 L210.10,626.78 L210.10,628.13 L210.80,628.13 L210.80,626.57 L211.50,626.57 L211.50,627.31 L212.20,627.31 L212.20,625.25 L212.90,625.25 L212.90,623.30 L213.60,623.30 L213.60,617.16 L214.30,617.16 L214.30,618.73 L215.00,618.73 L215.00,617.77 L215.70,617.77 L215.70,609.01 L216.40,609.01 L216.40,617.86 L217.10,617.86 L217.10,625.69 L217.80,625.69 L217.80,622.31 L218.50,622.31 L218.50,624.67 L219.20,624.67 L219.20,632.12 L219.90,632.12 L219.90,631.44 L220.60,631.44 L220.60,626.85 L221.30,626.85 L221.30,619.74 L222.00,619.74 L222.00,624.12 L222.70,624.12 L222.70,632.26 L223.40,632.26 L223.40,636.48 L224.10,636.48 L224.10,638.31 L224.80,638.31 L224.80,635.49 L225.50,635.49 L225.50,644.45 L226.20,644.45 L226.20,644.56 L226.90,644.56 L226.90,652.05 L227.60,652.05 L227.60,649.15 L228.30,649.15 L228.30,657.38 L229.00,657.38 L229.00,654.79 L229.70,654.79 L229.70,656.59 L230.40,656.59 L230.40,655.41 L231.10,655.41 L231.10,666.06 L231.80,666.06 L231.80,668.14 L232.50,668.14 L232.50,670.65 L233.20,670.65 L233.20,670.98 L233.90,670.98 L233.90,676.70 L234.60,676.70 L234.60,674.39 L235.30,674.39 L235.30,675.10 L236.00,675.10 L236.00,675.34 L236.70,675.34 L236.70,679.77 L237.40,679.77 L237.40,677.78 L238.10,677.78 L238.10,679.66 L238.80,679.66 L238.80,680.59 L239.50,680.59 L239.50,682.40 Z" fill="#6868f5" stroke="#222288" stroke-width="0.5"/>
<path d="M302.90,682.40 L302.90,682.03 L303.60,682.03 L303.60,680.73 L304.30,680.73 L304.30,679.74 L305.00,679.74 L305.00,675.50 L305.70,675.50 L305.70,677.41 L306.40,677.41 L306.40,676.19 L307.10,676.19 L307.10,675.09 L307.80,675.09 L307.80,670.91 L308.50,670.91 L308.50,669.54 L309.20,669.54 L309.20,670.81 L309.90,670.81 L309.90,672.10 L310.60,672.10 L310.60,668.60 L311.30,668.60 L311.30,669.61 L312.00,669.61 L312.00,668.03 L312.70,668.03 L312.70,670.72 L313.40,670.72 L313.40,670.91 L314.10,670.91 L314.10,667.28 L314.80,667.28 L314.80,670.49 L315.50,670.49 L315.50,665.75 L316.20,665.75 L316.20,671.13 L316.90,671.13 L316.90,672.25 L317.60,672.25 L317.60,667.91 L318.30,667.91 L318.30,671.23 L319.00,671.23 L319.00,670.56 L319.70,670.56 L319.70,673.42 L320.40,673.42 L320.40,669.43 L321.10,669.43 L321.10,671.89 L321.80,671.89 L321.80,674.54 L322.50,674.54 L322.50,673.92 L323.20,673.92 L323.20,672.79 L323.90,672.79 L323.90,672.27 L324.60,672.27 L324.60,678.16 L325.30,678.16 L325.30,675.49 L326.00,675.49 L326.00,678.75 L326.70,678.75 L326.70,673.74 L327.40,673.74 L327.40,677.82 L328.10,677.82 L328.10,677.47 L328.80,677.47 L328.80,677.74 L329.50,677.74 L329.50,671.97 L330.20,671.97 L330.20,673.73 L330.90,673.73 L330.90,671.36 L331.60,671.36 L331.60,675.11 L332.30,675.11 L332.30,672.28 L333.00,672.28 L333.00,675.46 L333.70,675.46 L333.70,671.51 L334.40,671.51 L334.40,673.33 L335.10,673.33 L335.10,673.15 L335.80,673.15 L335.80,668.64 L336.50,668.64 L336.50,669.81 L337.20,669.81 L337.20,671.48 L337.90,671.48 L337.90,668.16 L338.60,668.16 L338.60,665.47 L339.30,665.47 L339.30,663.22 L340.00,663.22 L340.00,664.65 L340.70,664.65 L340.70,659.40 L341.40,659.40 L341.40,658.78 L342.10,658.78 L342.10,655.18 L342.80,655.18 L342.80,652.02 L343.50,652.02 L343.50,647.38 L344.20,647.38 L344.20,648.45 L344.90,648.45 L344.90,647.87 L345.60,647.87 L345.60,642.07 L346.30,642.07 L346.30,639.94 L347.00,639.94 L347.00,640.35 L347.70,640.35 L347.70,634.68 L348.40,634.68 L348.40,629.16 L349.10,629.16 L349.10,623.65 L349.80,623.65 L349.80,624.13 L350.50,624.13 L350.50,617.86 L351.20,617.86 L351.20,615.55 L351.90,615.55 L351.90,611.36 L352.60,611.36 L352.60,611.87 L353.30,611.87 L353.30,612.62 L354.00,612.62 L354.00,610.28 L354.70,610.28 L354.70,607.87 L355.40,607.87 L355.40,611.46 L356.10,611.46 L356.10,615.46 L356.80,615.46 L356.80,617.12 L357.50,617.12 L357.50,625.76 L358.20,625.76 L358.20,629.69 L358.90,629.69 L358.90,631.20 L359.60,631.20 L359.60,636.62 L360.30,636.62 L360.30,641.52 L361.00,641.52 L361.00,642.84 L361.70,642.84 L361.70,644.49 L362.40,644.49 L362.40,646.15 L363.10,646.15 L363.10,650.05 L363.80,650.05 L363.80,654.83 L364.50,654.83 L364.50,661.76 L365.20,661.76 L365.20,667.11 L365.90,667.11 L365.90,673.59 L366.60,673.59 L366.60,674.45 L367.30,674.45 L367.30,677.66 L368.00,677.66 L368.00,679.20 L368.70,679.20 L368.70,679.51 L369.40,679.51 L369.40,677.72 L370.10,677.72 L370.10,681.41 L370.80,681.41 L370.80,679.95 L371.50,679.95 L371.50,682.09 L372.20,682.09 L372.20,682.40 Z" fill="#6868f5" stroke="#222288" stroke-width="0.5"/>
<path d="M432.30,682.40 L432.30,682.00 L433.10,682.00 L433.10,676.11 L433.90,676.11 L433.90,670.21 L434.70,670.21 L434.70,666.42 L435.50,666.42 L435.50,663.89 L436.30,663.89 L436.30,661.26 L437.10,661.26 L437.10,658.32 L437.90,658.32 L437.90,655.37 L438.70,655.37 L438.70,649.22 L439.50,649.22 L439.50,642.62 L440.30,642.62 L440.30,631.67 L441.10,631.67 L441.10,615.90 L441.90,615.90 L441.90,607.50 L442.70,607.50 L442.70,621.28 L443.50,621.28 L443.50,630.44 L444.30,630.44 L444.30,638.94 L445.10,638.94 L445.10,624.38 L445.90,624.38 L445.90,614.00 L446.70,614.00 L446.70,626.00 L447.50,626.00 L447.50,631.15 L448.30,631.15 L448.30,629.44 L449.10,629.44 L449.10,629.80 L449.90,629.80 L449.90,631.40 L450.70,631.40 L450.70,636.69 L451.50,636.69 L451.50,644.20 L452.30,644.20 L452.30,652.84 L453.10,652.84 L453.10,657.21 L453.90,657.21 L453.90,660.16 L454.70,660.16 L454.70,660.42 L455.50,660.42 L455.50,656.21 L456.30,656.21 L456.30,652.00 L457.10,652.00 L457.10,648.63 L457.90,648.63 L457.90,645.25 L458.70,645.25 L458.70,642.33 L459.50,642.33 L459.50,642.55 L460.30,642.55 L460.30,642.78 L461.10,642.78 L461.10,643.00 L461.90,643.00 L461.90,649.32 L462.70,649.32 L462.70,655.63 L463.50,655.63 L463.50,654.25 L464.30,654.25 L464.30,648.25 L465.10,648.25 L465.10,643.63 L465.90,643.63 L465.90,648.68 L466.70,648.68 L466.70,653.74 L467.50,653.74 L467.50,647.80 L468.30,647.80 L468.30,638.20 L469.10,638.20 L469.10,640.50 L469.90,640.50 L469.90,644.50 L470.70,644.50 L470.70,644.77 L471.50,644.77 L471.50,642.79 L472.30,642.79 L472.30,639.78 L473.10,639.78 L473.10,636.42 L473.90,636.42 L473.90,643.00 L474.70,643.00 L474.70,650.53 L475.50,650.53 L475.50,654.74 L476.30,654.74 L476.30,658.95 L477.10,658.95 L477.10,658.67 L477.90,658.67 L477.90,656.91 L478.70,656.91 L478.70,655.56 L479.50,655.56 L479.50,654.92 L480.30,654.92 L480.30,654.28 L481.10,654.28 L481.10,654.90 L481.90,654.90 L481.90,659.30 L482.70,659.30 L482.70,663.50 L483.50,663.50 L483.50,667.50 L484.30,667.50 L484.30,670.84 L485.10,670.84 L485.10,669.54 L485.90,669.54 L485.90,668.24 L486.70,668.24 L486.70,666.95 L487.50,666.95 L487.50,667.92 L488.30,667.92 L488.30,671.16 L489.10,671.16 L489.10,673.85 L489.90,673.85 L489.90,672.67 L490.70,672.67 L490.70,671.49 L491.50,671.49 L491.50,673.00 L492.30,673.00 L492.30,675.40 L493.10,675.40 L493.10,676.40 L493.90,676.40 L493.90,675.08 L494.70,675.08 L494.70,673.76 L495.50,673.76 L495.50,672.43 L496.30,672.43 L496.30,674.97 L497.10,674.97 L497.10,678.80 L497.90,678.80 L497.90,680.35 L498.70,680.35 L498.70,682.40 Z" fill="#acacf6" stroke="none"/>
<path d="M432.30,682.40 L432.30,682.16 L433.10,682.16 L433.10,678.54 L433.90,678.54 L433.90,675.64 L434.70,675.64 L434.70,673.57 L435.50,673.57 L435.50,672.66 L436.30,672.66 L436.30,668.46 L437.10,668.46 L437.10,670.27 L437.90,670.27 L437.90,669.62 L438.70,669.62 L438.70,665.90 L439.50,665.90 L439.50,662.62 L440.30,662.62 L440.30,656.42 L441.10,656.42 L441.10,649.22 L441.90,649.22 L441.90,647.67 L442.70,647.67 L442.70,651.13 L443.50,651.13 L443.50,655.98 L444.30,655.98 L444.30,657.83 L445.10,657.83 L445.10,654.30 L445.90,654.30 L445.90,651.24 L446.70,651.24 L446.70,655.07 L447.50,655.07 L447.50,653.73 L448.30,653.73 L448.30,654.57 L449.10,654.57 L449.10,650.77 L449.90,650.77 L449.90,650.95 L450.70,650.95 L450.70,658.12 L451.50,658.12 L451.50,664.76 L452.30,664.76 L452.30,664.66 L453.10,664.66 L453.10,667.13 L453.90,667.13 L453.90,670.68 L454.70,670.68 L454.70,669.55 L455.50,669.55 L455.50,669.15 L456.30,669.15 L456.30,662.91 L457.10,662.91 L457.10,661.34 L457.90,661.34 L457.90,659.58 L458.70,659.58 L458.70,656.36 L459.50,656.36 L459.50,662.83 L460.30,662.83 L460.30,660.21 L461.10,660.21 L461.10,658.72 L461.90,658.72 L461.90,662.01 L462.70,662.01 L462.70,668.32 L463.50,668.32 L463.50,669.16 L464.30,669.16 L464.30,662.67 L465.10,662.67 L465.10,664.45 L465.90,664.45 L465.90,662.33 L466.70,662.33 L466.70,669.74 L467.50,669.74 L467.50,663.72 L468.30,663.72 L468.30,658.29 L469.10,658.29 L469.10,662.86 L469.90,662.86 L469.90,661.72 L470.70,661.72 L470.70,661.70 L471.50,661.70 L471.50,661.76 L472.30,661.76 L472.30,655.24 L473.10,655.24 L473.10,653.41 L473.90,653.41 L473.90,657.34 L474.70,657.34 L474.70,666.66 L475.50,666.66 L475.50,670.07 L476.30,670.07 L476.30,670.14 L477.10,670.14 L477.10,671.37 L477.90,671.37 L477.90,667.23 L478.70,667.23 L478.70,669.04 L479.50,669.04 L479.50,669.53 L480.30,669.53 L480.30,668.27 L481.10,668.27 L481.10,667.86 L481.90,667.86 L481.90,668.50 L482.70,668.50 L482.70,672.17 L483.50,672.17 L483.50,674.86 L484.30,674.86 L484.30,675.59 L485.10,675.59 L485.10,676.61 L485.90,676.61 L485.90,675.52 L486.70,675.52 L486.70,673.26 L487.50,673.26 L487.50,673.63 L488.30,673.63 L488.30,677.21 L489.10,677.21 L489.10,678.51 L489.90,678.51 L489.90,677.04 L490.70,677.04 L490.70,676.03 L491.50,676.03 L491.50,678.23 L492.30,678.23 L492.30,678.65 L493.10,678.65 L493.10,679.40 L493.90,679.40 L493.90,679.04 L494.70,679.04 L494.70,678.27 L495.50,678.27 L495.50,677.39 L496.30,677.39 L496.30,678.37 L497.10,678.37 L497.10,680.73 L497.90,680.73 L497.90,681.22 L498.70,681.22 L498.70,682.40 Z" fill="#7a7af6" stroke="none"/>
<path d="M432.30,682.40V682.02M433.40,682.40V674.99M434.50,682.40V674.21M435.60,682.40V666.29M436.70,682.40V663.19M437.80,682.40V669.87M438.90,682.40V656.91M440.00,682.40V644.74M441.10,682.40V617.19M442.20,682.40V614.60M443.30,682.40V638.00M444.40,682.40V647.22M445.50,682.40V616.54M446.60,682.40V645.64M447.70,682.40V641.42M448.80,682.40V654.30M449.90,682.40V635.99M451.00,682.40V645.58M452.10,682.40V662.26M453.20,682.40V666.85M454.30,682.40V665.79M455.40,682.40V659.29M456.50,682.40V664.09M457.60,682.40V657.30M458.70,682.40V650.56M459.80,682.40V655.96M460.90,682.40V644.73M462.00,682.40V653.69M463.10,682.40V657.68M464.20,682.40V653.91M465.30,682.40V649.75M466.40,682.40V661.66M467.50,682.40V655.04M468.60,682.40V648.91M469.70,682.40V652.12M470.80,682.40V662.36M471.90,682.40V643.89M473.00,682.40V655.12M474.10,682.40V653.66M475.20,682.40V653.95M476.30,682.40V663.76M477.40,682.40V659.27M478.50,682.40V664.67M479.60,682.40V661.10M480.70,682.40V661.67M481.80,682.40V665.84M482.90,682.40V669.44M484.00,682.40V672.95M485.10,682.40V670.34M486.20,682.40V667.92M487.30,682.40V673.91M488.40,682.40V673.04M489.50,682.40V675.07M490.60,682.40V674.37M491.70,682.40V677.92M492.80,682.40V678.44M493.90,682.40V677.30M495.00,682.40V675.79M496.10,682.40V675.43M497.20,682.40V679.94M498.30,682.40V681.52" stroke="#4242dc" stroke-width="0.7" fill="none"/>
<path d="M432.30,682.00 L433.10,682.00 L433.10,676.11 L433.90,676.11 L433.90,670.21 L434.70,670.21 L434.70,666.42 L435.50,666.42 L435.50,663.89 L436.30,663.89 L436.30,661.26 L437.10,661.26 L437.10,658.32 L437.90,658.32 L437.90,655.37 L438.70,655.37 L438.70,649.22 L439.50,649.22 L439.50,642.62 L440.30,642.62 L440.30,631.67 L441.10,631.67 L441.10,615.90 L441.90,615.90 L441.90,607.50 L442.70,607.50 L442.70,621.28 L443.50,621.28 L443.50,630.44 L444.30,630.44 L444.30,638.94 L445.10,638.94 L445.10,624.38 L445.90,624.38 L445.90,614.00 L446.70,614.00 L446.70,626.00 L447.50,626.00 L447.50,631.15 L448.30,631.15 L448.30,629.44 L449.10,629.44 L449.10,629.80 L449.90,629.80 L449.90,631.40 L450.70,631.40 L450.70,636.69 L451.50,636.69 L451.50,644.20 L452.30,644.20 L452.30,652.84 L453.10,652.84 L453.10,657.21 L453.90,657.21 L453.90,660.16 L454.70,660.16 L454.70,660.42 L455.50,660.42 L455.50,656.21 L456.30,656.21 L456.30,652.00 L457.10,652.00 L457.10,648.63 L457.90,648.63 L457.90,645.25 L458.70,645.25 L458.70,642.33 L459.50,642.33 L459.50,642.55 L460.30,642.55 L460.30,642.78 L461.10,642.78 L461.10,643.00 L461.90,643.00 L461.90,649.32 L462.70,649.32 L462.70,655.63 L463.50,655.63 L463.50,654.25 L464.30,654.25 L464.30,648.25 L465.10,648.25 L465.10,643.63 L465.90,643.63 L465.90,648.68 L466.70,648.68 L466.70,653.74 L467.50,653.74 L467.50,647.80 L468.30,647.80 L468.30,638.20 L469.10,638.20 L469.10,640.50 L469.90,640.50 L469.90,644.50 L470.70,644.50 L470.70,644.77 L471.50,644.77 L471.50,642.79 L472.30,642.79 L472.30,639.78 L473.10,639.78 L473.10,636.42 L473.90,636.42 L473.90,643.00 L474.70,643.00 L474.70,650.53 L475.50,650.53 L475.50,654.74 L476.30,654.74 L476.30,658.95 L477.10,658.95 L477.10,658.67 L477.90,658.67 L477.90,656.91 L478.70,656.91 L478.70,655.56 L479.50,655.56 L479.50,654.92 L480.30,654.92 L480.30,654.28 L481.10,654.28 L481.10,654.90 L481.90,654.90 L481.90,659.30 L482.70,659.30 L482.70,663.50 L483.50,663.50 L483.50,667.50 L484.30,667.50 L484.30,670.84 L485.10,670.84 L485.10,669.54 L485.90,669.54 L485.90,668.24 L486.70,668.24 L486.70,666.95 L487.50,666.95 L487.50,667.92 L488.30,667.92 L488.30,671.16 L489.10,671.16 L489.10,673.85 L489.90,673.85 L489.90,672.67 L490.70,672.67 L490.70,671.49 L491.50,671.49 L491.50,673.00 L492.30,673.00 L492.30,675.40 L493.10,675.40 L493.10,676.40 L493.90,676.40 L493.90,675.08 L494.70,675.08 L494.70,673.76 L495.50,673.76 L495.50,672.43 L496.30,672.43 L496.30,674.97 L497.10,674.97 L497.10,678.80 L497.90,678.80 L497.90,680.35 L498.70,680.35" stroke="#222288" stroke-width="0.3" fill="none" opacity="0.6"/>
</svg></body></html>
